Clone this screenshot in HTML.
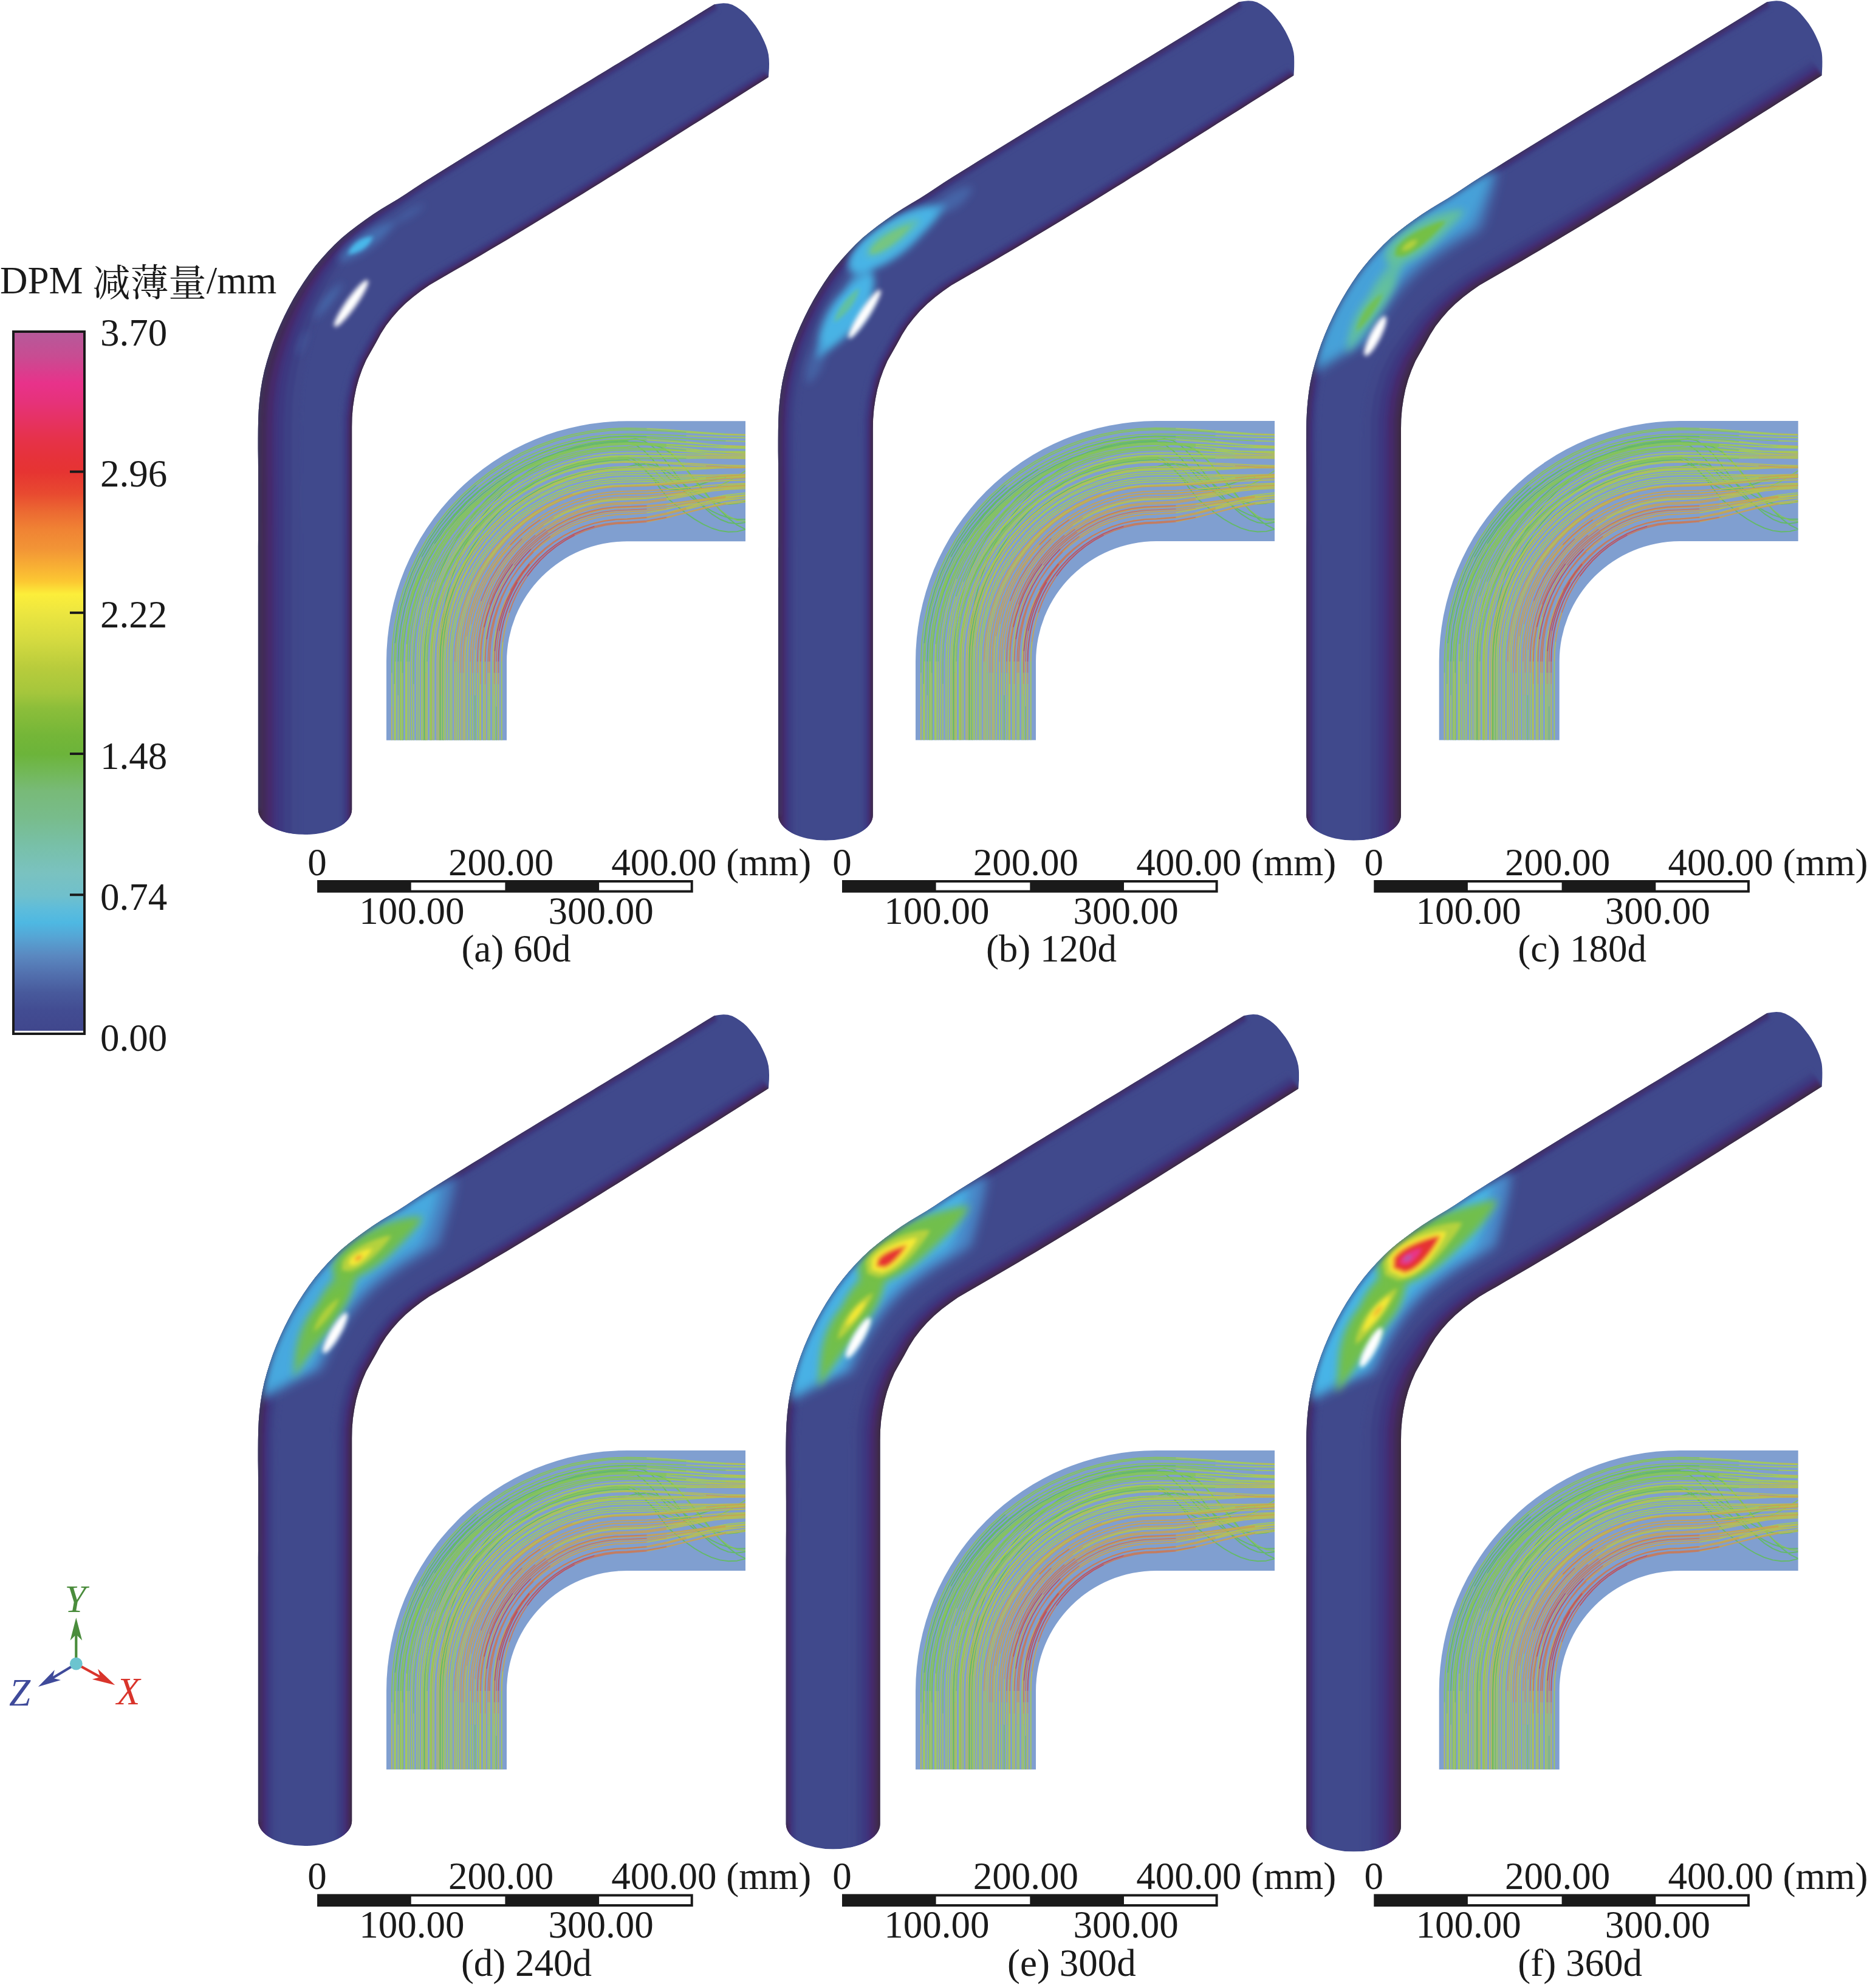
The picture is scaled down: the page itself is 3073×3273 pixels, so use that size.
<!DOCTYPE html>
<html lang="zh"><head><meta charset="utf-8"><title>DPM</title>
<style>html,body{margin:0;padding:0;background:#fff;overflow:hidden}svg{display:block}text{font-family:'Liberation Serif','Noto Serif CJK SC',serif;font-size:63px;fill:#1a1a1a}</style></head><body>
<svg width="3073" height="3273" viewBox="0 0 3073 3273">
<defs>
<filter id="b4" x="-50%" y="-50%" width="200%" height="200%"><feGaussianBlur stdDeviation="3.8"/></filter>
<filter id="b7" x="-30%" y="-30%" width="160%" height="160%"><feGaussianBlur stdDeviation="6.5"/></filter>
<filter id="b10" x="-30%" y="-30%" width="160%" height="160%"><feGaussianBlur stdDeviation="9"/></filter>
<filter id="b3" x="-30%" y="-30%" width="160%" height="160%"><feGaussianBlur stdDeviation="3"/></filter>
<filter id="b25" x="-5%" y="-5%" width="110%" height="110%"><feGaussianBlur stdDeviation="2.5"/></filter>
<clipPath id="pc"><path d="M424.9 1333 L424.9 900 L425 883.9 L425 867.8 L425.1 851.7 L425.1 835.6 L425.1 819.6 L425.1 803.5 L425 787.4 L425 771.3 L424.9 755.2 L424.7 739.1 L424.7 723 L424.8 706.9 L425.1 690.8 L425.8 674.8 L427.1 658.7 L429 642.7 L431.6 626.9 L435 611.1 L439.2 595.6 L443.9 580.2 L449.1 565 L454.9 550 L461.2 535.2 L468 520.6 L475.2 506.2 L482.9 492.1 L491.1 478.2 L499.8 464.7 L508.9 451.4 L518.6 438.6 L528.9 426.2 L539.7 414.3 L550.9 402.8 L562.6 391.7 L575 381.5 L587.8 371.7 L600.8 362.2 L614 353 L627.5 344.3 L641.3 335.9 L655.1 327.7 L668.7 319.1 L682.1 310.1 L695.5 301.3 L709.1 292.7 L722.7 284.2 L736.4 275.7 L750.1 267.2 L763.8 258.8 L777.5 250.3 L791.2 241.9 L804.9 233.4 L818.6 225 L832.3 216.6 L846 208.2 L859.8 199.8 L873.5 191.5 L887.3 183.1 L901 174.8 L914.8 166.5 L928.6 158.2 L942.3 149.8 L956.1 141.5 L969.9 133.2 L983.6 124.8 L997.4 116.5 L1011.1 108.1 L1024.9 99.8 L1038.6 91.4 L1052.3 83 L1066 74.6 L1079.8 66.2 L1093.5 57.8 L1107.2 49.4 L1120.9 40.9 L1134.6 32.5 L1148.3 24.1 L1162 15.6 L1175.7 7.2 L1175.7 7.2 L1183.4 5.9 L1190.9 5.2 L1198.2 5.7 L1205.2 7.8 L1211.8 11.3 L1218.2 15.4 L1224.2 19.9 L1229.5 25 L1234.4 30.7 L1239 36.5 L1243.6 42.5 L1247.7 48.7 L1251.4 55.1 L1254.8 61.8 L1258 68.5 L1260.9 75.4 L1263.2 82.5 L1264.9 89.8 L1265.7 97.2 L1266 104.7 L1265.9 112.1 L1265.4 119.6 L1264.9 127 L1264.9 127 L1251.1 135.7 L1237.2 144.5 L1223.4 153.2 L1209.6 162 L1195.7 170.7 L1181.9 179.4 L1168 188.2 L1154.2 196.9 L1140.3 205.6 L1126.5 214.3 L1112.6 223 L1098.8 231.8 L1084.9 240.5 L1071.1 249.2 L1057.2 257.9 L1043.3 266.5 L1029.5 275.2 L1015.6 283.9 L1001.7 292.5 L987.8 301.2 L973.9 309.8 L960 318.4 L946 327 L932.1 335.6 L918.1 344.1 L904.2 352.6 L890.2 361.1 L876.2 369.6 L862.2 378.1 L848.1 386.5 L834.1 394.9 L820 403.3 L805.9 411.6 L791.8 419.9 L777.7 428.2 L763.6 436.4 L749.4 444.6 L735.2 452.8 L721 460.9 L706.9 469.2 L693.5 478.6 L680.5 488.5 L668 499.1 L656.3 510.5 L645.5 522.8 L635.5 535.8 L626.7 549.6 L618.9 564 L610.8 578.2 L602.8 592.5 L596.3 607.5 L590.8 622.9 L586.4 638.7 L583.2 654.7 L580.8 671 L579.5 687.3 L579.2 703.6 L579.2 720 L579.2 736.4 L579.2 752.7 L579.2 769.1 L579.2 785.4 L579.2 801.8 L579.2 818.2 L579.2 834.5 L579.2 850.9 L579.2 867.3 L579.2 883.6 L579.2 900 L579.2 1333 A77.15 41 0 0 1 424.9 1333Z"/></clipPath>
<linearGradient id="cb" x1="0" y1="0" x2="0" y2="1"><stop offset="0%" stop-color="#b55a9a"/><stop offset="3.5%" stop-color="#c84c92"/><stop offset="7.4%" stop-color="#e8328a"/><stop offset="10%" stop-color="#e6327a"/><stop offset="12.7%" stop-color="#e63262"/><stop offset="15.3%" stop-color="#e6324a"/><stop offset="17.9%" stop-color="#e6323a"/><stop offset="20%" stop-color="#e63432"/><stop offset="23.1%" stop-color="#e84a30"/><stop offset="25.7%" stop-color="#ec6a32"/><stop offset="28.3%" stop-color="#f08434"/><stop offset="30.9%" stop-color="#f29436"/><stop offset="33.5%" stop-color="#f8b034"/><stop offset="35.6%" stop-color="#fcc832"/><stop offset="37.4%" stop-color="#fcee3a"/><stop offset="40%" stop-color="#ece640"/><stop offset="44%" stop-color="#d4da40"/><stop offset="47.9%" stop-color="#b8cc3c"/><stop offset="51.5%" stop-color="#a4c63c"/><stop offset="53.6%" stop-color="#8cbe3a"/><stop offset="57.6%" stop-color="#74b638"/><stop offset="60.2%" stop-color="#6cb43a"/><stop offset="62.8%" stop-color="#72b858"/><stop offset="65.4%" stop-color="#78ba78"/><stop offset="69.3%" stop-color="#78bc8c"/><stop offset="73.2%" stop-color="#78c0a8"/><stop offset="77.1%" stop-color="#7ac2c0"/><stop offset="80.3%" stop-color="#70c0cc"/><stop offset="82.4%" stop-color="#5cbcdc"/><stop offset="84.2%" stop-color="#4eb8e2"/><stop offset="86.3%" stop-color="#56a4d4"/><stop offset="88.9%" stop-color="#5a88c0"/><stop offset="91.5%" stop-color="#5270ae"/><stop offset="94.1%" stop-color="#485a9c"/><stop offset="96.7%" stop-color="#424c92"/><stop offset="100%" stop-color="#40468c"/></linearGradient>
<g id="o1"><polygon points="418.9,1385 418.9,1350.6 418.9,1316.1 418.9,1281.7 418.9,1247.3 418.9,1212.8 418.9,1178.4 418.9,1144 418.9,1109.5 418.9,1075.1 418.9,1040.7 418.9,1006.2 418.9,971.8 418.9,937.4 418.9,902.9 419,868.5 419.1,834.1 419.1,799.7 418.9,765.2 418.7,730.8 419,696.2 420.8,661.4 425.5,626.7 433.8,592.8 444.8,559.6 458.2,527.5 473.8,496.3 491.6,466.3 511.7,437.8 534.4,411.2 559.4,386.6 586.8,365 615.2,345 644.7,326.9 673.7,308.5 702.6,289.7 731.9,271.5 761.2,253.4 790.4,235.2 819.8,217.2 849.2,199.3 878.6,181.4 908.1,163.5 937.6,145.7 967,127.9 996.4,110 1025.8,92.1 1055.2,74.2 1084.6,56.2 1113.9,38.2 1143.2,20.1 1172.6,2.1 1183,19.1 1153.7,37.2 1124.4,55.2 1095,73.2 1065.7,91.2 1036.3,109.2 1006.8,127.1 977.4,145 947.9,162.8 918.4,180.6 889,198.5 859.6,216.3 830.2,234.3 800.9,252.3 771.7,270.4 742.4,288.5 713.3,306.6 684.6,325.4 656.1,345.2 628.7,365.4 603.8,387.8 581.4,411.7 563,437.9 547.4,465.5 534.7,494.3 524,523.7 515.1,553.5 507.8,583.2 502.1,612.3 498,640.4 495.9,668.4 495,698.5 494.7,730.9 494.9,764.8 495.1,799.5 495.1,834.1 495,868.7 494.9,903.1 494.9,937.4 494.9,971.8 494.9,1006.2 494.9,1040.7 494.9,1075.1 494.9,1109.5 494.9,1144 494.9,1178.4 494.9,1212.8 494.9,1247.3 494.9,1281.7 494.9,1316.1 494.9,1350.6 494.9,1385" fill="#3f478a"/><polygon points="418.9,1385 418.9,1350.6 418.9,1316.1 418.9,1281.7 418.9,1247.3 418.9,1212.8 418.9,1178.4 418.9,1144 418.9,1109.5 418.9,1075.1 418.9,1040.7 418.9,1006.2 418.9,971.8 418.9,937.4 418.9,902.9 419,868.5 419.1,834.1 419.1,799.7 418.9,765.2 418.7,730.8 419,696.2 420.8,661.4 425.5,626.7 433.8,592.8 444.8,559.6 458.2,527.5 473.8,496.3 491.6,466.3 511.7,437.8 534.4,411.2 559.4,386.6 586.8,365 615.2,345 644.7,326.9 673.7,308.5 702.6,289.7 731.9,271.5 761.2,253.4 790.4,235.2 819.8,217.2 849.2,199.3 878.6,181.4 908.1,163.5 937.6,145.7 967,127.9 996.4,110 1025.8,92.1 1055.2,74.2 1084.6,56.2 1113.9,38.2 1143.2,20.1 1172.6,2.1 1181.5,16.6 1152.1,34.6 1122.8,52.7 1093.5,70.7 1064.1,88.7 1034.7,106.6 1005.3,124.6 975.8,142.4 946.4,160.3 916.9,178.1 887.4,195.9 858,213.8 828.7,231.7 799.4,249.7 770.1,267.8 740.8,285.9 711.7,304.1 682.9,322.9 654.3,342.4 626.5,362.1 600.9,384 577.6,407.3 557.8,433 540.8,460.3 526.5,489 514.3,518.5 504.1,548.5 495.5,578.6 488.7,608.5 483.8,637.7 481.1,667.1 480,698 479.7,730.8 479.9,764.9 480.1,799.5 480.1,834.1 480,868.7 479.9,903 479.9,937.4 479.9,971.8 479.9,1006.2 479.9,1040.7 479.9,1075.1 479.9,1109.5 479.9,1144 479.9,1178.4 479.9,1212.8 479.9,1247.3 479.9,1281.7 479.9,1316.1 479.9,1350.6 479.9,1385" fill="#3e4085"/><polygon points="418.9,1385 418.9,1350.6 418.9,1316.1 418.9,1281.7 418.9,1247.3 418.9,1212.8 418.9,1178.4 418.9,1144 418.9,1109.5 418.9,1075.1 418.9,1040.7 418.9,1006.2 418.9,971.8 418.9,937.4 418.9,902.9 419,868.5 419.1,834.1 419.1,799.7 418.9,765.2 418.7,730.8 419,696.2 420.8,661.4 425.5,626.7 433.8,592.8 444.8,559.6 458.2,527.5 473.8,496.3 491.6,466.3 511.7,437.8 534.4,411.2 559.4,386.6 586.8,365 615.2,345 644.7,326.9 673.7,308.5 702.6,289.7 731.9,271.5 761.2,253.4 790.4,235.2 819.8,217.2 849.2,199.3 878.6,181.4 908.1,163.5 937.6,145.7 967,127.9 996.4,110 1025.8,92.1 1055.2,74.2 1084.6,56.2 1113.9,38.2 1143.2,20.1 1172.6,2.1 1180.1,14.4 1150.8,32.4 1121.4,50.4 1092.1,68.5 1062.7,86.5 1033.3,104.4 1003.9,122.3 974.5,140.2 945,158 915.5,175.9 886.1,193.7 856.7,211.6 827.3,229.5 798,247.5 768.7,265.6 739.4,283.7 710.3,301.9 681.5,320.7 652.8,339.9 624.6,359.3 598.4,380.6 574.2,403.5 553.3,428.8 535,455.9 519.4,484.4 506,513.9 494.5,544.1 484.8,574.6 477.1,605.2 471.4,635.4 468.3,665.9 467,697.6 466.7,730.8 466.9,765 467.1,799.5 467.1,834.1 467,868.6 466.9,903 466.9,937.4 466.9,971.8 466.9,1006.2 466.9,1040.7 466.9,1075.1 466.9,1109.5 466.9,1144 466.9,1178.4 466.9,1212.8 466.9,1247.3 466.9,1281.7 466.9,1316.1 466.9,1350.6 466.9,1385" fill="#3d3880"/><polygon points="418.9,1385 418.9,1350.6 418.9,1316.1 418.9,1281.7 418.9,1247.3 418.9,1212.8 418.9,1178.4 418.9,1144 418.9,1109.5 418.9,1075.1 418.9,1040.7 418.9,1006.2 418.9,971.8 418.9,937.4 418.9,902.9 419,868.5 419.1,834.1 419.1,799.7 418.9,765.2 418.7,730.8 419,696.2 420.8,661.4 425.5,626.7 433.8,592.8 444.8,559.6 458.2,527.5 473.8,496.3 491.6,466.3 511.7,437.8 534.4,411.2 559.4,386.6 586.8,365 615.2,345 644.7,326.9 673.7,308.5 702.6,289.7 731.9,271.5 761.2,253.4 790.4,235.2 819.8,217.2 849.2,199.3 878.6,181.4 908.1,163.5 937.6,145.7 967,127.9 996.4,110 1025.8,92.1 1055.2,74.2 1084.6,56.2 1113.9,38.2 1143.2,20.1 1172.6,2.1 1179.1,12.7 1149.7,30.7 1120.4,48.7 1091.1,66.8 1061.7,84.8 1032.3,102.7 1002.9,120.6 973.4,138.5 944,156.3 914.5,174.1 885.1,192 855.6,209.8 826.3,227.8 797,245.8 767.7,263.9 738.4,282 709.2,300.2 680.4,319 651.6,338 623.2,357.1 596.5,378.1 571.6,400.5 549.9,425.6 530.6,452.4 514,480.9 499.6,510.4 487.2,540.7 476.6,571.5 468.1,602.6 461.9,633.6 458.4,664.9 457,697.3 456.7,730.8 456.9,765 457.1,799.6 457.1,834.1 457,868.6 456.9,903 456.9,937.4 456.9,971.8 456.9,1006.2 456.9,1040.7 456.9,1075.1 456.9,1109.5 456.9,1144 456.9,1178.4 456.9,1212.8 456.9,1247.3 456.9,1281.7 456.9,1316.1 456.9,1350.6 456.9,1385" fill="#41307a"/><polygon points="418.9,1385 418.9,1350.6 418.9,1316.1 418.9,1281.7 418.9,1247.3 418.9,1212.8 418.9,1178.4 418.9,1144 418.9,1109.5 418.9,1075.1 418.9,1040.7 418.9,1006.2 418.9,971.8 418.9,937.4 418.9,902.9 419,868.5 419.1,834.1 419.1,799.7 418.9,765.2 418.7,730.8 419,696.2 420.8,661.4 425.5,626.7 433.8,592.8 444.8,559.6 458.2,527.5 473.8,496.3 491.6,466.3 511.7,437.8 534.4,411.2 559.4,386.6 586.8,365 615.2,345 644.7,326.9 673.7,308.5 702.6,289.7 731.9,271.5 761.2,253.4 790.4,235.2 819.8,217.2 849.2,199.3 878.6,181.4 908.1,163.5 937.6,145.7 967,127.9 996.4,110 1025.8,92.1 1055.2,74.2 1084.6,56.2 1113.9,38.2 1143.2,20.1 1172.6,2.1 1178.2,11.3 1148.9,29.3 1119.6,47.4 1090.2,65.4 1060.9,83.4 1031.5,101.4 1002.1,119.3 972.6,137.1 943.1,155 913.7,172.8 884.2,190.6 854.8,208.5 825.4,226.4 796.1,244.4 766.8,262.6 737.5,280.7 708.4,298.8 679.6,317.6 650.7,336.5 622,355.3 595,376 569.5,398.2 547.1,423 527.1,449.7 509.7,478 494.4,507.6 481.3,538 470.1,569.1 461,600.6 454.3,632.2 450.5,664.2 449,697.1 448.7,730.8 448.9,765.1 449.1,799.6 449.1,834.1 449,868.6 448.9,903 448.9,937.4 448.9,971.8 448.9,1006.2 448.9,1040.7 448.9,1075.1 448.9,1109.5 448.9,1144 448.9,1178.4 448.9,1212.8 448.9,1247.3 448.9,1281.7 448.9,1316.1 448.9,1350.6 448.9,1385" fill="#442c6c"/><polygon points="418.9,1385 418.9,1350.6 418.9,1316.1 418.9,1281.7 418.9,1247.3 418.9,1212.8 418.9,1178.4 418.9,1144 418.9,1109.5 418.9,1075.1 418.9,1040.7 418.9,1006.2 418.9,971.8 418.9,937.4 418.9,902.9 419,868.5 419.1,834.1 419.1,799.7 418.9,765.2 418.7,730.8 419,696.2 420.8,661.4 425.5,626.7 433.8,592.8 444.8,559.6 458.2,527.5 473.8,496.3 491.6,466.3 511.7,437.8 534.4,411.2 559.4,386.6 586.8,365 615.2,345 644.7,326.9 673.7,308.5 702.6,289.7 731.9,271.5 761.2,253.4 790.4,235.2 819.8,217.2 849.2,199.3 878.6,181.4 908.1,163.5 937.6,145.7 967,127.9 996.4,110 1025.8,92.1 1055.2,74.2 1084.6,56.2 1113.9,38.2 1143.2,20.1 1172.6,2.1 1177.2,9.6 1147.8,27.6 1118.5,45.7 1089.2,63.7 1059.8,81.7 1030.4,99.6 1001,117.6 971.6,135.4 942.1,153.2 912.6,171.1 883.2,188.9 853.8,206.8 824.4,224.7 795.1,242.7 765.8,260.8 736.5,279 707.3,297.1 678.5,315.9 649.5,334.6 620.6,353.1 593.1,373.4 567,395.3 543.6,419.8 522.6,446.3 504.2,474.5 488,504.1 473.9,534.7 461.9,566 452,598 444.8,630.4 440.6,663.3 439,696.8 438.7,730.8 438.9,765.1 439.1,799.6 439.1,834.1 439,868.5 438.9,903 438.9,937.4 438.9,971.8 438.9,1006.2 438.9,1040.7 438.9,1075.1 438.9,1109.5 438.9,1144 438.9,1178.4 438.9,1212.8 438.9,1247.3 438.9,1281.7 438.9,1316.1 438.9,1350.6 438.9,1385" fill="#432c58"/><polygon points="418.9,1385 418.9,1350.6 418.9,1316.1 418.9,1281.7 418.9,1247.3 418.9,1212.8 418.9,1178.4 418.9,1144 418.9,1109.5 418.9,1075.1 418.9,1040.7 418.9,1006.2 418.9,971.8 418.9,937.4 418.9,902.9 419,868.5 419.1,834.1 419.1,799.7 418.9,765.2 418.7,730.8 419,696.2 420.8,661.4 425.5,626.7 433.8,592.8 444.8,559.6 458.2,527.5 473.8,496.3 491.6,466.3 511.7,437.8 534.4,411.2 559.4,386.6 586.8,365 615.2,345 644.7,326.9 673.7,308.5 702.6,289.7 731.9,271.5 761.2,253.4 790.4,235.2 819.8,217.2 849.2,199.3 878.6,181.4 908.1,163.5 937.6,145.7 967,127.9 996.4,110 1025.8,92.1 1055.2,74.2 1084.6,56.2 1113.9,38.2 1143.2,20.1 1172.6,2.1 1176.3,8.2 1147,26.3 1117.7,44.3 1088.3,62.3 1059,80.3 1029.6,98.3 1000.2,116.2 970.7,134 941.3,151.9 911.8,169.7 882.4,187.5 852.9,205.4 823.6,223.3 794.2,241.4 764.9,259.5 735.7,277.6 706.4,295.8 677.6,314.6 648.6,333.1 619.4,351.4 591.5,371.4 564.9,392.9 540.9,417.2 519.1,443.5 499.9,471.7 482.9,501.3 468,532 455.3,563.6 444.9,595.9 437.1,628.9 432.7,662.5 431,696.5 430.7,730.8 430.9,765.2 431.1,799.6 431.1,834.1 431,868.5 430.9,902.9 430.9,937.4 430.9,971.8 430.9,1006.2 430.9,1040.7 430.9,1075.1 430.9,1109.5 430.9,1144 430.9,1178.4 430.9,1212.8 430.9,1247.3 430.9,1281.7 430.9,1316.1 430.9,1350.6 430.9,1385" fill="#402e48"/><polygon points="418.9,1385 418.9,1350.6 418.9,1316.1 418.9,1281.7 418.9,1247.3 418.9,1212.8 418.9,1178.4 418.9,1144 418.9,1109.5 418.9,1075.1 418.9,1040.7 418.9,1006.2 418.9,971.8 418.9,937.4 418.9,902.9 419,868.5 419.1,834.1 419.1,799.7 418.9,765.2 418.7,730.8 419,696.2 420.8,661.4 425.5,626.7 433.8,592.8 444.8,559.6 458.2,527.5 473.8,496.3 491.6,466.3 511.7,437.8 534.4,411.2 559.4,386.6 586.8,365 615.2,345 644.7,326.9 673.7,308.5 702.6,289.7 731.9,271.5 761.2,253.4 790.4,235.2 819.8,217.2 849.2,199.3 878.6,181.4 908.1,163.5 937.6,145.7 967,127.9 996.4,110 1025.8,92.1 1055.2,74.2 1084.6,56.2 1113.9,38.2 1143.2,20.1 1172.6,2.1 1176,7.6 1146.6,25.7 1117.3,43.7 1088,61.7 1058.6,79.7 1029.2,97.7 999.8,115.6 970.4,133.5 940.9,151.3 911.5,169.1 882,186.9 852.6,204.8 823.2,222.7 793.9,240.8 764.6,258.9 735.3,277 706.1,295.2 677.2,314 648.2,332.5 618.9,350.6 590.9,370.5 564,391.9 539.7,416.1 517.5,442.3 498,470.5 480.6,500 465.5,530.8 452.4,562.5 441.8,595.1 433.8,628.3 429.3,662.2 427.5,696.4 427.2,730.8 427.4,765.2 427.6,799.6 427.6,834.1 427.5,868.5 427.4,902.9 427.4,937.4 427.4,971.8 427.4,1006.2 427.4,1040.7 427.4,1075.1 427.4,1109.5 427.4,1144 427.4,1178.4 427.4,1212.8 427.4,1247.3 427.4,1281.7 427.4,1316.1 427.4,1350.6 427.4,1385" fill="#3a2a3c"/></g>
<g id="o2"><polygon points="418.9,1385 418.9,1350.6 418.9,1316.1 418.9,1281.7 418.9,1247.3 418.9,1212.8 418.9,1178.4 418.9,1144 418.9,1109.5 418.9,1075.1 418.9,1040.7 418.9,1006.2 418.9,971.8 418.9,937.4 418.9,902.9 419,868.5 419.1,834.1 419.1,799.7 418.9,765.2 418.7,730.8 419,696.2 420.8,661.4 425.5,626.7 433.8,592.8 444.8,559.6 458.2,527.5 473.8,496.3 491.6,466.3 511.7,437.8 534.4,411.2 559.4,386.6 586.8,365 615.2,345 644.7,326.9 673.7,308.5 702.6,289.7 731.9,271.5 761.2,253.4 790.4,235.2 819.8,217.2 849.2,199.3 878.6,181.4 908.1,163.5 937.6,145.7 967,127.9 996.4,110 1025.8,92.1 1055.2,74.2 1084.6,56.2 1113.9,38.2 1143.2,20.1 1172.6,2.1 1183,19.1 1153.7,37.2 1124.4,55.2 1095,73.2 1065.7,91.2 1036.3,109.2 1006.8,127.1 977.4,145 947.9,162.8 918.4,180.6 889,198.5 859.6,216.3 830.2,234.3 800.9,252.3 771.7,270.4 742.4,288.5 713.3,306.6 684.5,325.4 655.5,344.3 627,362.9 600.3,383.2 575.4,404.8 553.4,428.9 533.7,454.9 516.6,482.5 501.5,511.5 488.5,541.3 477.4,571.8 468.3,602.7 461.7,633.6 458,664.9 456.5,697.3 456.2,730.8 456.4,765 456.6,799.6 456.6,834.1 456.5,868.6 456.4,903 456.4,937.4 456.4,971.8 456.4,1006.2 456.4,1040.7 456.4,1075.1 456.4,1109.5 456.4,1144 456.4,1178.4 456.4,1212.8 456.4,1247.3 456.4,1281.7 456.4,1316.1 456.4,1350.6 456.4,1385" fill="#3f478a"/><polygon points="418.9,1385 418.9,1350.6 418.9,1316.1 418.9,1281.7 418.9,1247.3 418.9,1212.8 418.9,1178.4 418.9,1144 418.9,1109.5 418.9,1075.1 418.9,1040.7 418.9,1006.2 418.9,971.8 418.9,937.4 418.9,902.9 419,868.5 419.1,834.1 419.1,799.7 418.9,765.2 418.7,730.8 419,696.2 420.8,661.4 425.5,626.7 433.8,592.8 444.8,559.6 458.2,527.5 473.8,496.3 491.6,466.3 511.7,437.8 534.4,411.2 559.4,386.6 586.8,365 615.2,345 644.7,326.9 673.7,308.5 702.6,289.7 731.9,271.5 761.2,253.4 790.4,235.2 819.8,217.2 849.2,199.3 878.6,181.4 908.1,163.5 937.6,145.7 967,127.9 996.4,110 1025.8,92.1 1055.2,74.2 1084.6,56.2 1113.9,38.2 1143.2,20.1 1172.6,2.1 1181.5,16.6 1152.1,34.6 1122.8,52.7 1093.5,70.7 1064.1,88.7 1034.7,106.6 1005.3,124.6 975.8,142.4 946.4,160.3 916.9,178.1 887.4,195.9 858,213.8 828.7,231.7 799.4,249.7 770.1,267.8 740.8,285.9 711.7,304.1 682.9,322.8 653.9,341.7 625.2,360.1 598.2,380.3 572.8,401.9 550.3,426 530,452 512.3,479.8 496.7,508.8 483.1,538.9 471.6,569.7 462.2,600.9 455.2,632.3 451.3,664.3 449.8,697.1 449.5,730.8 449.7,765.1 449.8,799.6 449.8,834.1 449.8,868.6 449.6,903 449.6,937.4 449.6,971.8 449.6,1006.2 449.6,1040.7 449.6,1075.1 449.6,1109.5 449.6,1144 449.6,1178.4 449.6,1212.8 449.6,1247.3 449.6,1281.7 449.6,1316.1 449.6,1350.6 449.6,1385" fill="#3e4085"/><polygon points="418.9,1385 418.9,1350.6 418.9,1316.1 418.9,1281.7 418.9,1247.3 418.9,1212.8 418.9,1178.4 418.9,1144 418.9,1109.5 418.9,1075.1 418.9,1040.7 418.9,1006.2 418.9,971.8 418.9,937.4 418.9,902.9 419,868.5 419.1,834.1 419.1,799.7 418.9,765.2 418.7,730.8 419,696.2 420.8,661.4 425.5,626.7 433.8,592.8 444.8,559.6 458.2,527.5 473.8,496.3 491.6,466.3 511.7,437.8 534.4,411.2 559.4,386.6 586.8,365 615.2,345 644.7,326.9 673.7,308.5 702.6,289.7 731.9,271.5 761.2,253.4 790.4,235.2 819.8,217.2 849.2,199.3 878.6,181.4 908.1,163.5 937.6,145.7 967,127.9 996.4,110 1025.8,92.1 1055.2,74.2 1084.6,56.2 1113.9,38.2 1143.2,20.1 1172.6,2.1 1180.1,14.4 1150.8,32.4 1121.4,50.4 1092.1,68.5 1062.7,86.5 1033.3,104.4 1003.9,122.3 974.5,140.2 945,158 915.5,175.9 886.1,193.7 856.7,211.6 827.3,229.5 798,247.5 768.7,265.6 739.4,283.7 710.3,301.9 681.5,320.7 652.5,339.4 623.6,357.8 596.3,377.9 570.5,399.3 547.6,423.4 526.8,449.5 508.6,477.4 492.5,506.5 478.5,536.8 466.6,567.8 456.8,599.4 449.6,631.3 445.5,663.7 443.9,696.9 443.6,730.8 443.8,765.1 444,799.6 444,834.1 443.9,868.6 443.8,903 443.8,937.4 443.8,971.8 443.8,1006.2 443.8,1040.7 443.8,1075.1 443.8,1109.5 443.8,1144 443.8,1178.4 443.8,1212.8 443.8,1247.3 443.8,1281.7 443.8,1316.1 443.8,1350.6 443.8,1385" fill="#3d3880"/><polygon points="418.9,1385 418.9,1350.6 418.9,1316.1 418.9,1281.7 418.9,1247.3 418.9,1212.8 418.9,1178.4 418.9,1144 418.9,1109.5 418.9,1075.1 418.9,1040.7 418.9,1006.2 418.9,971.8 418.9,937.4 418.9,902.9 419,868.5 419.1,834.1 419.1,799.7 418.9,765.2 418.7,730.8 419,696.2 420.8,661.4 425.5,626.7 433.8,592.8 444.8,559.6 458.2,527.5 473.8,496.3 491.6,466.3 511.7,437.8 534.4,411.2 559.4,386.6 586.8,365 615.2,345 644.7,326.9 673.7,308.5 702.6,289.7 731.9,271.5 761.2,253.4 790.4,235.2 819.8,217.2 849.2,199.3 878.6,181.4 908.1,163.5 937.6,145.7 967,127.9 996.4,110 1025.8,92.1 1055.2,74.2 1084.6,56.2 1113.9,38.2 1143.2,20.1 1172.6,2.1 1179.1,12.7 1149.7,30.7 1120.4,48.7 1091.1,66.8 1061.7,84.8 1032.3,102.7 1002.9,120.6 973.4,138.5 944,156.3 914.5,174.1 885.1,192 855.6,209.8 826.3,227.8 797,245.8 767.7,263.9 738.4,282 709.2,300.2 680.4,319 651.4,337.6 622.4,355.9 594.9,375.9 568.8,397.4 545.5,421.5 524.3,447.6 505.8,475.5 489.3,504.8 475,535.2 462.7,566.3 452.7,598.2 445.3,630.5 441.1,663.3 439.4,696.8 439.1,730.8 439.3,765.1 439.5,799.6 439.5,834.1 439.4,868.5 439.3,903 439.3,937.4 439.3,971.8 439.3,1006.2 439.3,1040.7 439.3,1075.1 439.3,1109.5 439.3,1144 439.3,1178.4 439.3,1212.8 439.3,1247.3 439.3,1281.7 439.3,1316.1 439.3,1350.6 439.3,1385" fill="#41307a"/><polygon points="418.9,1385 418.9,1350.6 418.9,1316.1 418.9,1281.7 418.9,1247.3 418.9,1212.8 418.9,1178.4 418.9,1144 418.9,1109.5 418.9,1075.1 418.9,1040.7 418.9,1006.2 418.9,971.8 418.9,937.4 418.9,902.9 419,868.5 419.1,834.1 419.1,799.7 418.9,765.2 418.7,730.8 419,696.2 420.8,661.4 425.5,626.7 433.8,592.8 444.8,559.6 458.2,527.5 473.8,496.3 491.6,466.3 511.7,437.8 534.4,411.2 559.4,386.6 586.8,365 615.2,345 644.7,326.9 673.7,308.5 702.6,289.7 731.9,271.5 761.2,253.4 790.4,235.2 819.8,217.2 849.2,199.3 878.6,181.4 908.1,163.5 937.6,145.7 967,127.9 996.4,110 1025.8,92.1 1055.2,74.2 1084.6,56.2 1113.9,38.2 1143.2,20.1 1172.6,2.1 1178.2,11.3 1148.9,29.3 1119.6,47.4 1090.2,65.4 1060.9,83.4 1031.5,101.4 1002.1,119.3 972.6,137.1 943.1,155 913.7,172.8 884.2,190.6 854.8,208.5 825.4,226.4 796.1,244.4 766.8,262.6 737.5,280.7 708.4,298.8 679.5,317.6 650.5,336.2 621.4,354.5 593.8,374.4 567.5,395.8 543.8,419.9 522.4,446 503.5,474 486.7,503.4 472.1,533.9 459.6,565.2 449.4,597.2 441.8,629.8 437.5,663 435.8,696.7 435.5,730.8 435.7,765.2 435.9,799.6 435.9,834.1 435.8,868.5 435.7,903 435.7,937.4 435.7,971.8 435.7,1006.2 435.7,1040.7 435.7,1075.1 435.7,1109.5 435.7,1144 435.7,1178.4 435.7,1212.8 435.7,1247.3 435.7,1281.7 435.7,1316.1 435.7,1350.6 435.7,1385" fill="#442c6c"/><polygon points="418.9,1385 418.9,1350.6 418.9,1316.1 418.9,1281.7 418.9,1247.3 418.9,1212.8 418.9,1178.4 418.9,1144 418.9,1109.5 418.9,1075.1 418.9,1040.7 418.9,1006.2 418.9,971.8 418.9,937.4 418.9,902.9 419,868.5 419.1,834.1 419.1,799.7 418.9,765.2 418.7,730.8 419,696.2 420.8,661.4 425.5,626.7 433.8,592.8 444.8,559.6 458.2,527.5 473.8,496.3 491.6,466.3 511.7,437.8 534.4,411.2 559.4,386.6 586.8,365 615.2,345 644.7,326.9 673.7,308.5 702.6,289.7 731.9,271.5 761.2,253.4 790.4,235.2 819.8,217.2 849.2,199.3 878.6,181.4 908.1,163.5 937.6,145.7 967,127.9 996.4,110 1025.8,92.1 1055.2,74.2 1084.6,56.2 1113.9,38.2 1143.2,20.1 1172.6,2.1 1177.2,9.6 1147.8,27.6 1118.5,45.7 1089.2,63.7 1059.8,81.7 1030.4,99.6 1001,117.6 971.6,135.4 942.1,153.2 912.6,171.1 883.2,188.9 853.8,206.8 824.4,224.7 795.1,242.7 765.8,260.8 736.5,279 707.3,297.1 678.5,315.9 649.4,334.5 620.2,352.6 592.4,372.5 565.7,393.9 541.7,418 519.9,444.1 500.6,472.2 483.5,501.6 468.6,532.2 455.8,563.8 445.3,596.1 437.5,629 433.1,662.6 431.3,696.5 431,730.8 431.2,765.2 431.4,799.6 431.4,834.1 431.3,868.5 431.2,902.9 431.2,937.4 431.2,971.8 431.2,1006.2 431.2,1040.7 431.2,1075.1 431.2,1109.5 431.2,1144 431.2,1178.4 431.2,1212.8 431.2,1247.3 431.2,1281.7 431.2,1316.1 431.2,1350.6 431.2,1385" fill="#432c58"/><polygon points="418.9,1385 418.9,1350.6 418.9,1316.1 418.9,1281.7 418.9,1247.3 418.9,1212.8 418.9,1178.4 418.9,1144 418.9,1109.5 418.9,1075.1 418.9,1040.7 418.9,1006.2 418.9,971.8 418.9,937.4 418.9,902.9 419,868.5 419.1,834.1 419.1,799.7 418.9,765.2 418.7,730.8 419,696.2 420.8,661.4 425.5,626.7 433.8,592.8 444.8,559.6 458.2,527.5 473.8,496.3 491.6,466.3 511.7,437.8 534.4,411.2 559.4,386.6 586.8,365 615.2,345 644.7,326.9 673.7,308.5 702.6,289.7 731.9,271.5 761.2,253.4 790.4,235.2 819.8,217.2 849.2,199.3 878.6,181.4 908.1,163.5 937.6,145.7 967,127.9 996.4,110 1025.8,92.1 1055.2,74.2 1084.6,56.2 1113.9,38.2 1143.2,20.1 1172.6,2.1 1176.3,8.2 1147,26.3 1117.7,44.3 1088.3,62.3 1059,80.3 1029.6,98.3 1000.2,116.2 970.7,134 941.3,151.9 911.8,169.7 882.4,187.5 852.9,205.4 823.6,223.3 794.2,241.4 764.9,259.5 735.7,277.6 706.4,295.8 677.6,314.6 648.5,333.1 619.3,351.2 591.2,371 564.4,392.3 540,416.4 517.9,442.6 498.3,470.7 480.9,500.2 465.8,530.9 452.7,562.6 442,595.1 434,628.3 429.5,662.2 427.7,696.4 427.4,730.8 427.6,765.2 427.8,799.6 427.8,834.1 427.7,868.5 427.6,902.9 427.6,937.4 427.6,971.8 427.6,1006.2 427.6,1040.7 427.6,1075.1 427.6,1109.5 427.6,1144 427.6,1178.4 427.6,1212.8 427.6,1247.3 427.6,1281.7 427.6,1316.1 427.6,1350.6 427.6,1385" fill="#402e48"/><polygon points="418.9,1385 418.9,1350.6 418.9,1316.1 418.9,1281.7 418.9,1247.3 418.9,1212.8 418.9,1178.4 418.9,1144 418.9,1109.5 418.9,1075.1 418.9,1040.7 418.9,1006.2 418.9,971.8 418.9,937.4 418.9,902.9 419,868.5 419.1,834.1 419.1,799.7 418.9,765.2 418.7,730.8 419,696.2 420.8,661.4 425.5,626.7 433.8,592.8 444.8,559.6 458.2,527.5 473.8,496.3 491.6,466.3 511.7,437.8 534.4,411.2 559.4,386.6 586.8,365 615.2,345 644.7,326.9 673.7,308.5 702.6,289.7 731.9,271.5 761.2,253.4 790.4,235.2 819.8,217.2 849.2,199.3 878.6,181.4 908.1,163.5 937.6,145.7 967,127.9 996.4,110 1025.8,92.1 1055.2,74.2 1084.6,56.2 1113.9,38.2 1143.2,20.1 1172.6,2.1 1176,7.6 1146.6,25.7 1117.3,43.7 1088,61.7 1058.6,79.7 1029.2,97.7 999.8,115.6 970.4,133.5 940.9,151.3 911.5,169.1 882,186.9 852.6,204.8 823.2,222.7 793.9,240.8 764.6,258.9 735.3,277 706.1,295.2 677.2,314 648.1,332.4 618.8,350.5 590.7,370.3 563.8,391.6 539.3,415.8 517.1,441.9 497.3,470.1 479.8,499.6 464.5,530.4 451.4,562.1 440.6,594.7 432.5,628.1 427.9,662.1 426.1,696.4 425.8,730.8 426.1,765.2 426.2,799.6 426.2,834.1 426.1,868.5 426,902.9 426,937.4 426,971.8 426,1006.2 426,1040.7 426,1075.1 426,1109.5 426,1144 426,1178.4 426,1212.8 426,1247.3 426,1281.7 426,1316.1 426,1350.6 426,1385" fill="#3a2a3c"/></g>
<g id="o3"><polygon points="418.9,1385 418.9,1350.6 418.9,1316.1 418.9,1281.7 418.9,1247.3 418.9,1212.8 418.9,1178.4 418.9,1144 418.9,1109.5 418.9,1075.1 418.9,1040.7 418.9,1006.2 418.9,971.8 418.9,937.4 418.9,902.9 419,868.5 419.1,834.1 419.1,799.7 418.9,765.2 418.7,730.8 419,696.2 420.8,661.4 425.5,626.7 433.8,592.8 444.8,559.6 458.2,527.5 473.8,496.3 491.6,466.3 511.7,437.8 534.4,411.2 559.4,386.6 586.8,365 615.2,345 644.7,326.9 673.7,308.5 702.6,289.7 731.9,271.5 761.2,253.4 790.4,235.2 819.8,217.2 849.2,199.3 878.6,181.4 908.1,163.5 937.6,145.7 967,127.9 996.4,110 1025.8,92.1 1055.2,74.2 1084.6,56.2 1113.9,38.2 1143.2,20.1 1172.6,2.1 1183,19.1 1153.7,37.2 1124.4,55.2 1095,73.2 1065.7,91.2 1036.3,109.2 1006.8,127.1 977.4,145 947.9,162.8 918.4,180.6 889,198.5 859.6,216.3 830.2,234.3 800.9,252.3 771.7,270.4 742.4,288.5 713.3,306.6 684.5,325.4 655.4,344 626.5,362.1 599.2,381.8 573.5,402.7 550.4,426.1 529.5,451.6 511,478.9 494.6,507.7 480.2,537.6 467.9,568.3 457.9,599.7 450.5,631.4 446.3,663.8 444.6,696.9 444.3,730.8 444.5,765.1 444.7,799.6 444.7,834.1 444.6,868.6 444.5,903 444.5,937.4 444.5,971.8 444.5,1006.2 444.5,1040.7 444.5,1075.1 444.5,1109.5 444.5,1144 444.5,1178.4 444.5,1212.8 444.5,1247.3 444.5,1281.7 444.5,1316.1 444.5,1350.6 444.5,1385" fill="#3f478a"/><polygon points="418.9,1385 418.9,1350.6 418.9,1316.1 418.9,1281.7 418.9,1247.3 418.9,1212.8 418.9,1178.4 418.9,1144 418.9,1109.5 418.9,1075.1 418.9,1040.7 418.9,1006.2 418.9,971.8 418.9,937.4 418.9,902.9 419,868.5 419.1,834.1 419.1,799.7 418.9,765.2 418.7,730.8 419,696.2 420.8,661.4 425.5,626.7 433.8,592.8 444.8,559.6 458.2,527.5 473.8,496.3 491.6,466.3 511.7,437.8 534.4,411.2 559.4,386.6 586.8,365 615.2,345 644.7,326.9 673.7,308.5 702.6,289.7 731.9,271.5 761.2,253.4 790.4,235.2 819.8,217.2 849.2,199.3 878.6,181.4 908.1,163.5 937.6,145.7 967,127.9 996.4,110 1025.8,92.1 1055.2,74.2 1084.6,56.2 1113.9,38.2 1143.2,20.1 1172.6,2.1 1181.5,16.6 1152.1,34.6 1122.8,52.7 1093.5,70.7 1064.1,88.7 1034.7,106.6 1005.3,124.6 975.8,142.4 946.4,160.3 916.9,178.1 887.4,195.9 858,213.8 828.7,231.7 799.4,249.7 770.1,267.8 740.8,285.9 711.7,304.1 682.9,322.8 653.8,341.4 624.8,359.5 597.3,379.2 571.3,400.2 547.9,423.8 526.7,449.4 507.9,476.9 491.2,505.9 476.7,535.9 464.2,566.9 454,598.5 446.4,630.7 442.1,663.4 440.4,696.8 440.1,730.8 440.3,765.1 440.5,799.6 440.5,834.1 440.4,868.5 440.3,903 440.3,937.4 440.3,971.8 440.3,1006.2 440.3,1040.7 440.3,1075.1 440.3,1109.5 440.3,1144 440.3,1178.4 440.3,1212.8 440.3,1247.3 440.3,1281.7 440.3,1316.1 440.3,1350.6 440.3,1385" fill="#3e4085"/><polygon points="418.9,1385 418.9,1350.6 418.9,1316.1 418.9,1281.7 418.9,1247.3 418.9,1212.8 418.9,1178.4 418.9,1144 418.9,1109.5 418.9,1075.1 418.9,1040.7 418.9,1006.2 418.9,971.8 418.9,937.4 418.9,902.9 419,868.5 419.1,834.1 419.1,799.7 418.9,765.2 418.7,730.8 419,696.2 420.8,661.4 425.5,626.7 433.8,592.8 444.8,559.6 458.2,527.5 473.8,496.3 491.6,466.3 511.7,437.8 534.4,411.2 559.4,386.6 586.8,365 615.2,345 644.7,326.9 673.7,308.5 702.6,289.7 731.9,271.5 761.2,253.4 790.4,235.2 819.8,217.2 849.2,199.3 878.6,181.4 908.1,163.5 937.6,145.7 967,127.9 996.4,110 1025.8,92.1 1055.2,74.2 1084.6,56.2 1113.9,38.2 1143.2,20.1 1172.6,2.1 1180.1,14.4 1150.8,32.4 1121.4,50.4 1092.1,68.5 1062.7,86.5 1033.3,104.4 1003.9,122.3 974.5,140.2 945,158 915.5,175.9 886.1,193.7 856.7,211.6 827.3,229.5 798,247.5 768.7,265.6 739.4,283.7 710.3,301.9 681.5,320.6 652.4,339.2 623.3,357.3 595.7,377 569.4,398.1 545.8,421.8 524.3,447.5 505.3,475.2 488.3,504.3 473.6,534.5 460.9,565.7 450.6,597.6 442.9,630 438.5,663.1 436.8,696.7 436.5,730.8 436.7,765.1 436.8,799.6 436.9,834.1 436.8,868.5 436.7,903 436.7,937.4 436.7,971.8 436.7,1006.2 436.7,1040.7 436.7,1075.1 436.7,1109.5 436.7,1144 436.7,1178.4 436.7,1212.8 436.7,1247.3 436.7,1281.7 436.7,1316.1 436.7,1350.6 436.7,1385" fill="#3d3880"/><polygon points="418.9,1385 418.9,1350.6 418.9,1316.1 418.9,1281.7 418.9,1247.3 418.9,1212.8 418.9,1178.4 418.9,1144 418.9,1109.5 418.9,1075.1 418.9,1040.7 418.9,1006.2 418.9,971.8 418.9,937.4 418.9,902.9 419,868.5 419.1,834.1 419.1,799.7 418.9,765.2 418.7,730.8 419,696.2 420.8,661.4 425.5,626.7 433.8,592.8 444.8,559.6 458.2,527.5 473.8,496.3 491.6,466.3 511.7,437.8 534.4,411.2 559.4,386.6 586.8,365 615.2,345 644.7,326.9 673.7,308.5 702.6,289.7 731.9,271.5 761.2,253.4 790.4,235.2 819.8,217.2 849.2,199.3 878.6,181.4 908.1,163.5 937.6,145.7 967,127.9 996.4,110 1025.8,92.1 1055.2,74.2 1084.6,56.2 1113.9,38.2 1143.2,20.1 1172.6,2.1 1179.1,12.7 1149.7,30.7 1120.4,48.7 1091.1,66.8 1061.7,84.8 1032.3,102.7 1002.9,120.6 973.4,138.5 944,156.3 914.5,174.1 885.1,192 855.6,209.8 826.3,227.8 797,245.8 767.7,263.9 738.4,282 709.2,300.2 680.4,319 651.3,337.5 622.2,355.6 594.4,375.3 568,396.4 544.1,420.2 522.4,446.1 503.2,473.9 486.1,503.1 471.2,533.4 458.4,564.7 447.9,596.8 440.1,629.5 435.7,662.8 434,696.6 433.7,730.8 433.9,765.2 434,799.6 434.1,834.1 434,868.5 433.9,903 433.9,937.4 433.9,971.8 433.9,1006.2 433.9,1040.7 433.9,1075.1 433.9,1109.5 433.9,1144 433.9,1178.4 433.9,1212.8 433.9,1247.3 433.9,1281.7 433.9,1316.1 433.9,1350.6 433.9,1385" fill="#41307a"/><polygon points="418.9,1385 418.9,1350.6 418.9,1316.1 418.9,1281.7 418.9,1247.3 418.9,1212.8 418.9,1178.4 418.9,1144 418.9,1109.5 418.9,1075.1 418.9,1040.7 418.9,1006.2 418.9,971.8 418.9,937.4 418.9,902.9 419,868.5 419.1,834.1 419.1,799.7 418.9,765.2 418.7,730.8 419,696.2 420.8,661.4 425.5,626.7 433.8,592.8 444.8,559.6 458.2,527.5 473.8,496.3 491.6,466.3 511.7,437.8 534.4,411.2 559.4,386.6 586.8,365 615.2,345 644.7,326.9 673.7,308.5 702.6,289.7 731.9,271.5 761.2,253.4 790.4,235.2 819.8,217.2 849.2,199.3 878.6,181.4 908.1,163.5 937.6,145.7 967,127.9 996.4,110 1025.8,92.1 1055.2,74.2 1084.6,56.2 1113.9,38.2 1143.2,20.1 1172.6,2.1 1178.2,11.3 1148.9,29.3 1119.6,47.4 1090.2,65.4 1060.9,83.4 1031.5,101.4 1002.1,119.3 972.6,137.1 943.1,155 913.7,172.8 884.2,190.6 854.8,208.5 825.4,226.4 796.1,244.4 766.8,262.6 737.5,280.7 708.4,298.8 679.5,317.6 650.4,336.1 621.3,354.2 593.4,373.9 566.8,395.1 542.8,419 520.9,444.9 501.6,472.8 484.3,502.1 469.3,532.6 456.4,564 445.8,596.2 438,629.1 433.5,662.6 431.7,696.6 431.4,730.8 431.7,765.2 431.8,799.6 431.8,834.1 431.7,868.5 431.6,903 431.6,937.4 431.6,971.8 431.6,1006.2 431.6,1040.7 431.6,1075.1 431.6,1109.5 431.6,1144 431.6,1178.4 431.6,1212.8 431.6,1247.3 431.6,1281.7 431.6,1316.1 431.6,1350.6 431.6,1385" fill="#442c6c"/><polygon points="418.9,1385 418.9,1350.6 418.9,1316.1 418.9,1281.7 418.9,1247.3 418.9,1212.8 418.9,1178.4 418.9,1144 418.9,1109.5 418.9,1075.1 418.9,1040.7 418.9,1006.2 418.9,971.8 418.9,937.4 418.9,902.9 419,868.5 419.1,834.1 419.1,799.7 418.9,765.2 418.7,730.8 419,696.2 420.8,661.4 425.5,626.7 433.8,592.8 444.8,559.6 458.2,527.5 473.8,496.3 491.6,466.3 511.7,437.8 534.4,411.2 559.4,386.6 586.8,365 615.2,345 644.7,326.9 673.7,308.5 702.6,289.7 731.9,271.5 761.2,253.4 790.4,235.2 819.8,217.2 849.2,199.3 878.6,181.4 908.1,163.5 937.6,145.7 967,127.9 996.4,110 1025.8,92.1 1055.2,74.2 1084.6,56.2 1113.9,38.2 1143.2,20.1 1172.6,2.1 1177.2,9.6 1147.8,27.6 1118.5,45.7 1089.2,63.7 1059.8,81.7 1030.4,99.6 1001,117.6 971.6,135.4 942.1,153.2 912.6,171.1 883.2,188.9 853.8,206.8 824.4,224.7 795.1,242.7 765.8,260.8 736.5,279 707.3,297.1 678.5,315.9 649.4,334.4 620.1,352.5 592.2,372.2 565.4,393.4 541.1,417.4 519.1,443.5 499.5,471.5 482.1,500.9 466.9,531.5 453.9,563.1 443.2,595.5 435.2,628.6 430.7,662.3 428.9,696.5 428.6,730.8 428.9,765.2 429,799.6 429,834.1 428.9,868.5 428.8,902.9 428.8,937.4 428.8,971.8 428.8,1006.2 428.8,1040.7 428.8,1075.1 428.8,1109.5 428.8,1144 428.8,1178.4 428.8,1212.8 428.8,1247.3 428.8,1281.7 428.8,1316.1 428.8,1350.6 428.8,1385" fill="#432c58"/><polygon points="418.9,1385 418.9,1350.6 418.9,1316.1 418.9,1281.7 418.9,1247.3 418.9,1212.8 418.9,1178.4 418.9,1144 418.9,1109.5 418.9,1075.1 418.9,1040.7 418.9,1006.2 418.9,971.8 418.9,937.4 418.9,902.9 419,868.5 419.1,834.1 419.1,799.7 418.9,765.2 418.7,730.8 419,696.2 420.8,661.4 425.5,626.7 433.8,592.8 444.8,559.6 458.2,527.5 473.8,496.3 491.6,466.3 511.7,437.8 534.4,411.2 559.4,386.6 586.8,365 615.2,345 644.7,326.9 673.7,308.5 702.6,289.7 731.9,271.5 761.2,253.4 790.4,235.2 819.8,217.2 849.2,199.3 878.6,181.4 908.1,163.5 937.6,145.7 967,127.9 996.4,110 1025.8,92.1 1055.2,74.2 1084.6,56.2 1113.9,38.2 1143.2,20.1 1172.6,2.1 1176.3,8.2 1147,26.3 1117.7,44.3 1088.3,62.3 1059,80.3 1029.6,98.3 1000.2,116.2 970.7,134 941.3,151.9 911.8,169.7 882.4,187.5 852.9,205.4 823.6,223.3 794.2,241.4 764.9,259.5 735.7,277.6 706.4,295.8 677.6,314.6 648.5,333 619.2,351.1 591.1,370.9 564.2,392.1 539.8,416.2 517.6,442.3 497.9,470.4 480.3,499.9 465,530.6 451.9,562.3 441.1,594.9 433.1,628.2 428.5,662.1 426.7,696.4 426.4,730.8 426.6,765.2 426.8,799.6 426.8,834.1 426.7,868.5 426.6,902.9 426.6,937.4 426.6,971.8 426.6,1006.2 426.6,1040.7 426.6,1075.1 426.6,1109.5 426.6,1144 426.6,1178.4 426.6,1212.8 426.6,1247.3 426.6,1281.7 426.6,1316.1 426.6,1350.6 426.6,1385" fill="#402e48"/><polygon points="418.9,1385 418.9,1350.6 418.9,1316.1 418.9,1281.7 418.9,1247.3 418.9,1212.8 418.9,1178.4 418.9,1144 418.9,1109.5 418.9,1075.1 418.9,1040.7 418.9,1006.2 418.9,971.8 418.9,937.4 418.9,902.9 419,868.5 419.1,834.1 419.1,799.7 418.9,765.2 418.7,730.8 419,696.2 420.8,661.4 425.5,626.7 433.8,592.8 444.8,559.6 458.2,527.5 473.8,496.3 491.6,466.3 511.7,437.8 534.4,411.2 559.4,386.6 586.8,365 615.2,345 644.7,326.9 673.7,308.5 702.6,289.7 731.9,271.5 761.2,253.4 790.4,235.2 819.8,217.2 849.2,199.3 878.6,181.4 908.1,163.5 937.6,145.7 967,127.9 996.4,110 1025.8,92.1 1055.2,74.2 1084.6,56.2 1113.9,38.2 1143.2,20.1 1172.6,2.1 1176,7.6 1146.6,25.7 1117.3,43.7 1088,61.7 1058.6,79.7 1029.2,97.7 999.8,115.6 970.4,133.5 940.9,151.3 911.5,169.1 882,186.9 852.6,204.8 823.2,222.7 793.9,240.8 764.6,258.9 735.3,277 706.1,295.2 677.2,314 648.1,332.4 618.8,350.5 590.7,370.3 563.7,391.6 539.2,415.7 516.9,441.8 497.1,469.9 479.6,499.5 464.2,530.2 451,562 440.2,594.6 432.1,628 427.5,662 425.7,696.4 425.4,730.8 425.6,765.2 425.8,799.6 425.8,834.1 425.7,868.5 425.6,902.9 425.6,937.4 425.6,971.8 425.6,1006.2 425.6,1040.7 425.6,1075.1 425.6,1109.5 425.6,1144 425.6,1178.4 425.6,1212.8 425.6,1247.3 425.6,1281.7 425.6,1316.1 425.6,1350.6 425.6,1385" fill="#3a2a3c"/></g>
<g id="i1"><polygon points="1268.1,132.1 1241.3,149 1214.6,165.9 1187.8,182.8 1161,199.7 1134.3,216.5 1107.5,233.4 1080.7,250.2 1053.8,267.1 1027,283.8 1000.1,300.6 973.2,317.3 946.3,333.9 919.3,350.4 892.2,366.9 865.1,383.3 837.9,399.6 810.7,415.8 783.4,431.8 756,447.8 728.6,463.5 702.1,479.9 677.5,498.8 655.6,520.4 636.8,544.9 621.3,571.9 606.4,599.3 595.6,628.1 588.8,658.2 585.5,689 585.2,720.3 585.2,752 585.2,783.6 585.2,815.3 585.2,846.9 585.2,878.6 585.2,910.2 585.2,941.9 585.2,973.5 585.2,1005.2 585.2,1036.8 585.2,1068.5 585.2,1100.1 585.2,1131.8 585.2,1163.4 585.2,1195.1 585.2,1226.7 585.2,1258.4 585.2,1290 585.2,1321.7 585.2,1353.3 585.2,1385 559.6,1385 559.6,1353.3 559.6,1321.7 559.6,1290 559.6,1258.4 559.6,1226.7 559.6,1195.1 559.6,1163.4 559.6,1131.8 559.6,1100.1 559.6,1068.5 559.6,1036.8 559.6,1005.2 559.6,973.5 559.6,941.9 559.6,910.2 559.6,878.6 559.6,846.9 559.6,815.3 559.6,783.6 559.6,752 559.6,720.2 559.9,687.5 563.6,654 571.2,620.8 583.5,588.8 599.6,559.8 616.3,531.2 637.3,504.3 661.6,480.5 688.3,460 716.2,442.7 743.9,426.8 771.2,410.9 798.4,394.9 825.5,378.8 852.6,362.6 879.6,346.2 906.6,329.8 933.6,313.3 960.5,296.7 987.3,280 1014.2,263.3 1041,246.5 1067.8,229.7 1094.6,212.9 1121.4,196.1 1148.1,179.2 1174.9,162.3 1201.7,145.4 1228.4,128.5 1255.2,111.6" fill="#3f478a"/><polygon points="1268.1,132.1 1241.3,149 1214.6,165.9 1187.8,182.8 1161,199.7 1134.3,216.5 1107.5,233.4 1080.7,250.2 1053.8,267.1 1027,283.8 1000.1,300.6 973.2,317.3 946.3,333.9 919.3,350.4 892.2,366.9 865.1,383.3 837.9,399.6 810.7,415.8 783.4,431.8 756,447.8 728.6,463.5 702.1,479.9 677.5,498.8 655.6,520.4 636.8,544.9 621.3,571.9 606.4,599.3 595.6,628.1 588.8,658.2 585.5,689 585.2,720.3 585.2,752 585.2,783.6 585.2,815.3 585.2,846.9 585.2,878.6 585.2,910.2 585.2,941.9 585.2,973.5 585.2,1005.2 585.2,1036.8 585.2,1068.5 585.2,1100.1 585.2,1131.8 585.2,1163.4 585.2,1195.1 585.2,1226.7 585.2,1258.4 585.2,1290 585.2,1321.7 585.2,1353.3 585.2,1385 563.8,1385 563.8,1353.3 563.8,1321.7 563.8,1290 563.8,1258.4 563.8,1226.7 563.8,1195.1 563.8,1163.4 563.8,1131.8 563.8,1100.1 563.8,1068.5 563.8,1036.8 563.8,1005.2 563.8,973.5 563.8,941.9 563.8,910.2 563.8,878.6 563.8,846.9 563.8,815.3 563.8,783.6 563.8,752 563.8,720.2 564.1,687.8 567.7,654.7 575.2,622 587.3,590.5 603.1,561.7 619.7,533.4 640.2,506.9 664.2,483.5 690.5,463.2 718.2,446.1 745.8,430.2 773.1,414.3 800.4,398.3 827.5,382.2 854.6,365.9 881.7,349.6 908.7,333.1 935.6,316.6 962.5,300 989.4,283.3 1016.2,266.6 1043.1,249.8 1069.9,233 1096.7,216.2 1123.4,199.4 1150.2,182.5 1177,165.6 1203.7,148.7 1230.5,131.8 1257.3,114.9" fill="#3e4085"/><polygon points="1268.1,132.1 1241.3,149 1214.6,165.9 1187.8,182.8 1161,199.7 1134.3,216.5 1107.5,233.4 1080.7,250.2 1053.8,267.1 1027,283.8 1000.1,300.6 973.2,317.3 946.3,333.9 919.3,350.4 892.2,366.9 865.1,383.3 837.9,399.6 810.7,415.8 783.4,431.8 756,447.8 728.6,463.5 702.1,479.9 677.5,498.8 655.6,520.4 636.8,544.9 621.3,571.9 606.4,599.3 595.6,628.1 588.8,658.2 585.5,689 585.2,720.3 585.2,752 585.2,783.6 585.2,815.3 585.2,846.9 585.2,878.6 585.2,910.2 585.2,941.9 585.2,973.5 585.2,1005.2 585.2,1036.8 585.2,1068.5 585.2,1100.1 585.2,1131.8 585.2,1163.4 585.2,1195.1 585.2,1226.7 585.2,1258.4 585.2,1290 585.2,1321.7 585.2,1353.3 585.2,1385 567.4,1385 567.4,1353.3 567.4,1321.7 567.4,1290 567.4,1258.4 567.4,1226.7 567.4,1195.1 567.4,1163.4 567.4,1131.8 567.4,1100.1 567.4,1068.5 567.4,1036.8 567.4,1005.2 567.4,973.5 567.4,941.9 567.4,910.2 567.5,878.6 567.5,846.9 567.5,815.3 567.5,783.6 567.4,752 567.4,720.3 567.7,688 571.3,655.3 578.7,623 590.5,592 606.2,563.4 622.5,535.4 642.8,509.1 666.4,486 692.4,466 720,449 747.5,433.1 774.8,417.2 802.1,401.2 829.3,385.1 856.4,368.8 883.4,352.5 910.4,336 937.4,319.5 964.3,302.9 991.2,286.2 1018,269.5 1044.9,252.7 1071.7,235.9 1098.5,219.1 1125.2,202.2 1152,185.3 1178.8,168.5 1205.5,151.6 1232.3,134.7 1259.1,117.8" fill="#3d3880"/><polygon points="1268.1,132.1 1241.3,149 1214.6,165.9 1187.8,182.8 1161,199.7 1134.3,216.5 1107.5,233.4 1080.7,250.2 1053.8,267.1 1027,283.8 1000.1,300.6 973.2,317.3 946.3,333.9 919.3,350.4 892.2,366.9 865.1,383.3 837.9,399.6 810.7,415.8 783.4,431.8 756,447.8 728.6,463.5 702.1,479.9 677.5,498.8 655.6,520.4 636.8,544.9 621.3,571.9 606.4,599.3 595.6,628.1 588.8,658.2 585.5,689 585.2,720.3 585.2,752 585.2,783.6 585.2,815.3 585.2,846.9 585.2,878.6 585.2,910.2 585.2,941.9 585.2,973.5 585.2,1005.2 585.2,1036.8 585.2,1068.5 585.2,1100.1 585.2,1131.8 585.2,1163.4 585.2,1195.1 585.2,1226.7 585.2,1258.4 585.2,1290 585.2,1321.7 585.2,1353.3 585.2,1385 570.2,1385 570.2,1353.3 570.2,1321.7 570.2,1290 570.2,1258.4 570.2,1226.7 570.2,1195.1 570.2,1163.4 570.2,1131.8 570.2,1100.1 570.2,1068.5 570.2,1036.8 570.2,1005.2 570.2,973.5 570.2,941.9 570.2,910.2 570.3,878.6 570.3,846.9 570.3,815.3 570.3,783.6 570.2,752 570.2,720.3 570.5,688.1 574,655.7 581.3,623.8 593,593.1 608.5,564.8 624.8,536.8 644.8,510.9 668.1,488 693.9,468.1 721.3,451.2 748.8,435.4 776.1,419.5 803.4,403.4 830.6,387.3 857.7,371 884.8,354.7 911.8,338.2 938.7,321.7 965.7,305.1 992.6,288.4 1019.4,271.7 1046.2,254.9 1073,238.1 1099.8,221.3 1126.6,204.4 1153.4,187.5 1180.2,170.7 1206.9,153.8 1233.7,136.9 1260.5,120" fill="#41307a"/><polygon points="1268.1,132.1 1241.3,149 1214.6,165.9 1187.8,182.8 1161,199.7 1134.3,216.5 1107.5,233.4 1080.7,250.2 1053.8,267.1 1027,283.8 1000.1,300.6 973.2,317.3 946.3,333.9 919.3,350.4 892.2,366.9 865.1,383.3 837.9,399.6 810.7,415.8 783.4,431.8 756,447.8 728.6,463.5 702.1,479.9 677.5,498.8 655.6,520.4 636.8,544.9 621.3,571.9 606.4,599.3 595.6,628.1 588.8,658.2 585.5,689 585.2,720.3 585.2,752 585.2,783.6 585.2,815.3 585.2,846.9 585.2,878.6 585.2,910.2 585.2,941.9 585.2,973.5 585.2,1005.2 585.2,1036.8 585.2,1068.5 585.2,1100.1 585.2,1131.8 585.2,1163.4 585.2,1195.1 585.2,1226.7 585.2,1258.4 585.2,1290 585.2,1321.7 585.2,1353.3 585.2,1385 572.5,1385 572.5,1353.3 572.5,1321.7 572.5,1290 572.5,1258.4 572.5,1226.7 572.5,1195.1 572.5,1163.4 572.5,1131.8 572.5,1100.1 572.5,1068.5 572.5,1036.8 572.5,1005.2 572.5,973.5 572.5,941.9 572.5,910.2 572.5,878.6 572.5,846.9 572.5,815.3 572.5,783.6 572.5,752 572.4,720.3 572.8,688.3 576.2,656.1 583.4,624.4 595,594 610.4,565.8 626.5,538 646.3,512.3 669.5,489.6 695.1,469.9 722.4,453 749.9,437.2 777.2,421.2 804.5,405.2 831.7,389.1 858.8,372.8 885.9,356.5 912.9,340 939.8,323.5 966.8,306.9 993.7,290.2 1020.5,273.5 1047.3,256.7 1074.2,239.9 1100.9,223 1127.7,206.2 1154.5,189.3 1181.3,172.4 1208,155.5 1234.8,138.6 1261.6,121.7" fill="#442c6c"/><polygon points="1268.1,132.1 1241.3,149 1214.6,165.9 1187.8,182.8 1161,199.7 1134.3,216.5 1107.5,233.4 1080.7,250.2 1053.8,267.1 1027,283.8 1000.1,300.6 973.2,317.3 946.3,333.9 919.3,350.4 892.2,366.9 865.1,383.3 837.9,399.6 810.7,415.8 783.4,431.8 756,447.8 728.6,463.5 702.1,479.9 677.5,498.8 655.6,520.4 636.8,544.9 621.3,571.9 606.4,599.3 595.6,628.1 588.8,658.2 585.5,689 585.2,720.3 585.2,752 585.2,783.6 585.2,815.3 585.2,846.9 585.2,878.6 585.2,910.2 585.2,941.9 585.2,973.5 585.2,1005.2 585.2,1036.8 585.2,1068.5 585.2,1100.1 585.2,1131.8 585.2,1163.4 585.2,1195.1 585.2,1226.7 585.2,1258.4 585.2,1290 585.2,1321.7 585.2,1353.3 585.2,1385 575.3,1385 575.3,1353.3 575.3,1321.7 575.3,1290 575.3,1258.4 575.3,1226.7 575.3,1195.1 575.3,1163.4 575.3,1131.8 575.3,1100.1 575.3,1068.5 575.3,1036.8 575.3,1005.2 575.3,973.5 575.3,941.9 575.3,910.2 575.3,878.6 575.3,846.9 575.3,815.3 575.3,783.6 575.3,752 575.2,720.3 575.6,688.4 579,656.6 586.1,625.2 597.5,595.2 612.8,567.1 628.7,539.5 648.3,514 671.2,491.5 696.6,472 723.7,455.2 751.2,439.4 778.5,423.5 805.8,407.5 833,391.3 860.1,375 887.2,358.7 914.2,342.2 941.2,325.7 968.1,309.1 995,292.4 1021.9,275.7 1048.7,258.9 1075.5,242.1 1102.3,225.2 1129.1,208.4 1155.9,191.5 1182.7,174.6 1209.4,157.7 1236.2,140.8 1263,123.9" fill="#432c58"/><polygon points="1268.1,132.1 1241.3,149 1214.6,165.9 1187.8,182.8 1161,199.7 1134.3,216.5 1107.5,233.4 1080.7,250.2 1053.8,267.1 1027,283.8 1000.1,300.6 973.2,317.3 946.3,333.9 919.3,350.4 892.2,366.9 865.1,383.3 837.9,399.6 810.7,415.8 783.4,431.8 756,447.8 728.6,463.5 702.1,479.9 677.5,498.8 655.6,520.4 636.8,544.9 621.3,571.9 606.4,599.3 595.6,628.1 588.8,658.2 585.5,689 585.2,720.3 585.2,752 585.2,783.6 585.2,815.3 585.2,846.9 585.2,878.6 585.2,910.2 585.2,941.9 585.2,973.5 585.2,1005.2 585.2,1036.8 585.2,1068.5 585.2,1100.1 585.2,1131.8 585.2,1163.4 585.2,1195.1 585.2,1226.7 585.2,1258.4 585.2,1290 585.2,1321.7 585.2,1353.3 585.2,1385 577.5,1385 577.5,1353.3 577.5,1321.7 577.5,1290 577.5,1258.4 577.5,1226.7 577.5,1195.1 577.5,1163.4 577.5,1131.8 577.5,1100.1 577.5,1068.5 577.5,1036.8 577.5,1005.2 577.5,973.5 577.5,941.9 577.5,910.2 577.5,878.6 577.5,846.9 577.6,815.3 577.5,783.6 577.5,752 577.5,720.3 577.8,688.6 581.2,656.9 588.2,625.9 599.5,596.1 614.7,568.2 630.5,540.7 649.9,515.4 672.6,493.1 697.8,473.7 724.8,457 752.2,441.2 779.6,425.3 806.8,409.2 834.1,393.1 861.2,376.8 888.3,360.5 915.3,344 942.3,327.5 969.2,310.8 996.1,294.2 1023,277.4 1049.8,260.6 1076.6,243.8 1103.4,227 1130.2,210.1 1157,193.3 1183.8,176.4 1210.5,159.5 1237.3,142.6 1264.1,125.7" fill="#402e48"/><polygon points="1268.1,132.1 1241.3,149 1214.6,165.9 1187.8,182.8 1161,199.7 1134.3,216.5 1107.5,233.4 1080.7,250.2 1053.8,267.1 1027,283.8 1000.1,300.6 973.2,317.3 946.3,333.9 919.3,350.4 892.2,366.9 865.1,383.3 837.9,399.6 810.7,415.8 783.4,431.8 756,447.8 728.6,463.5 702.1,479.9 677.5,498.8 655.6,520.4 636.8,544.9 621.3,571.9 606.4,599.3 595.6,628.1 588.8,658.2 585.5,689 585.2,720.3 585.2,752 585.2,783.6 585.2,815.3 585.2,846.9 585.2,878.6 585.2,910.2 585.2,941.9 585.2,973.5 585.2,1005.2 585.2,1036.8 585.2,1068.5 585.2,1100.1 585.2,1131.8 585.2,1163.4 585.2,1195.1 585.2,1226.7 585.2,1258.4 585.2,1290 585.2,1321.7 585.2,1353.3 585.2,1385 578.5,1385 578.5,1353.3 578.5,1321.7 578.5,1290 578.5,1258.4 578.5,1226.7 578.5,1195.1 578.5,1163.4 578.5,1131.8 578.5,1100.1 578.5,1068.5 578.5,1036.8 578.5,1005.2 578.5,973.5 578.5,941.9 578.5,910.2 578.5,878.6 578.5,846.9 578.5,815.3 578.5,783.6 578.5,752 578.5,720.3 578.8,688.6 582.1,657.1 589.1,626.2 600.3,596.5 615.5,568.7 631.3,541.2 650.6,516 673.2,493.8 698.3,474.5 725.2,457.8 752.7,442 780,426.1 807.3,410 834.5,393.9 861.7,377.6 888.8,361.2 915.8,344.8 942.8,328.2 969.7,311.6 996.6,294.9 1023.5,278.2 1050.3,261.4 1077.1,244.6 1103.9,227.8 1130.7,210.9 1157.5,194 1184.3,177.1 1211,160.3 1237.8,143.4 1264.6,126.5" fill="#3a2a3c"/></g>
<g id="i2"><polygon points="1268.1,132.1 1241.3,149 1214.6,165.9 1187.8,182.8 1161,199.7 1134.3,216.5 1107.5,233.4 1080.7,250.2 1053.8,267.1 1027,283.8 1000.1,300.6 973.2,317.3 946.3,333.9 919.3,350.4 892.2,366.9 865.1,383.3 837.9,399.6 810.7,415.8 783.4,431.8 756,447.8 728.6,463.5 702.1,479.9 677.5,498.8 655.6,520.4 636.8,544.9 621.3,571.9 606.4,599.3 595.6,628.1 588.8,658.2 585.5,689 585.2,720.3 585.2,752 585.2,783.6 585.2,815.3 585.2,846.9 585.2,878.6 585.2,910.2 585.2,941.9 585.2,973.5 585.2,1005.2 585.2,1036.8 585.2,1068.5 585.2,1100.1 585.2,1131.8 585.2,1163.4 585.2,1195.1 585.2,1226.7 585.2,1258.4 585.2,1290 585.2,1321.7 585.2,1353.3 585.2,1385 516.2,1385 516.2,1353.3 516.2,1321.7 516.2,1290 516.2,1258.4 516.2,1226.7 516.2,1195.1 516.2,1163.4 516.2,1131.8 516.2,1100.1 516.2,1068.5 516.2,1036.8 516.2,1005.2 516.2,973.5 516.2,941.9 516.2,910.2 516.2,878.5 516.2,846.9 516.2,815.3 516.2,783.7 516.2,752 516.2,720 516.7,685 522.1,647.1 533.6,609.5 551.5,574.1 573.1,544.9 595.2,517.1 621.6,490.4 649.9,467.1 678.7,446.2 707.6,428.3 735.5,412.3 762.7,396.4 789.8,380.5 816.9,364.4 844,348.2 870.9,331.9 897.9,315.5 924.8,299 951.6,282.4 978.5,265.8 1005.3,249.1 1032.1,232.3 1058.9,215.5 1085.6,198.7 1112.4,181.8 1139.2,165 1165.9,148.1 1192.7,131.2 1219.4,114.3 1246.2,97.4" fill="#3f478a"/><polygon points="1268.1,132.1 1241.3,149 1214.6,165.9 1187.8,182.8 1161,199.7 1134.3,216.5 1107.5,233.4 1080.7,250.2 1053.8,267.1 1027,283.8 1000.1,300.6 973.2,317.3 946.3,333.9 919.3,350.4 892.2,366.9 865.1,383.3 837.9,399.6 810.7,415.8 783.4,431.8 756,447.8 728.6,463.5 702.1,479.9 677.5,498.8 655.6,520.4 636.8,544.9 621.3,571.9 606.4,599.3 595.6,628.1 588.8,658.2 585.5,689 585.2,720.3 585.2,752 585.2,783.6 585.2,815.3 585.2,846.9 585.2,878.6 585.2,910.2 585.2,941.9 585.2,973.5 585.2,1005.2 585.2,1036.8 585.2,1068.5 585.2,1100.1 585.2,1131.8 585.2,1163.4 585.2,1195.1 585.2,1226.7 585.2,1258.4 585.2,1290 585.2,1321.7 585.2,1353.3 585.2,1385 529.7,1385 529.7,1353.3 529.7,1321.7 529.7,1290 529.7,1258.4 529.7,1226.7 529.7,1195.1 529.7,1163.4 529.7,1131.8 529.7,1100.1 529.7,1068.5 529.7,1036.8 529.7,1005.2 529.7,973.5 529.7,941.9 529.7,910.2 529.7,878.5 529.7,846.9 529.7,815.3 529.7,783.6 529.7,752 529.7,720.1 530.1,685.8 535.1,649.3 545.6,613.1 562.1,578.9 582.3,550.1 603,522.4 627.9,496 655,472.9 683,452.4 711.5,434.7 739.2,418.8 766.5,402.9 793.6,386.9 820.8,370.8 847.8,354.6 874.8,338.3 901.8,321.9 928.7,305.4 955.6,288.8 982.4,272.1 1009.3,255.4 1036.1,238.7 1062.8,221.9 1089.6,205 1116.4,188.2 1143.2,171.3 1169.9,154.4 1196.7,137.5 1223.5,120.7 1250.2,103.7" fill="#3e4085"/><polygon points="1268.1,132.1 1241.3,149 1214.6,165.9 1187.8,182.8 1161,199.7 1134.3,216.5 1107.5,233.4 1080.7,250.2 1053.8,267.1 1027,283.8 1000.1,300.6 973.2,317.3 946.3,333.9 919.3,350.4 892.2,366.9 865.1,383.3 837.9,399.6 810.7,415.8 783.4,431.8 756,447.8 728.6,463.5 702.1,479.9 677.5,498.8 655.6,520.4 636.8,544.9 621.3,571.9 606.4,599.3 595.6,628.1 588.8,658.2 585.5,689 585.2,720.3 585.2,752 585.2,783.6 585.2,815.3 585.2,846.9 585.2,878.6 585.2,910.2 585.2,941.9 585.2,973.5 585.2,1005.2 585.2,1036.8 585.2,1068.5 585.2,1100.1 585.2,1131.8 585.2,1163.4 585.2,1195.1 585.2,1226.7 585.2,1258.4 585.2,1290 585.2,1321.7 585.2,1353.3 585.2,1385 541.4,1385 541.4,1353.3 541.4,1321.7 541.4,1290 541.4,1258.4 541.4,1226.7 541.4,1195.1 541.4,1163.4 541.4,1131.8 541.4,1100.1 541.4,1068.5 541.4,1036.8 541.4,1005.2 541.4,973.5 541.4,941.9 541.4,910.2 541.4,878.5 541.4,846.9 541.4,815.3 541.4,783.6 541.4,752 541.4,720.1 541.8,686.5 546.4,651.2 556.1,616.2 571.3,583.2 590.3,554.5 609.8,526.9 633.4,500.8 659.4,478 686.7,457.7 714.8,440.3 742.5,424.4 769.7,408.5 797,392.5 824.1,376.4 851.2,360.2 878.2,343.8 905.2,327.4 932.1,310.9 959,294.3 985.9,277.6 1012.7,260.9 1039.5,244.2 1066.3,227.4 1093.1,210.5 1119.9,193.7 1146.6,176.8 1173.4,159.9 1200.2,143 1226.9,126.1 1253.7,109.2" fill="#3d3880"/><polygon points="1268.1,132.1 1241.3,149 1214.6,165.9 1187.8,182.8 1161,199.7 1134.3,216.5 1107.5,233.4 1080.7,250.2 1053.8,267.1 1027,283.8 1000.1,300.6 973.2,317.3 946.3,333.9 919.3,350.4 892.2,366.9 865.1,383.3 837.9,399.6 810.7,415.8 783.4,431.8 756,447.8 728.6,463.5 702.1,479.9 677.5,498.8 655.6,520.4 636.8,544.9 621.3,571.9 606.4,599.3 595.6,628.1 588.8,658.2 585.5,689 585.2,720.3 585.2,752 585.2,783.6 585.2,815.3 585.2,846.9 585.2,878.6 585.2,910.2 585.2,941.9 585.2,973.5 585.2,1005.2 585.2,1036.8 585.2,1068.5 585.2,1100.1 585.2,1131.8 585.2,1163.4 585.2,1195.1 585.2,1226.7 585.2,1258.4 585.2,1290 585.2,1321.7 585.2,1353.3 585.2,1385 550.4,1385 550.4,1353.3 550.4,1321.7 550.4,1290 550.4,1258.4 550.4,1226.7 550.4,1195.1 550.4,1163.4 550.4,1131.8 550.4,1100.1 550.4,1068.5 550.4,1036.8 550.4,1005.2 550.4,973.5 550.4,941.9 550.4,910.2 550.4,878.6 550.4,846.9 550.4,815.3 550.4,783.6 550.4,752 550.4,720.2 550.8,687 555.1,652.6 564.1,618.6 578.3,586.4 596.4,558 615.1,530.4 637.6,504.5 662.8,481.9 689.6,461.8 717.4,444.6 745,428.7 772.3,412.8 799.5,396.8 826.7,380.7 853.8,364.5 880.8,348.1 907.8,331.7 934.7,315.2 961.6,298.6 988.5,281.9 1015.3,265.2 1042.2,248.4 1069,231.6 1095.8,214.8 1122.5,197.9 1149.3,181 1176.1,164.2 1202.8,147.3 1229.6,130.4 1256.4,113.5" fill="#41307a"/><polygon points="1268.1,132.1 1241.3,149 1214.6,165.9 1187.8,182.8 1161,199.7 1134.3,216.5 1107.5,233.4 1080.7,250.2 1053.8,267.1 1027,283.8 1000.1,300.6 973.2,317.3 946.3,333.9 919.3,350.4 892.2,366.9 865.1,383.3 837.9,399.6 810.7,415.8 783.4,431.8 756,447.8 728.6,463.5 702.1,479.9 677.5,498.8 655.6,520.4 636.8,544.9 621.3,571.9 606.4,599.3 595.6,628.1 588.8,658.2 585.5,689 585.2,720.3 585.2,752 585.2,783.6 585.2,815.3 585.2,846.9 585.2,878.6 585.2,910.2 585.2,941.9 585.2,973.5 585.2,1005.2 585.2,1036.8 585.2,1068.5 585.2,1100.1 585.2,1131.8 585.2,1163.4 585.2,1195.1 585.2,1226.7 585.2,1258.4 585.2,1290 585.2,1321.7 585.2,1353.3 585.2,1385 557.6,1385 557.6,1353.3 557.6,1321.7 557.6,1290 557.6,1258.4 557.6,1226.7 557.6,1195.1 557.6,1163.4 557.6,1131.8 557.6,1100.1 557.6,1068.5 557.6,1036.8 557.6,1005.2 557.6,973.5 557.6,941.9 557.6,910.2 557.6,878.6 557.6,846.9 557.6,815.3 557.6,783.6 557.6,752 557.6,720.2 557.9,687.4 562,653.7 570.5,620.6 584,589 601.3,560.7 619.3,533.2 640.9,507.5 665.5,485 691.8,465.1 719.4,448 747,432.2 774.3,416.3 801.5,400.3 828.7,384.1 855.8,367.9 882.9,351.5 909.9,335.1 936.8,318.6 963.7,302 990.6,285.3 1017.5,268.6 1044.3,251.8 1071.1,235 1097.9,218.2 1124.7,201.3 1151.4,184.4 1178.2,167.5 1205,150.7 1231.7,133.8 1258.5,116.9" fill="#442c6c"/><polygon points="1268.1,132.1 1241.3,149 1214.6,165.9 1187.8,182.8 1161,199.7 1134.3,216.5 1107.5,233.4 1080.7,250.2 1053.8,267.1 1027,283.8 1000.1,300.6 973.2,317.3 946.3,333.9 919.3,350.4 892.2,366.9 865.1,383.3 837.9,399.6 810.7,415.8 783.4,431.8 756,447.8 728.6,463.5 702.1,479.9 677.5,498.8 655.6,520.4 636.8,544.9 621.3,571.9 606.4,599.3 595.6,628.1 588.8,658.2 585.5,689 585.2,720.3 585.2,752 585.2,783.6 585.2,815.3 585.2,846.9 585.2,878.6 585.2,910.2 585.2,941.9 585.2,973.5 585.2,1005.2 585.2,1036.8 585.2,1068.5 585.2,1100.1 585.2,1131.8 585.2,1163.4 585.2,1195.1 585.2,1226.7 585.2,1258.4 585.2,1290 585.2,1321.7 585.2,1353.3 585.2,1385 566.6,1385 566.6,1353.3 566.6,1321.7 566.6,1290 566.6,1258.4 566.6,1226.7 566.6,1195.1 566.6,1163.4 566.6,1131.8 566.6,1100.1 566.6,1068.5 566.6,1036.8 566.6,1005.2 566.6,973.5 566.6,941.9 566.6,910.2 566.6,878.6 566.6,846.9 566.6,815.3 566.6,783.6 566.6,752 566.6,720.2 566.9,687.9 570.7,655.2 578.6,623 591.1,592.2 607.5,564.2 624.5,536.7 645.2,511.2 668.9,488.9 694.7,469.2 722,452.3 749.5,436.5 776.8,420.6 804.1,404.6 831.3,388.4 858.4,372.2 885.5,355.8 912.5,339.4 939.4,322.8 966.4,306.2 993.3,289.5 1020.1,272.8 1046.9,256 1073.7,239.2 1100.5,222.4 1127.3,205.5 1154.1,188.7 1180.9,171.8 1207.6,154.9 1234.4,138 1261.2,121.1" fill="#432c58"/><polygon points="1268.1,132.1 1241.3,149 1214.6,165.9 1187.8,182.8 1161,199.7 1134.3,216.5 1107.5,233.4 1080.7,250.2 1053.8,267.1 1027,283.8 1000.1,300.6 973.2,317.3 946.3,333.9 919.3,350.4 892.2,366.9 865.1,383.3 837.9,399.6 810.7,415.8 783.4,431.8 756,447.8 728.6,463.5 702.1,479.9 677.5,498.8 655.6,520.4 636.8,544.9 621.3,571.9 606.4,599.3 595.6,628.1 588.8,658.2 585.5,689 585.2,720.3 585.2,752 585.2,783.6 585.2,815.3 585.2,846.9 585.2,878.6 585.2,910.2 585.2,941.9 585.2,973.5 585.2,1005.2 585.2,1036.8 585.2,1068.5 585.2,1100.1 585.2,1131.8 585.2,1163.4 585.2,1195.1 585.2,1226.7 585.2,1258.4 585.2,1290 585.2,1321.7 585.2,1353.3 585.2,1385 573.8,1385 573.8,1353.3 573.8,1321.7 573.8,1290 573.8,1258.4 573.8,1226.7 573.8,1195.1 573.8,1163.4 573.8,1131.8 573.8,1100.1 573.8,1068.5 573.8,1036.8 573.8,1005.2 573.8,973.5 573.8,941.9 573.8,910.2 573.8,878.6 573.8,846.9 573.8,815.3 573.8,783.6 573.8,752 573.8,720.3 574.1,688.3 577.6,656.3 585,624.9 596.7,594.8 612.4,566.9 628.7,539.5 648.5,514.2 671.6,492 697,472.5 724,455.8 751.5,440 778.8,424 806.1,408 833.3,391.9 860.5,375.6 887.5,359.2 914.6,342.8 941.5,326.2 968.5,309.6 995.4,292.9 1022.2,276.2 1049.1,259.4 1075.9,242.6 1102.7,225.8 1129.5,208.9 1156.2,192 1183,175.2 1209.8,158.3 1236.5,141.4 1263.3,124.5" fill="#402e48"/><polygon points="1268.1,132.1 1241.3,149 1214.6,165.9 1187.8,182.8 1161,199.7 1134.3,216.5 1107.5,233.4 1080.7,250.2 1053.8,267.1 1027,283.8 1000.1,300.6 973.2,317.3 946.3,333.9 919.3,350.4 892.2,366.9 865.1,383.3 837.9,399.6 810.7,415.8 783.4,431.8 756,447.8 728.6,463.5 702.1,479.9 677.5,498.8 655.6,520.4 636.8,544.9 621.3,571.9 606.4,599.3 595.6,628.1 588.8,658.2 585.5,689 585.2,720.3 585.2,752 585.2,783.6 585.2,815.3 585.2,846.9 585.2,878.6 585.2,910.2 585.2,941.9 585.2,973.5 585.2,1005.2 585.2,1036.8 585.2,1068.5 585.2,1100.1 585.2,1131.8 585.2,1163.4 585.2,1195.1 585.2,1226.7 585.2,1258.4 585.2,1290 585.2,1321.7 585.2,1353.3 585.2,1385 577,1385 577,1353.3 577,1321.7 577,1290 577,1258.4 577,1226.7 577,1195.1 577,1163.4 577,1131.8 577,1100.1 577,1068.5 577,1036.8 577,1005.2 577,973.5 577,941.9 577,910.2 577,878.6 577,846.9 577,815.3 577,783.6 576.9,752 576.9,720.3 577.2,688.5 580.7,656.8 587.8,625.8 599.2,596 614.6,568.1 630.5,540.7 650,515.5 672.8,493.3 698,474 724.9,457.3 752.4,441.5 779.7,425.6 807,409.5 834.2,393.4 861.4,377.1 888.4,360.7 915.5,344.3 942.5,327.7 969.4,311.1 996.3,294.4 1023.2,277.7 1050,260.9 1076.8,244.1 1103.6,227.3 1130.4,210.4 1157.2,193.5 1183.9,176.6 1210.7,159.7 1237.5,142.8 1264.2,125.9" fill="#3a2a3c"/></g>
<g id="i3"><polygon points="1268.1,132.1 1241.3,149 1214.6,165.9 1187.8,182.8 1161,199.7 1134.3,216.5 1107.5,233.4 1080.7,250.2 1053.8,267.1 1027,283.8 1000.1,300.6 973.2,317.3 946.3,333.9 919.3,350.4 892.2,366.9 865.1,383.3 837.9,399.6 810.7,415.8 783.4,431.8 756,447.8 728.6,463.5 702.1,479.9 677.5,498.8 655.6,520.4 636.8,544.9 621.3,571.9 606.4,599.3 595.6,628.1 588.8,658.2 585.5,689 585.2,720.3 585.2,752 585.2,783.6 585.2,815.3 585.2,846.9 585.2,878.6 585.2,910.2 585.2,941.9 585.2,973.5 585.2,1005.2 585.2,1036.8 585.2,1068.5 585.2,1100.1 585.2,1131.8 585.2,1163.4 585.2,1195.1 585.2,1226.7 585.2,1258.4 585.2,1290 585.2,1321.7 585.2,1353.3 585.2,1385 547.7,1385 547.7,1353.3 547.7,1321.7 547.7,1290 547.7,1258.4 547.7,1226.7 547.7,1195.1 547.7,1163.4 547.7,1131.8 547.7,1100.1 547.7,1068.5 547.7,1036.8 547.7,1005.2 547.7,973.5 547.7,941.9 547.7,910.2 547.7,878.6 547.7,846.9 547.7,815.3 547.7,783.6 547.7,752 547.7,720.2 548.1,686.8 552.1,652.1 560.7,617.6 574.3,584.5 591.6,555.3 609.6,526.7 631.9,499.5 657.3,475.6 684.7,454.8 713,437.3 740.7,421.4 768,405.5 795.2,389.5 822.3,373.4 849.4,357.2 876.4,340.8 903.3,324.4 930.3,307.9 957.2,291.3 984,274.7 1010.8,258 1037.7,241.2 1064.4,224.4 1091.2,207.6 1118,190.7 1144.8,173.9 1171.5,157 1198.3,140.1 1225.1,123.2 1251.8,106.3" fill="#3f478a"/><polygon points="1268.1,132.1 1241.3,149 1214.6,165.9 1187.8,182.8 1161,199.7 1134.3,216.5 1107.5,233.4 1080.7,250.2 1053.8,267.1 1027,283.8 1000.1,300.6 973.2,317.3 946.3,333.9 919.3,350.4 892.2,366.9 865.1,383.3 837.9,399.6 810.7,415.8 783.4,431.8 756,447.8 728.6,463.5 702.1,479.9 677.5,498.8 655.6,520.4 636.8,544.9 621.3,571.9 606.4,599.3 595.6,628.1 588.8,658.2 585.5,689 585.2,720.3 585.2,752 585.2,783.6 585.2,815.3 585.2,846.9 585.2,878.6 585.2,910.2 585.2,941.9 585.2,973.5 585.2,1005.2 585.2,1036.8 585.2,1068.5 585.2,1100.1 585.2,1131.8 585.2,1163.4 585.2,1195.1 585.2,1226.7 585.2,1258.4 585.2,1290 585.2,1321.7 585.2,1353.3 585.2,1385 554.5,1385 554.5,1353.3 554.5,1321.7 554.5,1290 554.5,1258.4 554.5,1226.7 554.5,1195.1 554.5,1163.4 554.5,1131.8 554.5,1100.1 554.5,1068.5 554.5,1036.8 554.5,1005.2 554.5,973.5 554.5,941.9 554.5,910.2 554.5,878.6 554.5,846.9 554.5,815.3 554.5,783.6 554.4,752 554.4,720.2 554.8,687.2 558.7,653.2 566.9,619.5 580,587.2 596.8,558.2 614.3,529.9 636,503.1 660.8,479.6 687.7,459.2 715.7,441.8 743.4,425.9 770.6,410 797.8,394 825,377.9 852.1,361.7 879.1,345.3 906.1,328.9 933,312.4 959.9,295.8 986.8,279.1 1013.6,262.4 1040.4,245.7 1067.2,228.9 1094,212 1120.8,195.2 1147.6,178.3 1174.3,161.4 1201.1,144.5 1227.9,127.6 1254.6,110.7" fill="#3e4085"/><polygon points="1268.1,132.1 1241.3,149 1214.6,165.9 1187.8,182.8 1161,199.7 1134.3,216.5 1107.5,233.4 1080.7,250.2 1053.8,267.1 1027,283.8 1000.1,300.6 973.2,317.3 946.3,333.9 919.3,350.4 892.2,366.9 865.1,383.3 837.9,399.6 810.7,415.8 783.4,431.8 756,447.8 728.6,463.5 702.1,479.9 677.5,498.8 655.6,520.4 636.8,544.9 621.3,571.9 606.4,599.3 595.6,628.1 588.8,658.2 585.5,689 585.2,720.3 585.2,752 585.2,783.6 585.2,815.3 585.2,846.9 585.2,878.6 585.2,910.2 585.2,941.9 585.2,973.5 585.2,1005.2 585.2,1036.8 585.2,1068.5 585.2,1100.1 585.2,1131.8 585.2,1163.4 585.2,1195.1 585.2,1226.7 585.2,1258.4 585.2,1290 585.2,1321.7 585.2,1353.3 585.2,1385 560.3,1385 560.3,1353.3 560.3,1321.7 560.3,1290 560.3,1258.4 560.3,1226.7 560.3,1195.1 560.3,1163.4 560.3,1131.8 560.3,1100.1 560.3,1068.5 560.3,1036.8 560.3,1005.2 560.3,973.5 560.3,941.9 560.3,910.2 560.3,878.6 560.3,846.9 560.3,815.3 560.3,783.6 560.3,752 560.3,720.2 560.6,687.6 564.4,654.1 572.3,621.1 584.9,589.4 601.4,560.8 618.5,532.7 639.6,506.3 663.8,483.1 690.3,462.9 718,445.7 745.6,429.8 772.9,413.9 800.2,397.9 827.3,381.8 854.4,365.6 881.5,349.2 908.5,332.8 935.4,316.3 962.3,299.7 989.2,283 1016,266.3 1042.9,249.5 1069.7,232.7 1096.4,215.9 1123.2,199 1150,182.1 1176.8,165.3 1203.5,148.4 1230.3,131.5 1257,114.6" fill="#3d3880"/><polygon points="1268.1,132.1 1241.3,149 1214.6,165.9 1187.8,182.8 1161,199.7 1134.3,216.5 1107.5,233.4 1080.7,250.2 1053.8,267.1 1027,283.8 1000.1,300.6 973.2,317.3 946.3,333.9 919.3,350.4 892.2,366.9 865.1,383.3 837.9,399.6 810.7,415.8 783.4,431.8 756,447.8 728.6,463.5 702.1,479.9 677.5,498.8 655.6,520.4 636.8,544.9 621.3,571.9 606.4,599.3 595.6,628.1 588.8,658.2 585.5,689 585.2,720.3 585.2,752 585.2,783.6 585.2,815.3 585.2,846.9 585.2,878.6 585.2,910.2 585.2,941.9 585.2,973.5 585.2,1005.2 585.2,1036.8 585.2,1068.5 585.2,1100.1 585.2,1131.8 585.2,1163.4 585.2,1195.1 585.2,1226.7 585.2,1258.4 585.2,1290 585.2,1321.7 585.2,1353.3 585.2,1385 564.8,1385 564.8,1353.3 564.8,1321.7 564.8,1290 564.8,1258.4 564.8,1226.7 564.8,1195.1 564.8,1163.4 564.8,1131.8 564.8,1100.1 564.8,1068.5 564.8,1036.8 564.8,1005.2 564.8,973.5 564.8,941.9 564.8,910.2 564.8,878.6 564.8,846.9 564.8,815.3 564.8,783.6 564.8,752 564.8,720.2 565.1,687.8 568.8,654.9 576.5,622.4 588.8,591.2 604.9,562.7 621.7,534.8 642.3,508.7 666.2,485.8 692.3,465.8 719.8,448.7 747.4,432.9 774.7,417 801.9,400.9 829.1,384.8 856.2,368.6 883.3,352.2 910.3,335.8 937.2,319.2 964.2,302.6 991,286 1017.9,269.2 1044.7,252.5 1071.5,235.7 1098.3,218.8 1125.1,202 1151.9,185.1 1178.6,168.2 1205.4,151.3 1232.2,134.4 1258.9,117.5" fill="#41307a"/><polygon points="1268.1,132.1 1241.3,149 1214.6,165.9 1187.8,182.8 1161,199.7 1134.3,216.5 1107.5,233.4 1080.7,250.2 1053.8,267.1 1027,283.8 1000.1,300.6 973.2,317.3 946.3,333.9 919.3,350.4 892.2,366.9 865.1,383.3 837.9,399.6 810.7,415.8 783.4,431.8 756,447.8 728.6,463.5 702.1,479.9 677.5,498.8 655.6,520.4 636.8,544.9 621.3,571.9 606.4,599.3 595.6,628.1 588.8,658.2 585.5,689 585.2,720.3 585.2,752 585.2,783.6 585.2,815.3 585.2,846.9 585.2,878.6 585.2,910.2 585.2,941.9 585.2,973.5 585.2,1005.2 585.2,1036.8 585.2,1068.5 585.2,1100.1 585.2,1131.8 585.2,1163.4 585.2,1195.1 585.2,1226.7 585.2,1258.4 585.2,1290 585.2,1321.7 585.2,1353.3 585.2,1385 568.4,1385 568.4,1353.3 568.4,1321.7 568.4,1290 568.4,1258.4 568.4,1226.7 568.4,1195.1 568.4,1163.4 568.4,1131.8 568.4,1100.1 568.4,1068.5 568.4,1036.8 568.4,1005.2 568.4,973.5 568.4,941.9 568.4,910.2 568.4,878.6 568.4,846.9 568.4,815.3 568.4,783.6 568.4,752 568.4,720.3 568.7,688 572.3,655.5 579.8,623.4 591.8,592.6 607.7,564.3 624.2,536.5 644.5,510.7 668,487.9 693.9,468.1 721.2,451.1 748.8,435.3 776.1,419.4 803.4,403.4 830.5,387.2 857.7,371 884.7,354.6 911.7,338.2 938.7,321.6 965.6,305 992.5,288.3 1019.4,271.6 1046.2,254.8 1073,238 1099.8,221.2 1126.6,204.3 1153.4,187.5 1180.1,170.6 1206.9,153.7 1233.7,136.8 1260.4,119.9" fill="#442c6c"/><polygon points="1268.1,132.1 1241.3,149 1214.6,165.9 1187.8,182.8 1161,199.7 1134.3,216.5 1107.5,233.4 1080.7,250.2 1053.8,267.1 1027,283.8 1000.1,300.6 973.2,317.3 946.3,333.9 919.3,350.4 892.2,366.9 865.1,383.3 837.9,399.6 810.7,415.8 783.4,431.8 756,447.8 728.6,463.5 702.1,479.9 677.5,498.8 655.6,520.4 636.8,544.9 621.3,571.9 606.4,599.3 595.6,628.1 588.8,658.2 585.5,689 585.2,720.3 585.2,752 585.2,783.6 585.2,815.3 585.2,846.9 585.2,878.6 585.2,910.2 585.2,941.9 585.2,973.5 585.2,1005.2 585.2,1036.8 585.2,1068.5 585.2,1100.1 585.2,1131.8 585.2,1163.4 585.2,1195.1 585.2,1226.7 585.2,1258.4 585.2,1290 585.2,1321.7 585.2,1353.3 585.2,1385 572.9,1385 572.9,1353.3 572.9,1321.7 572.9,1290 572.9,1258.4 572.9,1226.7 572.9,1195.1 572.9,1163.4 572.9,1131.8 572.9,1100.1 572.9,1068.5 572.9,1036.8 572.9,1005.2 572.9,973.5 572.9,941.9 572.9,910.2 572.9,878.6 572.9,846.9 572.9,815.3 572.9,783.6 572.9,752 572.9,720.3 573.2,688.3 576.7,656.2 584,624.6 595.6,594.3 611.2,566.2 627.4,538.6 647.2,513.1 670.4,490.6 695.9,471 723,454.1 750.5,438.3 777.9,422.4 805.1,406.4 832.3,390.2 859.5,374 886.5,357.6 913.6,341.1 940.5,324.6 967.5,308 994.4,291.3 1021.2,274.6 1048.1,257.8 1074.9,241 1101.7,224.2 1128.4,207.3 1155.2,190.4 1182,173.6 1208.8,156.7 1235.5,139.8 1262.3,122.9" fill="#432c58"/><polygon points="1268.1,132.1 1241.3,149 1214.6,165.9 1187.8,182.8 1161,199.7 1134.3,216.5 1107.5,233.4 1080.7,250.2 1053.8,267.1 1027,283.8 1000.1,300.6 973.2,317.3 946.3,333.9 919.3,350.4 892.2,366.9 865.1,383.3 837.9,399.6 810.7,415.8 783.4,431.8 756,447.8 728.6,463.5 702.1,479.9 677.5,498.8 655.6,520.4 636.8,544.9 621.3,571.9 606.4,599.3 595.6,628.1 588.8,658.2 585.5,689 585.2,720.3 585.2,752 585.2,783.6 585.2,815.3 585.2,846.9 585.2,878.6 585.2,910.2 585.2,941.9 585.2,973.5 585.2,1005.2 585.2,1036.8 585.2,1068.5 585.2,1100.1 585.2,1131.8 585.2,1163.4 585.2,1195.1 585.2,1226.7 585.2,1258.4 585.2,1290 585.2,1321.7 585.2,1353.3 585.2,1385 576.5,1385 576.5,1353.3 576.5,1321.7 576.5,1290 576.5,1258.4 576.5,1226.7 576.5,1195.1 576.5,1163.4 576.5,1131.8 576.5,1100.1 576.5,1068.5 576.5,1036.8 576.5,1005.2 576.5,973.5 576.5,941.9 576.5,910.2 576.5,878.6 576.5,846.9 576.5,815.3 576.5,783.6 576.5,752 576.5,720.3 576.8,688.5 580.2,656.8 587.3,625.6 598.7,595.7 614,567.8 629.9,540.3 649.4,515 672.2,492.7 697.5,473.3 724.5,456.5 751.9,440.7 779.3,424.8 806.6,408.8 833.8,392.6 860.9,376.4 888,360 915,343.5 942,327 968.9,310.4 995.8,293.7 1022.7,277 1049.5,260.2 1076.4,243.4 1103.2,226.5 1129.9,209.7 1156.7,192.8 1183.5,175.9 1210.3,159 1237,142.1 1263.8,125.2" fill="#402e48"/><polygon points="1268.1,132.1 1241.3,149 1214.6,165.9 1187.8,182.8 1161,199.7 1134.3,216.5 1107.5,233.4 1080.7,250.2 1053.8,267.1 1027,283.8 1000.1,300.6 973.2,317.3 946.3,333.9 919.3,350.4 892.2,366.9 865.1,383.3 837.9,399.6 810.7,415.8 783.4,431.8 756,447.8 728.6,463.5 702.1,479.9 677.5,498.8 655.6,520.4 636.8,544.9 621.3,571.9 606.4,599.3 595.6,628.1 588.8,658.2 585.5,689 585.2,720.3 585.2,752 585.2,783.6 585.2,815.3 585.2,846.9 585.2,878.6 585.2,910.2 585.2,941.9 585.2,973.5 585.2,1005.2 585.2,1036.8 585.2,1068.5 585.2,1100.1 585.2,1131.8 585.2,1163.4 585.2,1195.1 585.2,1226.7 585.2,1258.4 585.2,1290 585.2,1321.7 585.2,1353.3 585.2,1385 578.1,1385 578.1,1353.3 578.1,1321.7 578.1,1290 578.1,1258.4 578.1,1226.7 578.1,1195.1 578.1,1163.4 578.1,1131.8 578.1,1100.1 578.1,1068.5 578.1,1036.8 578.1,1005.2 578.1,973.5 578.1,941.9 578.1,910.2 578.1,878.6 578.1,846.9 578.1,815.3 578.1,783.6 578.1,752 578,720.3 578.4,688.6 581.7,657 588.8,626 600,596.3 615.2,568.5 631.1,541 650.4,515.9 673,493.6 698.2,474.3 725.1,457.6 752.6,441.8 779.9,425.9 807.2,409.8 834.4,393.7 861.6,377.4 888.6,361 915.7,344.6 942.6,328 969.6,311.4 996.5,294.7 1023.3,278 1050.2,261.2 1077,244.4 1103.8,227.6 1130.6,210.7 1157.4,193.8 1184.1,177 1210.9,160.1 1237.7,143.2 1264.4,126.3" fill="#3a2a3c"/></g>
<g id="i4"><polygon points="1268.1,132.1 1241.3,149 1214.6,165.9 1187.8,182.8 1161,199.7 1134.3,216.5 1107.5,233.4 1080.7,250.2 1053.8,267.1 1027,283.8 1000.1,300.6 973.2,317.3 946.3,333.9 919.3,350.4 892.2,366.9 865.1,383.3 837.9,399.6 810.7,415.8 783.4,431.8 756,447.8 728.6,463.5 702.1,479.9 677.5,498.8 655.6,520.4 636.8,544.9 621.3,571.9 606.4,599.3 595.6,628.1 588.8,658.2 585.5,689 585.2,720.3 585.2,752 585.2,783.6 585.2,815.3 585.2,846.9 585.2,878.6 585.2,910.2 585.2,941.9 585.2,973.5 585.2,1005.2 585.2,1036.8 585.2,1068.5 585.2,1100.1 585.2,1131.8 585.2,1163.4 585.2,1195.1 585.2,1226.7 585.2,1258.4 585.2,1290 585.2,1321.7 585.2,1353.3 585.2,1385 530.2,1385 530.2,1353.3 530.2,1321.7 530.2,1290 530.2,1258.4 530.2,1226.7 530.2,1195.1 530.2,1163.4 530.2,1131.8 530.2,1100.1 530.2,1068.5 530.2,1036.8 530.2,1005.2 530.2,973.5 530.2,941.9 530.2,910.2 530.2,878.5 530.2,846.9 530.2,815.3 530.2,783.6 530.2,752 530.2,720.1 530.6,685.8 535.4,649.3 545.5,613.1 561.3,578.6 580.8,549.2 600.9,521 625.4,493.8 652.5,470 680.7,449.1 709.4,431.3 737.2,415.3 764.4,399.4 791.6,383.5 818.7,367.4 845.8,351.2 872.8,334.9 899.7,318.4 926.6,301.9 953.5,285.4 980.3,268.7 1007.1,252 1033.9,235.3 1060.7,218.5 1087.5,201.6 1114.3,184.8 1141,167.9 1167.8,151.1 1194.6,134.2 1221.3,117.3 1248.1,100.4" fill="#3f478a"/><polygon points="1268.1,132.1 1241.3,149 1214.6,165.9 1187.8,182.8 1161,199.7 1134.3,216.5 1107.5,233.4 1080.7,250.2 1053.8,267.1 1027,283.8 1000.1,300.6 973.2,317.3 946.3,333.9 919.3,350.4 892.2,366.9 865.1,383.3 837.9,399.6 810.7,415.8 783.4,431.8 756,447.8 728.6,463.5 702.1,479.9 677.5,498.8 655.6,520.4 636.8,544.9 621.3,571.9 606.4,599.3 595.6,628.1 588.8,658.2 585.5,689 585.2,720.3 585.2,752 585.2,783.6 585.2,815.3 585.2,846.9 585.2,878.6 585.2,910.2 585.2,941.9 585.2,973.5 585.2,1005.2 585.2,1036.8 585.2,1068.5 585.2,1100.1 585.2,1131.8 585.2,1163.4 585.2,1195.1 585.2,1226.7 585.2,1258.4 585.2,1290 585.2,1321.7 585.2,1353.3 585.2,1385 540.7,1385 540.7,1353.3 540.7,1321.7 540.7,1290 540.7,1258.4 540.7,1226.7 540.7,1195.1 540.7,1163.4 540.7,1131.8 540.7,1100.1 540.7,1068.5 540.7,1036.8 540.7,1005.2 540.7,973.5 540.7,941.9 540.7,910.2 540.7,878.5 540.7,846.9 540.7,815.3 540.7,783.6 540.7,752 540.7,720.1 541.1,686.4 545.5,651 555,615.9 569.8,582.5 588.4,553.5 607.5,525.4 630.9,498.7 657,475.2 684.6,454.6 712.9,437.1 740.6,421.1 767.9,405.3 795,389.3 822.2,373.2 849.2,357 876.3,340.6 903.2,324.2 930.1,307.7 957,291.1 983.9,274.5 1010.7,257.7 1037.5,241 1064.3,224.2 1091.1,207.4 1117.9,190.5 1144.6,173.6 1171.4,156.8 1198.2,139.9 1224.9,123 1251.7,106.1" fill="#3e4085"/><polygon points="1268.1,132.1 1241.3,149 1214.6,165.9 1187.8,182.8 1161,199.7 1134.3,216.5 1107.5,233.4 1080.7,250.2 1053.8,267.1 1027,283.8 1000.1,300.6 973.2,317.3 946.3,333.9 919.3,350.4 892.2,366.9 865.1,383.3 837.9,399.6 810.7,415.8 783.4,431.8 756,447.8 728.6,463.5 702.1,479.9 677.5,498.8 655.6,520.4 636.8,544.9 621.3,571.9 606.4,599.3 595.6,628.1 588.8,658.2 585.5,689 585.2,720.3 585.2,752 585.2,783.6 585.2,815.3 585.2,846.9 585.2,878.6 585.2,910.2 585.2,941.9 585.2,973.5 585.2,1005.2 585.2,1036.8 585.2,1068.5 585.2,1100.1 585.2,1131.8 585.2,1163.4 585.2,1195.1 585.2,1226.7 585.2,1258.4 585.2,1290 585.2,1321.7 585.2,1353.3 585.2,1385 549.8,1385 549.8,1353.3 549.8,1321.7 549.8,1290 549.8,1258.4 549.8,1226.7 549.8,1195.1 549.8,1163.4 549.8,1131.8 549.8,1100.1 549.8,1068.5 549.8,1036.8 549.8,1005.2 549.8,973.5 549.8,941.9 549.8,910.2 549.8,878.6 549.8,846.9 549.8,815.3 549.8,783.6 549.8,752 549.8,720.2 550.2,687 554.4,652.5 563.2,618.4 577.1,585.9 594.9,557.1 613.3,529.2 635.7,502.9 660.9,479.7 687.9,459.4 715.9,442.1 743.5,426.2 770.8,410.3 798,394.3 825.2,378.2 852.3,362 879.3,345.6 906.3,329.2 933.2,312.7 960.1,296.1 987,279.4 1013.8,262.7 1040.6,245.9 1067.4,229.1 1094.2,212.3 1121,195.5 1147.8,178.6 1174.5,161.7 1201.3,144.8 1228,127.9 1254.8,111" fill="#3d3880"/><polygon points="1268.1,132.1 1241.3,149 1214.6,165.9 1187.8,182.8 1161,199.7 1134.3,216.5 1107.5,233.4 1080.7,250.2 1053.8,267.1 1027,283.8 1000.1,300.6 973.2,317.3 946.3,333.9 919.3,350.4 892.2,366.9 865.1,383.3 837.9,399.6 810.7,415.8 783.4,431.8 756,447.8 728.6,463.5 702.1,479.9 677.5,498.8 655.6,520.4 636.8,544.9 621.3,571.9 606.4,599.3 595.6,628.1 588.8,658.2 585.5,689 585.2,720.3 585.2,752 585.2,783.6 585.2,815.3 585.2,846.9 585.2,878.6 585.2,910.2 585.2,941.9 585.2,973.5 585.2,1005.2 585.2,1036.8 585.2,1068.5 585.2,1100.1 585.2,1131.8 585.2,1163.4 585.2,1195.1 585.2,1226.7 585.2,1258.4 585.2,1290 585.2,1321.7 585.2,1353.3 585.2,1385 556.8,1385 556.8,1353.3 556.8,1321.7 556.8,1290 556.8,1258.4 556.8,1226.7 556.8,1195.1 556.8,1163.4 556.8,1131.8 556.8,1100.1 556.8,1068.5 556.8,1036.8 556.8,1005.2 556.8,973.5 556.8,941.9 556.8,910.2 556.8,878.6 556.8,846.9 556.8,815.3 556.8,783.6 556.8,752 556.8,720.2 557.1,687.4 561.1,653.6 569.5,620.3 582.8,588.5 600,560 617.7,532.1 639.3,506.1 663.9,483.2 690.5,463.1 718.2,446 745.8,430.1 773.1,414.2 800.3,398.2 827.5,382.1 854.6,365.8 881.6,349.5 908.6,333 935.6,316.5 962.5,299.9 989.3,283.3 1016.2,266.5 1043,249.8 1069.8,233 1096.6,216.1 1123.4,199.3 1150.2,182.4 1176.9,165.5 1203.7,148.6 1230.4,131.7 1257.2,114.8" fill="#41307a"/><polygon points="1268.1,132.1 1241.3,149 1214.6,165.9 1187.8,182.8 1161,199.7 1134.3,216.5 1107.5,233.4 1080.7,250.2 1053.8,267.1 1027,283.8 1000.1,300.6 973.2,317.3 946.3,333.9 919.3,350.4 892.2,366.9 865.1,383.3 837.9,399.6 810.7,415.8 783.4,431.8 756,447.8 728.6,463.5 702.1,479.9 677.5,498.8 655.6,520.4 636.8,544.9 621.3,571.9 606.4,599.3 595.6,628.1 588.8,658.2 585.5,689 585.2,720.3 585.2,752 585.2,783.6 585.2,815.3 585.2,846.9 585.2,878.6 585.2,910.2 585.2,941.9 585.2,973.5 585.2,1005.2 585.2,1036.8 585.2,1068.5 585.2,1100.1 585.2,1131.8 585.2,1163.4 585.2,1195.1 585.2,1226.7 585.2,1258.4 585.2,1290 585.2,1321.7 585.2,1353.3 585.2,1385 562.4,1385 562.4,1353.3 562.4,1321.7 562.4,1290 562.4,1258.4 562.4,1226.7 562.4,1195.1 562.4,1163.4 562.4,1131.8 562.4,1100.1 562.4,1068.5 562.4,1036.8 562.4,1005.2 562.4,973.5 562.4,941.9 562.4,910.2 562.4,878.6 562.4,846.9 562.4,815.3 562.4,783.6 562.4,752 562.4,720.2 562.7,687.7 566.6,654.5 574.6,621.8 587.4,590.5 604,562.2 621.2,534.5 642.3,508.7 666.4,486 692.5,466.1 720,449.1 747.6,433.2 774.9,417.3 802.1,401.3 829.3,385.2 856.4,368.9 883.5,352.6 910.5,336.1 937.4,319.6 964.4,303 991.2,286.3 1018.1,269.6 1044.9,252.8 1071.7,236 1098.5,219.2 1125.3,202.3 1152.1,185.4 1178.8,168.6 1205.6,151.7 1232.4,134.8 1259.1,117.9" fill="#442c6c"/><polygon points="1268.1,132.1 1241.3,149 1214.6,165.9 1187.8,182.8 1161,199.7 1134.3,216.5 1107.5,233.4 1080.7,250.2 1053.8,267.1 1027,283.8 1000.1,300.6 973.2,317.3 946.3,333.9 919.3,350.4 892.2,366.9 865.1,383.3 837.9,399.6 810.7,415.8 783.4,431.8 756,447.8 728.6,463.5 702.1,479.9 677.5,498.8 655.6,520.4 636.8,544.9 621.3,571.9 606.4,599.3 595.6,628.1 588.8,658.2 585.5,689 585.2,720.3 585.2,752 585.2,783.6 585.2,815.3 585.2,846.9 585.2,878.6 585.2,910.2 585.2,941.9 585.2,973.5 585.2,1005.2 585.2,1036.8 585.2,1068.5 585.2,1100.1 585.2,1131.8 585.2,1163.4 585.2,1195.1 585.2,1226.7 585.2,1258.4 585.2,1290 585.2,1321.7 585.2,1353.3 585.2,1385 569.4,1385 569.4,1353.3 569.4,1321.7 569.4,1290 569.4,1258.4 569.4,1226.7 569.4,1195.1 569.4,1163.4 569.4,1131.8 569.4,1100.1 569.4,1068.5 569.4,1036.8 569.4,1005.2 569.4,973.5 569.4,941.9 569.4,910.2 569.4,878.6 569.4,846.9 569.4,815.3 569.4,783.6 569.4,752 569.4,720.3 569.7,688.1 573.3,655.6 580.9,623.7 593,593.1 609,565 625.7,537.4 645.9,511.9 669.4,489.4 695.1,469.8 722.3,452.9 749.8,437.1 777.2,421.2 804.4,405.2 831.6,389 858.8,372.8 885.8,356.4 912.8,339.9 939.8,323.4 966.7,306.8 993.6,290.1 1020.5,273.4 1047.3,256.6 1074.1,239.8 1100.9,223 1127.7,206.1 1154.5,189.3 1181.2,172.4 1208,155.5 1234.8,138.6 1261.5,121.7" fill="#432c58"/><polygon points="1268.1,132.1 1241.3,149 1214.6,165.9 1187.8,182.8 1161,199.7 1134.3,216.5 1107.5,233.4 1080.7,250.2 1053.8,267.1 1027,283.8 1000.1,300.6 973.2,317.3 946.3,333.9 919.3,350.4 892.2,366.9 865.1,383.3 837.9,399.6 810.7,415.8 783.4,431.8 756,447.8 728.6,463.5 702.1,479.9 677.5,498.8 655.6,520.4 636.8,544.9 621.3,571.9 606.4,599.3 595.6,628.1 588.8,658.2 585.5,689 585.2,720.3 585.2,752 585.2,783.6 585.2,815.3 585.2,846.9 585.2,878.6 585.2,910.2 585.2,941.9 585.2,973.5 585.2,1005.2 585.2,1036.8 585.2,1068.5 585.2,1100.1 585.2,1131.8 585.2,1163.4 585.2,1195.1 585.2,1226.7 585.2,1258.4 585.2,1290 585.2,1321.7 585.2,1353.3 585.2,1385 575,1385 575,1353.3 575,1321.7 575,1290 575,1258.4 575,1226.7 575,1195.1 575,1163.4 575,1131.8 575,1100.1 575,1068.5 575,1036.8 575,1005.2 575,973.5 575,941.9 575,910.2 575,878.6 575,846.9 575,815.3 575,783.6 575,752 575,720.3 575.3,688.4 578.8,656.5 586,625.2 597.6,595.2 613.1,567.3 629.2,539.8 648.9,514.5 671.8,492.2 697.1,472.8 724.2,456 751.6,440.2 779,424.3 806.3,408.3 833.5,392.1 860.6,375.8 887.7,359.5 914.7,343 941.7,326.5 968.6,309.9 995.5,293.2 1022.4,276.5 1049.2,259.7 1076,242.9 1102.8,226 1129.6,209.2 1156.4,192.3 1183.2,175.4 1209.9,158.5 1236.7,141.6 1263.5,124.7" fill="#402e48"/><polygon points="1268.1,132.1 1241.3,149 1214.6,165.9 1187.8,182.8 1161,199.7 1134.3,216.5 1107.5,233.4 1080.7,250.2 1053.8,267.1 1027,283.8 1000.1,300.6 973.2,317.3 946.3,333.9 919.3,350.4 892.2,366.9 865.1,383.3 837.9,399.6 810.7,415.8 783.4,431.8 756,447.8 728.6,463.5 702.1,479.9 677.5,498.8 655.6,520.4 636.8,544.9 621.3,571.9 606.4,599.3 595.6,628.1 588.8,658.2 585.5,689 585.2,720.3 585.2,752 585.2,783.6 585.2,815.3 585.2,846.9 585.2,878.6 585.2,910.2 585.2,941.9 585.2,973.5 585.2,1005.2 585.2,1036.8 585.2,1068.5 585.2,1100.1 585.2,1131.8 585.2,1163.4 585.2,1195.1 585.2,1226.7 585.2,1258.4 585.2,1290 585.2,1321.7 585.2,1353.3 585.2,1385 577.5,1385 577.5,1353.3 577.5,1321.7 577.5,1290 577.5,1258.4 577.5,1226.7 577.5,1195.1 577.5,1163.4 577.5,1131.8 577.5,1100.1 577.5,1068.5 577.5,1036.8 577.5,1005.2 577.5,973.5 577.5,941.9 577.5,910.2 577.5,878.6 577.5,846.9 577.5,815.3 577.5,783.6 577.4,752 577.4,720.3 577.7,688.6 581.1,656.9 588.2,625.9 599.5,596.1 614.8,568.3 630.7,540.8 650.2,515.7 672.9,493.4 698,474.1 725,457.4 752.4,441.6 779.8,425.7 807.1,409.6 834.3,393.5 861.4,377.2 888.5,360.8 915.5,344.4 942.5,327.8 969.5,311.2 996.4,294.5 1023.2,277.8 1050.1,261 1076.9,244.2 1103.7,227.4 1130.5,210.5 1157.2,193.6 1184,176.7 1210.8,159.9 1237.5,143 1264.3,126" fill="#3a2a3c"/></g>
<polyline id="edgeN" points="424.9,1333 424.9,900 425,883.9 425,867.8 425.1,851.7 425.1,835.6 425.1,819.6 425.1,803.5 425,787.4 425,771.3 424.9,755.2 424.7,739.1 424.7,723 424.8,706.9 425.1,690.8 425.8,674.8 427.1,658.7 429,642.7 431.6,626.9 435,611.1 439.2,595.6 443.9,580.2 449.1,565 454.9,550 461.2,535.2 468,520.6 475.2,506.2 482.9,492.1 491.1,478.2 499.8,464.7 508.9,451.4 518.6,438.6 528.9,426.2 539.7,414.3 550.9,402.8 562.6,391.7 575,381.5 587.8,371.7 600.8,362.2 614,353 627.5,344.3 641.3,335.9 655.1,327.7 668.7,319.1 682.1,310.1 695.5,301.3 709.1,292.7 722.7,284.2 736.4,275.7 750.1,267.2 763.8,258.8 777.5,250.3 791.2,241.9 804.9,233.4 818.6,225 832.3,216.6 846,208.2 859.8,199.8 873.5,191.5 887.3,183.1 901,174.8 914.8,166.5 928.6,158.2 942.3,149.8 956.1,141.5 969.9,133.2 983.6,124.8 997.4,116.5 1011.1,108.1 1024.9,99.8 1038.6,91.4 1052.3,83 1066,74.6 1079.8,66.2 1093.5,57.8 1107.2,49.4 1120.9,40.9 1134.6,32.5 1148.3,24.1 1162,15.6 1175.7,7.2" fill="none" stroke="#3c3f86" stroke-width="7" stroke-opacity=".5" filter="url(#b3)"/>
<g id="inset"><clipPath id="ic"><path d="M0 525.4 V396 A396 396 0 0 1 396 0 H591 V198 H396 A198 198 0 0 0 198 396 V525.4 Z"/></clipPath>
<path d="M0 525.4 V396 A396 396 0 0 1 396 0 H591 V198 H396 A198 198 0 0 0 198 396 V525.4 Z" fill="#809fd0"/>
<g clip-path="url(#ic)" fill="none" stroke-width="1.9" stroke-opacity=".92" stroke-linejoin="round">
<path stroke="#62bc5e" d="M79.1 201.8L95.4 177.6L113.5 154.7L133.3 133.3L154.8 113.6L177.8 95.6L202 79.5L227.5 65.3L254 53.2L281.3 43.1L309.4 35.2L338 29.6L366.9 26.2L396 25L428.5 25.6M19.3 396L20.5 366.4L24.1 337.1L30.1 308.2L38.5 279.8L49.1 252.3L61.8 225.7L76.6 200.3L93.4 176.2L112 153.5L132.3 132.3L154.2 112.9L177.5 95.2L202 79.4M14.2 365.9L17.7 336.1L23.6 306.6L31.9 277.7L42.3 249.5L55 222.2L69.8 196.1L86.5 171.1L105.2 147.6L125.6 125.6L147.8 105.3M58 223.8L72.9 198L89.8 173.5L108.6 150.5L129.1 129.1L151.1 109.3M88.8 525.4L88.8 506.9L88.8 488.4L88.8 469.9L88.8 451.5L88.8 433L88.8 414.5L88.8 396L89.6 371.9L92.2 347.9L96.4 324.1L102.4 300.6L110.1 277.6L119.5 255.1L130.6 233.3L143.3 212.4L157.7 192.5L173.7 173.7L191.1 156.1L210 140L230.2 125.4L251.5 112.4L273.9 101.3L297.2 92L321.3 84.7L345.9 79.5L370.8 76.4L396 75.4L409.9 72L423.9 70.6L437.8 71.9L451.7 76.8L465.6 85.5L479.6 96.2L493.5 106.9L507.4 116.7L521.4 125.1L535.3 131.4L549.2 135.4L563.1 136.8L577.1 135.6L591 132.1M88.2 525.4L88.2 506.9L88.2 488.4L88.2 469.9L88.2 451.5L88.2 433L88.2 414.5L88.2 396L88.7 371.8L90.3 347.6L93.1 323.3L97.3 299L103 274.6L110.3 250.4L119.3 226.4L130.1 202.8L142.8 179.8L157.5 157.5L174.2 136.3L192.9 116.4L213.4 98L235.7 81.4L259.7 66.9L285.1 54.8L311.8 45.2L339.4 38.4L367.6 34.6L396 33.4L409.9 38.7L423.9 48.9L437.8 62.8L451.7 79L465.6 94.5L479.6 106.9L493.5 118.7L507.4 129.8L521.4 139.6L535.3 148L549.2 154.6L563.1 159.2L577.1 161.7L591 161.6M64.4 525.4L64.4 506.9L64.4 488.4L64.4 469.9L64.4 451.5L64.4 433L64.4 414.5L64.4 396L65.4 370L68.4 344.1L73.5 318.6L80.5 293.5L89.5 269L100.4 245.4L113 222.6L127.5 200.9L143.6 180.4L161.2 161.2L180.3 143.5L200.8 127.3L222.4 112.7L245.2 99.9L268.8 89L293.3 79.9L318.4 72.8L344 67.7L369.9 64.6L396 63.6L409.9 69.3L423.9 79.5L437.8 92.2L451.7 104.7L465.6 112.5L479.6 112.8L493.5 110.8L507.4 107.2L521.4 102.7L535.3 98.1L549.2 94.2L563.1 91.7L577.1 91L591 92.2M27 525.4L27 506.9L27 488.4L27 469.9L27 451.5L27 433L27 414.5L27 396L28.2 367.1L31.8 338.3L37.7 310L45.9 282.2L56.3 255.3L68.8 229.3L83.3 204.4L99.8 180.8L118 158.6L137.9 137.9L159.3 118.9L182.1 101.6L206.2 86.2L231.3 72.7L257.3 61.2L284.1 51.6L311.5 44.2L339.4 38.8L367.6 35.5L396 34.4L409.9 34.7L423.9 36L437.8 38.7L451.7 43.1L465.6 51.1L479.6 64.2L493.5 79.4L507.4 96.1L521.4 113.5L535.3 130.6L549.2 146.5L563.1 160.3L577.1 171.1L591 178M93.1 525.4L93.1 506.9L93.1 488.4L93.1 469.9L93.1 451.5L93.1 433L93.1 414.5L93.1 396L93.7 372.2L95.7 348.4L99.2 324.7L104.1 301.2L110.6 277.8L118.8 254.8L128.6 232.2L140.2 210.1L153.5 188.9L168.6 168.6L185.4 149.4L203.8 131.5L223.9 115.1L245.4 100.5L268.3 87.7L292.4 77.1L317.4 68.7L343.2 62.7L369.5 59.3L396 58.3L409.9 65.4L423.9 77.6L437.8 93.6L451.7 112.3L465.6 129.4L479.6 141L493.5 151.9L507.4 161.6L521.4 169.8L535.3 176.2L549.2 180.5L563.1 182.4L577.1 181.8L591 178.4M62 525.4L62 506.9L62 488.4L62 469.9L62 451.5L62 433L62 414.5L62 396L62.8 369.8L65.2 343.6L69.3 317.6L75.1 291.7L82.6 266.2L92 241.1L103.3 216.6L116.4 192.8L131.4 170L148.2 148.2L166.9 127.7L187.3 108.7L209.3 91.4L232.9 75.9L257.8 62.5L284 51.3L311.1 42.4L339 36.2L367.4 32.5L396 31.4L409.9 29.2L423.9 32.5L437.8 41.4L451.7 55.5L465.6 73.5L479.6 91.8L493.5 109.6L507.4 126.2L521.4 140.8L535.3 152.8L549.2 161.7L563.1 167.2L577.1 168.9L591 166.8"/>
<path stroke="#86c458" d="M24 396L25.2 366.8L28.6 337.8L34.3 309.2L42.3 281.1L52.5 253.7L64.8 227.2L79.1 201.8M428.5 25.6L461 27.1L493.5 29L526 31L558.5 32.6M181 525.4L181 506.9L181 488.4L181 469.9M44.8 433L44.8 414.5L44.8 396L45.9 368.4L49.1 341.1L54.5 314L62 287.5L71.5 261.6L83 236.5L96.4 212.4L111.7 189.4L128.7 167.7L147.4 147.4L167.7 128.7L189.3 111.5L212.3 96.2L236.3 82.6L261.4 71L287.3 61.4L313.9 53.9L341 48.5L368.4 45.3L396 44.2L428.5 44.7L461 46.1L493.5 47.9M37.4 396L38.5 367.9L41.8 339.9L47.3 312.3L55 285.2L64.9 258.8L76.7 233.3L90.5 208.8L106.2 185.5L123.7 163.5L142.9 142.9L163.6 123.9L185.7 106.6L209.1 91L233.7 77.4L259.2 65.7L285.5 56L312.6 48.5L340.1 43L368 39.7L396 38.6L428.5 38.9L461 39.7L493.5 40.8L526 41.9M19.3 451.5L19.3 433L19.3 414.5L19.3 396M202 79.4L227.6 65.6L254.2 53.8L281.6 44L309.7 36.4L338.2 30.9L367 27.5L396 26.4L428.5 27.5L461 30.3L493.5 33.9M33.8 396L35 367.6L38.4 339.4L44.1 311.5L52 284.2L62.1 257.7L74.2 232L88.3 207.5L104.3 184.1L122.1 162.1L141.5 141.5L162.5 122.6L184.9 105.4L208.5 90L233.2 76.5L258.9 64.9L285.3 55.4L312.4 47.9L340 42.5L367.9 39.2L396 38.1L428.5 39.2L461 41.8M13 433L13 414.5L13 396L14.2 365.9M147.8 105.3L171.4 86.8L196.4 70.2L222.6 55.7L249.9 43.2L278 32.8L306.9 24.8L336.3 18.9L366 15.4L396 14.2L428.5 14.9L461 16.4L493.5 18.5M67.1 396L68.1 370.2L71 344.5L75.9 319.2L82.7 294.2L91.4 269.8L102 246.2L114.3 223.4L128.4 201.6L144.2 181L161.6 161.6L180.4 143.6L200.7 127.2L222.2 112.4L244.8 99.3L268.5 88.1L293 78.9L318.1 71.6L343.8 66.4L369.8 63.2L396 62.2L428.5 62L461 61.7L493.5 61.2M8.9 414.5L8.9 396L10.2 365.6L13.8 335.5L19.8 305.7L28.2 276.5L38.8 248.1L51.7 220.6L66.7 194.2L83.7 169.1L102.6 145.4L123.3 123.3L145.7 102.9L169.6 84.3L194.8 67.7L221.3 53.1L248.8 40.6L277.2 30.2L306.2 22.1L335.9 16.3L365.8 12.8L396 11.6L428.5 12.3M15.1 396L16.4 366.1L20 336.5L26.1 307.2L34.5 278.5L45.1 250.7L58 223.8M151.1 109.3L174.7 91.4L199.5 75.3L225.4 61.2L252.4 49.2L280.1 39.3L308.5 31.5L337.4 25.9L366.6 22.5L396 21.4L428.5 21.8L461 22.8L493.5 24.2M26.5 414.5L26.5 396L27.7 367L31.2 338.2L37 309.8L45 282L55.2 254.8L67.6 228.7L81.9 203.5L98.2 179.6L116.3 157.1L136.1 136.1L157.5 116.7L180.3 99.1L204.4 83.3L229.6 69.5L255.8 57.6L282.9 47.8L310.6 40.1L338.8 34.6L367.3 31.3L396 30.1L428.5 30.9M67.6 260L79.1 234.5L92.4 210L107.7 186.5L124.8 164.3L143.5 143.5L163.9 124.2L185.7 106.6L208.9 90.7L233.3 76.7L258.8 64.7L285.1 54.8L312.2 47L339.8 41.4L367.8 38L396 36.9L428.5 37.4L461 38.7M33 367.4L36.5 339.1L42.2 311.1L50.1 283.6L60.2 256.9L72.4 231.1L86.6 206.4L102.7 182.9L120.5 160.7L140.1 140.1L161.1 121L183.6 103.7L207.4 88.2L232.2 74.5L258 62.9L284.6 53.3L311.9 45.8L339.7 40.3L367.7 37L396 35.9L428.5 36.5L461 38.1L493.5 40.1M66.5 288.9L75.6 263.3L86.7 238.4L99.7 214.4L114.5 191.5L131.1 169.7L149.3 149.3L169.2 130.4L190.5 113.1L213.1 97.5L236.9 83.7L261.8 71.9L287.5 62.1L314 54.5L341 48.9L368.4 45.7L396 44.6L428.5 45.3L461 47.3M78.7 264.6L89.6 239.9L102.5 216.1L117.1 193.4L133.5 171.8L151.5 151.5L171.1 132.7L192.2 115.5L214.6 100L238.2 86.3L262.9 74.6L288.4 64.8L314.7 57.2L341.5 51.7L368.6 48.4L396 47.3L428.5 47.5L461 48L493.5 48.7M145.8 525.4L145.8 506.9L145.8 488.4L145.8 469.9L145.8 451.5M22.8 525.4L22.8 506.9L22.8 488.4L22.8 469.9L22.8 451.5L22.8 433L22.8 414.5L22.8 396L24.1 366.7L28 337.7L34.3 309.2L43.2 281.4L54.3 254.5L67.6 228.7L82.9 204.1L100.1 181L119 159.5L139.5 139.5L161.5 121.4L184.6 105L208.8 90.5L233.9 77.9L259.8 67.2L286.3 58.4L313.3 51.6L340.7 46.6L368.3 43.5L396 42.4L409.9 40.3L423.9 38.5L437.8 38.3L451.7 40.9L465.6 49L479.6 63.5L493.5 80.2L507.4 98.1L521.4 115.8L535.3 132.3L549.2 146.3L563.1 156.9L577.1 163.3L591 165M73.4 525.4L73.4 506.9L73.4 488.4L73.4 469.9L73.4 451.5L73.4 433L73.4 414.5L73.4 396L74.3 370.7L77 345.5L81.5 320.5L87.8 295.9L95.9 271.7L105.8 248.1L117.5 225.3L131 203.4L146.1 182.6L162.9 162.9L181.2 144.5L201 127.6L222.2 112.4L244.6 98.8L268.1 87.2L292.5 77.5L317.7 69.9L343.5 64.4L369.7 61.2L396 60.2L409.9 61.6L423.9 68L437.8 78.7L451.7 92.4L465.6 105L479.6 111.2L493.5 115.1L507.4 116.4L521.4 115.2L535.3 111.7L549.2 106.1L563.1 99L577.1 90.7L591 81.9"/>
<path stroke="#a4ca56" d="M134 205.6L149.3 185.3L166.2 166.2L184.5 148.4L204.3 132.1L225.3 117.5L247.5 104.5L270.6 93.4L294.7 84.1L319.4 76.9L344.6 71.7L370.2 68.6M24 525.4L24 506.9L24 488.4L24 469.9L24 451.5L24 433L24 414.5L24 396M558.5 32.6L591 33.5M72 525.4L72 506.9L72 488.4L72 469.9L72 451.5L72 433L72 414.5L72 396L73 370.6L75.8 345.3L80.6 320.3L87.2 295.7L95.7 271.6L106.1 248.3L118.2 225.8L132 204.2L147.5 183.8L164.6 164.6L183.2 146.8L203.1 130.5L224.3 115.9L246.7 102.9L270 91.8L294.2 82.5L319 75.3L344.4 70.1L370.1 67L396 66L428.5 66.5L461 67.8L493.5 69.5M64.8 414.5L64.8 396L65.8 370L68.7 344.2L73.5 318.6L80.2 293.4L88.8 268.7L99.2 244.8L111.5 221.7L125.6 199.5L141.3 178.5L158.7 158.7L177.7 140.4L198 123.5L219.7 108.4L242.6 94.9L266.5 83.4L291.3 73.8L316.9 66.3L342.9 60.9L369.4 57.7L396 56.7L428.5 56.8L461 57L493.5 57.4M149.9 525.4L149.9 506.9L149.9 488.4L149.9 469.9L149.9 451.5M181 469.9L181 451.5L181 433M526 133.1L558.5 125.4L591 121.3M44.8 525.4L44.8 506.9L44.8 488.4L44.8 469.9L44.8 451.5L44.8 433M493.5 47.9L526 49.8L558.5 51.3L591 52.1M37.4 525.4L37.4 506.9L37.4 488.4L37.4 469.9L37.4 451.5L37.4 433L37.4 414.5L37.4 396M526 41.9L558.5 42.8L591 43.2M19.3 525.4L19.3 506.9L19.3 488.4L19.3 469.9L19.3 451.5M493.5 33.9L526 37.7L558.5 40.9L591 42.6M133.3 525.4L133.3 506.9L133.3 488.4L133.3 469.9L133.3 451.5L133.3 433L133.3 414.5M57.8 525.4L57.8 506.9L57.8 488.4L57.8 469.9L57.8 451.5L57.8 433L57.8 414.5L57.8 396L58.8 369.5L61.8 343.1L66.8 317L73.8 291.3L82.7 266.2L93.5 241.9L106.2 218.4L120.7 196L137 174.8L154.8 154.8L174.2 136.3L195 119.4L217.1 104.1L240.4 90.7L264.7 79.1L289.9 69.6L315.8 62.1L342.3 56.7L369 53.5L396 52.4L428.5 52.6L461 53.2L493.5 53.9L526 54.7M96.7 525.4L96.7 506.9L96.7 488.4L96.7 469.9L96.7 451.5L96.7 433L96.7 414.5L96.7 396L97.5 372.5M196.8 162.8L215.2 147.2L234.9 133L255.6 120.5L277.4 109.7L300.1 100.8L323.4 93.7L347.3 88.7L371.6 85.7L396 84.8L428.5 84.1L461 82.6L493.5 80.5L526 78.4M167.3 525.4L167.3 506.9L167.3 488.4L167.3 469.9L167.3 451.5M526 128.8L558.5 122L591 118.3M90.5 525.4L90.5 506.9L90.5 488.4L90.5 469.9L90.5 451.5M193.7 159.2L212.5 143.4L232.5 129.2L253.7 116.7L275.8 105.9L298.8 96.9L322.5 89.8L346.7 84.8L371.3 81.8L396 80.8L428.5 80.4M33.8 525.4L33.8 506.9L33.8 488.4L33.8 469.9L33.8 451.5L33.8 433L33.8 414.5L33.8 396M461 41.8L493.5 45.2L526 48.8L558.5 51.8M169.9 525.4L169.9 506.9L169.9 488.4L169.9 469.9L169.9 451.5L169.9 433M107.6 525.4L107.6 506.9L107.6 488.4L107.6 469.9L107.6 451.5L107.6 433L107.6 414.5L107.6 396L108.5 373.4L111 350.9L115.1 328.6L120.9 306.6M327 108.7L349.7 104L372.8 101.2L396 100.3L428.5 99.7L461 98.4L493.5 96.7L526 94.8L558.5 93.3M13 525.4L13 506.9L13 488.4L13 469.9L13 451.5L13 433M493.5 18.5L526 20.6L558.5 22.4L591 23.3M160 525.4L160 506.9L160 488.4L160 469.9L160 451.5L160 433L160 414.5L160 396M67.1 525.4L67.1 506.9L67.1 488.4L67.1 469.9L67.1 451.5L67.1 433L67.1 414.5L67.1 396M493.5 61.2L526 60.7L558.5 60.2L591 60M8.9 469.9L8.9 451.5L8.9 433L8.9 414.5M428.5 12.3L461 14.2L493.5 16.6L526 19.2L558.5 21.3M104.9 525.4L104.9 506.9L104.9 488.4L104.9 469.9L104.9 451.5L104.9 433L104.9 414.5L104.9 396L105.7 373.2L108.2 350.4L112.4 327.9L118.3 305.8L125.8 284.1L134.9 263L145.7 242.6L158 223.1L171.8 204.5L187.1 187.1L203.7 170.9L221.6 156L240.7 142.6L260.8 130.7L281.9 120.5L303.7 112L326.2 105.3L349.2 100.6L372.5 97.7L396 96.8L428.5 96.4L461 95.2L493.5 93.7L526 92.2L558.5 90.9L591 90.2M141.7 525.4L141.7 506.9L141.7 488.4L141.7 469.9L141.7 451.5M94 525.4L94 506.9L94 488.4L94 469.9L94 451.5L94 433L94 414.5L94 396L94.8 372.3L97.5 348.7L101.9 325.4L108.1 302.5L116 280L125.7 258.3L136.9 237.2L149.8 217.2L164.3 198.1L180.2 180.2L197.5 163.6L216.1 148.4L235.8 134.7L256.7 122.6L278.4 112.2L301 103.5L324.2 96.8L347.8 91.9L371.8 89L396 88.1L428.5 88.2L461 88.3L493.5 88.6M106.6 276.1L116.6 253.7L128.4 232L141.9 211.4L156.9 191.8L173.5 173.5L191.4 156.5L210.7 140.9L231.1 126.9L252.6 114.6L275.1 104L298.3 95.3L322.2 88.4L346.5 83.5L371.2 80.5L396 79.5L428.5 79.3M60.5 525.4L60.5 506.9L60.5 488.4L60.5 469.9L60.5 451.5L60.5 433L60.5 414.5L60.5 396L61.5 369.7L64.6 343.5L69.6 317.6L76.6 292.2L85.6 267.4L96.5 243.4L109.3 220.3L123.8 198.2L140 177.4L157.8 157.8L177.1 139.7L197.8 123.1L219.7 108.3L242.7 95.2L266.7 84L291.6 74.7L317.1 67.4L343.1 62.1L369.5 59L396 57.9L428.5 58.2L461 58.8L493.5 59.6L526 60.4M100.6 525.4L100.6 506.9L100.6 488.4L100.6 469.9L100.6 451.5L100.6 433L100.6 414.5M219.4 153L238.8 139.4L259.2 127.5L280.5 117.2L302.6 108.7L325.4 102L348.7 97.2L372.3 94.3L396 93.4L428.5 93L461 92.1M15.1 525.4L15.1 506.9L15.1 488.4L15.1 469.9L15.1 451.5L15.1 433L15.1 414.5L15.1 396M493.5 24.2L526 25.6L558.5 26.8L591 27.4M26.5 525.4L26.5 506.9L26.5 488.4L26.5 469.9L26.5 451.5L26.5 433L26.5 414.5M428.5 30.9L461 32.9L493.5 35.5L526 38.1L558.5 40.4M41.3 525.4L41.3 506.9L41.3 488.4L41.3 469.9L41.3 451.5L41.3 433L41.3 414.5L41.3 396L42.4 368.2L45.6 340.5L50.8 313.1L58.2 286.2L67.6 260M461 38.7L493.5 40.4L526 42.2L558.5 43.6L591 44.4M78 525.4L78 506.9L78 488.4L78 469.9L78 451.5L78 433L78 414.5L78 396L78.9 371L81.8 346.2L86.6 321.7L93.2 297.6L101.7 274.1L112 251.3L124.1 229.4L137.8 208.4L153.2 188.6L170 170L188.3 152.8L207.9 137.1L228.7 123L250.5 110.5L273.3 99.9L296.9 91L321.1 84.1L345.8 79.1L370.8 76.1L396 75.1L428.5 75.3L461 75.6L493.5 76.1M177.8 525.4L177.8 506.9L177.8 488.4L177.8 469.9L177.8 451.5M31.9 525.4L31.9 506.9L31.9 488.4L31.9 469.9L31.9 451.5L31.9 433L31.9 414.5L31.9 396L33 367.4M493.5 40.1L526 42.1L558.5 43.9L591 44.8M153.5 525.4L153.5 506.9L153.5 488.4L153.5 469.9L153.5 451.5L153.5 433L153.5 414.5M118.6 525.4L118.6 506.9L118.6 488.4L118.6 469.9L118.6 451.5L118.6 433L118.6 414.5M175.3 525.4L175.3 506.9L175.3 488.4L175.3 469.9L175.3 451.5L175.3 433L175.3 414.5L175.3 396M50.2 525.4L50.2 506.9L50.2 488.4L50.2 469.9L50.2 451.5L50.2 433L50.2 414.5L50.2 396L51.2 368.9L54.3 341.9L59.4 315.2L66.5 288.9M461 47.3L493.5 49.9L526 52.6L558.5 54.8M53.7 525.4L53.7 506.9L53.7 488.4L53.7 469.9L53.7 451.5L53.7 433L53.7 414.5L53.7 396L54.7 369.1L57.7 342.4L62.7 316L69.7 290L78.7 264.6M493.5 48.7L526 49.4L558.5 49.9L591 50.2M145.8 451.5L145.8 433L145.8 414.5M493.5 117.5L526 111.5L558.5 106.5L591 103.8M189.7 525.4L189.7 506.9L189.7 488.4L189.7 469.9L189.7 451.5L189.7 433L189.7 414.5L189.7 396M115.5 525.4L115.5 506.9L115.5 488.4L115.5 469.9L115.5 451.5L115.5 433L115.5 414.5L115.5 396M461 102.5L493.5 99L526 95.3L558.5 92.2M138.1 525.4L138.1 506.9L138.1 488.4L138.1 469.9L138.1 451.5"/>
<path stroke="#b8be50" d="M75 525.4L75 506.9L75 488.4L75 469.9L75 451.5L75 433L75 414.5L75 396L75.9 370.8L78.7 345.7L83.4 320.9L89.9 296.5L98.2 272.7L108.4 249.5L120.3 227.1L134 205.6M370.2 68.6L396 67.6L428.5 68.2L461 69.7L493.5 71.8L526 73.9M493.5 69.5L526 71.2L558.5 72.7L591 73.5M64.8 525.4L64.8 506.9L64.8 488.4L64.8 469.9L64.8 451.5L64.8 433L64.8 414.5M493.5 57.4L526 57.7L558.5 58L591 58.1M149.9 451.5L149.9 433L149.9 414.5M461 127.4L493.5 120.9L526 114.3L558.5 108.8L591 105.7M122.4 525.4L122.4 506.9L122.4 488.4L122.4 469.9L122.4 451.5L122.4 433L122.4 414.5M181 433L181 414.5M461 151.4L493.5 142.4L526 133.1M133.3 414.5L133.3 396L134 375.4L136.1 354.8L139.7 334.5M428.5 118.7L461 116.7L493.5 114L526 111.3L558.5 109L591 107.8M526 54.7L558.5 55.3L591 55.7M97.5 372.5L100 349.1L104.2 325.9L110 303.1L117.6 280.7L126.8 258.8L137.7 237.7L150.2 217.4L164.2 198.1L179.8 179.8L196.8 162.8M526 78.4L558.5 76.6L591 75.7M86.4 525.4L86.4 506.9L86.4 488.4L86.4 469.9L86.4 451.5L86.4 433L86.4 414.5L86.4 396L87.2 371.7L89.9 347.5L94.4 323.6L100.6 300L108.6 277L118.4 254.5L129.8 232.9L143 212.2L157.7 192.5L173.9 173.9L191.6 156.7L210.7 140.9L230.9 126.7L252.3 114.1L274.7 103.2L298 94.2L321.9 87.2L346.3 82.1L371.1 79.1L396 78.1L428.5 78L461 77.7L493.5 77.3L526 76.9L558.5 76.5M167.3 451.5L167.3 433L167.3 414.5M428.5 151.1L461 145.1L493.5 137.1L526 128.8M90.5 451.5L90.5 433L90.5 414.5L90.5 396L91.4 372L94 348.2L98.4 324.5L104.4 301.3L112.3 278.5L121.8 256.3L133 234.8L145.9 214.3L160.3 194.7L176.3 176.3L193.7 159.2M428.5 80.4L461 79.3L493.5 77.9L526 76.4L558.5 75.1L591 74.4M558.5 51.8L591 53.4M169.9 433L169.9 414.5M461 143.8L493.5 138.7L526 133.4L558.5 129L591 126.6M120.9 306.6L128.4 285.2L137.5 264.3L148.2 244.2L160.4 224.9L174.2 206.5L189.3 189.3L205.8 173.3L223.5 158.6L242.4 145.3L262.3 133.6L283.2 123.6L304.8 115.2L327 108.7M558.5 93.3L591 92.5M160 396L160.6 377.5L162.4 359L165.4 340.6L169.7 322.5M461 137.5L493.5 132.9L526 128.1L558.5 124.2L591 122.1M8.9 525.4L8.9 506.9L8.9 488.4L8.9 469.9M558.5 21.3L591 22.4M129.2 525.4L129.2 506.9L129.2 488.4L129.2 469.9L129.2 451.5L129.2 433L129.2 414.5L129.2 396L129.9 375.1L132.2 354.2M141.7 451.5L141.7 433L141.7 414.5M275.3 159L293.9 149.5L313.4 141.7L333.4 135.5L354 131L374.9 128.4L396 127.6L428.5 126.5L461 123.6L493.5 119.8L526 115.9L558.5 112.7L591 110.9M184.5 525.4L184.5 506.9L184.5 488.4L184.5 469.9L184.5 451.5L184.5 433M558.5 136.6L591 133.1M493.5 88.6L526 88.8L558.5 89.1L591 89.2M83.4 525.4L83.4 506.9L83.4 488.4L83.4 469.9L83.4 451.5L83.4 433L83.4 414.5L83.4 396L84.3 371.5L87.1 347.1L91.8 323L98.3 299.3L106.6 276.1M428.5 79.3L461 78.9L493.5 78.2L526 77.6L558.5 77L591 76.7M526 60.4L558.5 61L591 61.4M155.1 525.4L155.1 506.9L155.1 488.4L155.1 469.9L155.1 451.5L155.1 433M558.5 124.2L591 122.2M100.6 414.5L100.6 396L101.4 372.8L104 349.8L108.3 326.9L114.3 304.5L121.9 282.5L131.3 261.1L142.2 240.5L154.8 220.7L168.9 202L184.4 184.4L201.3 168L219.4 153M461 92.1L493.5 90.9L526 89.6L558.5 88.5L591 88M558.5 40.4L591 41.6M493.5 76.1L526 76.5L558.5 76.9L591 77.1M177.8 451.5L177.8 433M493.5 143.4L526 134.4L558.5 126.9L591 122.9M162.6 525.4L162.6 506.9L162.6 488.4L162.6 469.9L162.6 451.5L162.6 433M558.5 125.7L591 123.2M153.5 414.5L153.5 396L154.1 377M461 129.8L493.5 123.4L526 116.8L558.5 111.3L591 108.4M118.6 414.5L118.6 396L119.3 374.2L121.6 352.5L125.5 331.1L130.9 309.9L137.8 289.1L146.3 268.8L156.3 249.1L167.9 230.3L180.9 212.3L195.3 195.3L211.1 179.5L228.1 164.9L246.3 151.7L265.6 140L285.8 129.9L306.8 121.6L328.5 115L350.7 110.3L373.3 107.5L396 106.6L428.5 106L461 104.3L493.5 102.1L526 99.8L558.5 97.9L591 96.9M175.3 396L175.9 378.7L177.6 361.4L180.5 344.3M493.5 145.2L526 137L558.5 130.2L591 126.5M558.5 54.8L591 56M145.8 414.5L145.8 396L146.5 376.4M258.7 172L276.2 161L294.7 151.4L313.9 143.5L333.9 137.2L354.3 132.8L375.1 130.2L396 129.3L428.5 127.6L461 123.2L493.5 117.5M126.5 525.4L126.5 506.9L126.5 488.4L126.5 469.9L126.5 451.5L126.5 433L126.5 414.5M461 112.3L493.5 109.4L526 106.4L558.5 103.9L591 102.6M189.7 396L190.1 379.8L191.6 363.6M526 141.9L558.5 134.5L591 130.5M115.5 396L116.3 374L118.7 352.1L122.7 330.4L128.2 309L135.4 288.1L144.2 267.7L154.4 248L166.2 229.1L179.5 211.1L194.2 194.2L210.2 178.4L227.4 163.9L245.8 150.9L265.2 139.3L285.5 129.3L306.7 121.1L328.4 114.6L350.7 110L373.3 107.2L396 106.3L428.5 105.2L461 102.5M558.5 92.2L591 90.5M138.1 451.5L138.1 433L138.1 414.5L138.1 396M493.5 116.8L526 112.8L558.5 109.5L591 107.7M112.6 525.4L112.6 506.9L112.6 488.4L112.6 469.9L112.6 451.5L112.6 433L112.6 414.5L112.6 396M306.3 120L328.2 113.5L350.5 108.9L373.2 106.2L396 105.3L428.5 104.1L461 101.3L493.5 97.5L526 93.6"/>
<path stroke="#c8a252" d="M526 73.9L558.5 75.7L591 76.6M149.9 414.5L149.9 396M245 188.1L261.2 176L278.4 165.2L296.5 155.8L315.4 148L335 141.9L355.1 137.6L375.5 135L396 134.2L428.5 132.3L461 127.4M122.4 414.5L122.4 396L123.1 374.5L125.3 353.1L129 331.9L134.2 310.9L140.9 290.3L149.1 270.2L158.8 250.6L170 231.8L182.7 213.8L196.8 196.8L212.3 180.9L229.1 166.3L247.1 153L266.2 141.2L286.2 131L307.1 122.5L328.7 115.8L350.9 111.1L373.4 108.3L396 107.4L428.5 106.4L461 104L493.5 100.8L526 97.5L558.5 94.8L591 93.3M181 414.5L181 396M290.8 189.6L306.9 180.9L323.8 173.7L341.3 168L359.2 163.9L377.5 161.6L396 160.8L428.5 158.2L461 151.4M139.7 334.5L144.7 314.3L151.1 294.6L159 275.3L168.4 256.5L179.2 238.5L191.4 221.3L205 205L219.9 189.8L236 175.7L253.2 163L271.5 151.8L290.8 142L310.8 133.9L331.6 127.5L352.8 123L374.3 120.3L396 119.5L428.5 118.7M558.5 76.5L591 76.3M167.3 414.5L167.3 396M242 215.6L256 203.3L271 192L287 182.1L303.8 173.4L321.4 166.3L339.5 160.6L358.1 156.6L377 154.2L396 153.5L428.5 151.1M169.9 414.5L169.9 396M269.6 189.8L285.6 179.3L302.5 170.2L320.2 162.7L338.6 156.7L357.4 152.5L376.6 150L396 149.2L428.5 147.7L461 143.8M169.7 322.5L175.2 304.5L182.1 287L190.2 269.9L199.7 253.3L210.4 237.5M265.7 183.3L282.2 172.7L299.7 163.6L318 155.9L336.9 149.9L356.3 145.6L376.1 143.1L396 142.4L428.5 141L461 137.5M132.2 354.2L135.9 333.6L141.2 313.2L148 293.3L156.3 273.9L166.1 255.1L177.3 237.1L189.9 219.9L203.8 203.8M252.9 162.5L271.4 151.4L290.8 141.9L310.9 134L331.6 127.8L352.8 123.4L374.3 120.7L396 119.9L428.5 119L461 116.6L493.5 113.4L526 110.1L558.5 107.4L591 105.9M141.7 414.5L141.7 396L142.3 376L144.4 356.1L147.8 336.4L152.6 316.9L158.8 297.8L166.4 279L175.5 260.9L185.9 243.4L197.7 226.6L210.8 210.8L225.2 196L240.8 182.4L257.5 170L275.3 159M184.5 433L184.5 414.5M461 158.5L493.5 150.9L526 143.1L558.5 136.6M155.1 433L155.1 414.5L155.1 396M428.5 139.5L461 136.3L493.5 132.1L526 127.8L558.5 124.2M177.8 433L177.8 414.5M428.5 158.7L461 152.1L493.5 143.4M162.6 433L162.6 414.5L162.6 396M428.5 144.8L461 140.8L493.5 135.6L526 130.2L558.5 125.7M154.1 377L155.9 358L159.1 339.1L163.5 320.5L169.3 302.1M262.5 178.2L279.5 167.4L297.4 158L316.2 150.3L335.5 144.2L355.4 139.8L375.6 137.3L396 136.5L428.5 134.6L461 129.8M180.5 344.3L184.6 327.3L189.9 310.6L196.5 294.3L204.2 278.5M377.6 162.3L396 161.6L428.5 159.2L461 153.2L493.5 145.2M146.5 376.4L148.4 356.8L151.7 337.3L156.3 318.1L162.3 299.2L169.6 280.7L178.4 262.6L188.5 245.3L200 228.6L212.8 212.8L226.9 198.1L242.3 184.4L258.7 172M126.5 414.5L126.5 396L127.2 374.8L129.5 353.8L133.2 332.9L138.5 312.3L145.2 292.1L153.5 272.5L163.3 253.4L174.5 235.1L187.2 217.6L201.2 201.2L216.5 185.8L233.1 171.7L250.7 159L269.5 147.6L289.1 137.9L309.5 129.8L330.6 123.4L352.1 118.9L374 116.2L396 115.3L428.5 114.5L461 112.3M191.6 363.6L194 347.5L197.5 331.5L202 315.6M428.5 165.7L461 159.3L493.5 150.7L526 141.9M138.1 396L138.8 375.8L140.9 355.6L144.4 335.6L149.3 315.8L155.7 296.4M223.2 193.7L239 179.9L255.9 167.5L273.9 156.4L292.8 146.8L312.5 138.9L332.8 132.7L353.6 128.2L374.7 125.6L396 124.8L428.5 123.6L461 120.7L493.5 116.8M112.6 396L113.4 373.8L115.9 351.6L119.9 329.7L125.7 308.2L133 287.1L141.9 266.6L152.4 246.7L164.5 227.8L177.9 209.8L192.8 192.8L209 177.1L226.4 162.6L245 149.6L264.6 138.1L285.1 128.2L306.3 120M526 93.6L558.5 90.4L591 88.6"/>
<path stroke="#c87a58" d="M149.9 396L150.5 376.7L152.4 357.4L155.6 338.3L160.2 319.4L166.1 300.8L173.4 282.6L182 264.9L192 247.8L203.4 231.5L216 216L229.9 201.5L245 188.1M181 396L181.5 379.1L183 362.3L185.6 345.5M215.8 265.1L225.5 250.3L236.3 236.3L248.3 223.1L261.4 210.8L275.6 199.6L290.8 189.6M167.3 396L167.9 378L169.7 360.2L172.7 342.4L177 324.8L182.5 307.6L189.3 290.7L197.4 274.3L206.7 258.5L217.3 243.4L229 229L242 215.6M169.9 396L170.4 378.2L172 360.5L174.8 342.9L178.7 325.4L183.8 308.1L190.2 291.1L197.8 274.6L206.7 258.5L216.9 243L228.3 228.3L240.9 214.4L254.7 201.5L269.6 189.8M210.4 237.5L222.4 222.4L235.7 208.3L250.1 195.2L265.7 183.3M203.8 203.8L219 188.8L235.4 174.9L252.9 162.5M184.5 414.5L184.5 396M342.5 173.3L360.1 169.4L378 167.1L396 166.4L428.5 164.2L461 158.5M155.1 396L155.7 377.1L157.6 358.2L160.8 339.5M207.8 235.3L220.2 220.2L233.8 206.1L248.6 193.1L264.4 181.3L281.3 170.8L299 161.7L317.4 154.2L336.5 148.3L356.1 144L376 141.6L396 140.8L428.5 139.5M177.8 414.5L177.8 396L178.3 378.9M235.4 235.4L247.7 222.3L261 210.2L275.4 199.2L290.7 189.4L306.9 180.9L323.8 173.9L341.3 168.3L359.3 164.3L377.6 162L396 161.3L428.5 158.7M162.6 396L163.2 377.7L165 359.4M237.9 210.9L252.2 198.1L267.6 186.4L283.9 176.1L301.2 167.1L319.2 159.6L337.8 153.8L357 149.6L376.4 147.1L396 146.3L428.5 144.8M169.3 302.1L176.3 284.1L184.8 266.6L194.5 249.6L205.6 233.4L218 218L231.7 203.6L246.5 190.3L262.5 178.2M204.2 278.5L213.2 263.2L223.4 248.6L234.7 234.7L247.2 221.8L260.7 209.8L275.2 198.9L290.7 189.3L306.9 180.9L323.9 174L341.4 168.5L359.3 164.6L377.6 162.3M202 315.6L207.7 300L214.5 284.8L222.5 269.9L231.6 255.6M309.8 187.9L326.1 180.8L343 175.3L360.4 171.3L378.1 169L396 168.3L428.5 165.7M155.7 296.4L163.4 277.5L172.6 259.1L183.3 241.4L195.3 224.5L208.6 208.6L223.2 193.7"/>
<path stroke="#c04e58" d="M185.6 345.5L189.3 328.8L194.2 312.4L200.2 296.2L207.4 280.4L215.8 265.1M184.5 396L185 379.4L186.6 362.8L189.2 346.4L192.9 330L197.8 313.9L203.8 298.1L211 282.6L219.3 267.6L228.9 253.3L239.6 239.6L251.4 226.7L264.4 214.8L278.3 203.9L293.2 194.2L309 185.8L325.4 178.8L342.5 173.3M160.8 339.5L165.3 321.1L171.2 302.9L178.3 285.1L186.9 267.8L196.7 251.2L207.8 235.3M178.3 378.9L180 361.8L182.7 344.8L186.7 328L191.8 311.4L198.1 295.2L205.6 279.3L214.4 264L224.3 249.4L235.4 235.4M165 359.4L168 341.3L172.3 323.3L177.8 305.6L184.6 288.3L192.7 271.4L202.2 255.2L212.8 239.6L224.8 224.8L237.9 210.9M231.6 255.6L242 242L253.5 229.1L266 217.1L279.7 206.2L294.3 196.4L309.8 187.9"/>
</g></g>
<g id="sbar"><rect x="0" y="0" width="618.6" height="20.6" fill="#1a1a1a"/><rect x="154.6" y="4" width="154.7" height="12.6" fill="#fff"/><rect x="464" y="4" width="150.6" height="12.6" fill="#fff"/></g>
</defs>
<rect width="3073" height="3273" fill="#fff"/>
<g transform="translate(0 0) scale(1.0)" clip-path="url(#pc)">
<rect x="400" y="0" width="900" height="1400" fill="#40498c"/>
<g filter="url(#b25)"><use href="#o1"/><use href="#i1"/></g>
<g filter="url(#b7)">
<polygon points="556.6,431.5 568.8,429.6 579,425.6 588.6,421.1 597.9,415.9 606.8,410.2 615.5,403.9 623.8,396.9 631.7,389.4 639.1,381.5 646.4,373.2 653,363.7 653,363.7 641.4,365.5 630.8,369 620.5,373.2 610.7,377.9 601.3,383 592.2,388.7 583.5,395.1 575.2,402.3 567.5,410.5 560.8,419.8 556.6,431.5" fill="#4a86c8" fill-opacity="0.6"/>
<polygon points="644.5,368.9 655.6,366.3 665.8,362.4 675.4,357.5 684.5,351.5 693,344.4 700.3,335.6 700.3,335.6 689.3,338.3 679.1,342.2 669.4,347.1 660.3,353.1 651.9,360.2 644.5,368.9" fill="#4a86c8" fill-opacity="0.35"/>
<polygon points="516.3,527.7 524.2,520.9 531.2,513.7 537.9,506.4 544.1,498.7 550,490.8 555.6,482.5 560.8,473.9 565.2,464.4 565.2,464.4 556.4,470 548.5,476.5 541.3,483.6 534.7,491.3 528.8,499.6 523.7,508.4 519.4,517.7 516.3,527.7" fill="#4a86c8" fill-opacity="0.55"/>
<polygon points="488.8,587.5 495.4,579.3 500.2,570.5 503.9,561.4 506.6,551.9 508.2,541.5 508.2,541.5 500.6,548.9 495,557.6 491.2,567 489,577 488.8,587.5" fill="#4a86c8" fill-opacity="0.3"/>
</g>
<g filter="url(#b3)">
<polygon points="572.1,418.9 583.6,417.1 593.3,413.1 601.9,407.2 609.1,399.4 614.7,389.1 614.7,389.1 603.1,390.6 593.2,394.5 584.6,400.4 577.3,408.4 572.1,418.9" fill="#48b8ea"/>
</g>
<use href="#edgeN"/>
<ellipse cx="578" cy="499.5" rx="47" ry="8.5" transform="rotate(-54.6 578 499.5)" fill="#fff" filter="url(#b4)"/>
</g>
<g transform="translate(851.8 -4.06) scale(1.01)" clip-path="url(#pc)">
<rect x="400" y="0" width="900" height="1400" fill="#40498c"/>
<g filter="url(#b25)"><use href="#o2"/><use href="#i1"/></g>
<g filter="url(#b7)">
<polygon points="540,446 556.2,449.2 567.5,447.1 577.5,444 586.7,440.4 595.4,436.4 603.9,432 612.3,426.9 620.7,421.3 628.9,415.2 636.8,408.6 644.2,401.7 651.2,394.8 658,387.7 664.9,380.5 671.8,373 678.9,365.1 685.8,356.8 692.4,347.9 697.8,337.2 697.8,337.2 685.9,337.1 675.1,338.5 664.6,340.3 654.1,342.5 643.7,345.3 633.3,348.7 623.2,352.6 613.5,357 604.3,361.7 595.5,366.6 587,371.8 578.6,377.5 570.4,384 562.5,391.2 555,399.4 548.4,408.4 542.9,418.3 538.9,429.4 540,446" fill="#48b8ea" fill-opacity="0.95"/>
<polygon points="674.6,351.1 686.7,351.9 697.5,350.1 707.4,346.7 716.3,341.9 724.3,335.8 731.4,328.3 737.5,319.5 742.2,308.3 742.2,308.3 730.6,308.9 720.4,311.5 710.9,315.3 702.2,320.1 694.3,326.1 687,333 680.3,341 674.6,351.1" fill="#4a86c8" fill-opacity="0.45"/>
<polygon points="488.1,589.4 498.3,582.5 507.2,575.3 515.6,568.4 523.6,562.2 531.3,556.1 538.6,550.1 545.5,543.9 552,537.3 557.8,530.3 563.1,522.9 567.8,514.9 571.8,506.2 575.3,496.7 578.1,486.4 580.3,475.3 581.5,463 579.9,448.1 579.9,448.1 569,451.7 559.6,456.8 550.7,462.4 542.3,468.7 534.4,475.4 527.1,482.7 520.2,490.6 514,499 508.4,507.8 503.3,517.1 499,526.8 495.3,536.9 492.3,547.2 490.2,557.8 488.9,568.3 488.1,578.8 488.1,589.4" fill="#48b8ea" fill-opacity="0.95"/>
<polygon points="472.2,631.5 481.1,624.2 487.9,616.2 493.4,607.6 497.7,598.3 500.5,588.5 501.9,578.5 502.2,568.1 500.7,556.8 500.7,556.8 491.4,563.8 484.6,572.1 479.2,580.9 475.2,590 472.4,599.4 470.6,609.4 470.2,620.1 472.2,631.5" fill="#4a86c8" fill-opacity="0.4"/>
<polygon points="523.4,512.5 532.5,506.3 540.2,499.4 547.3,492 553.8,484.1 559.6,475.9 564.7,467.6 569.3,459.1 573.6,450.4 577.8,441.5 581.8,432.2 585.2,421.8 585.2,421.8 574.9,426 566,432 558,438.9 550.8,446.6 544.5,454.9 539.2,463.6 534.7,472.5 530.7,481.8 527.3,491.4 524.5,501.5 523.4,512.5" fill="#48b8ea" fill-opacity="0.6"/>
<polygon points="568.9,421.4 581.8,420.9 592,417 601.5,412.2 610.5,406.5 619.2,400.1 627.5,393.2 635.3,385.8 642.9,378.1 650.3,370.1 657.3,361.1 657.3,361.1 645.6,362.6 634.8,365.8 624.4,369.8 614.4,374.3 605,379.4 596,385 587.3,391.4 579.4,399 572.4,408 568.9,421.4" fill="#64c29a"/>
</g>
<g filter="url(#b3)">
<polygon points="573.7,417.7 584.9,415.9 594.2,411.8 603,406.8 611.3,401 619.2,394.5 626.7,387.5 633.8,380 640.3,371.7 640.3,371.7 630,374.5 620.5,378.5 611.3,383 602.5,388 594,393.6 586.1,400 578.8,407.5 573.7,417.7" fill="#78c67e" fill-opacity="0.85"/>
<polygon points="515.3,529.4 524.7,523.6 532.4,517 539.2,509.8 545.2,502 550.2,493.5 554.4,484.1 557.2,473.4 557.2,473.4 548.7,479.3 541.2,486.2 534.3,493.6 528.2,501.7 522.9,510.3 518.4,519.5 515.3,529.4" fill="#64c29a" fill-opacity="0.9"/>
</g>
<use href="#edgeN"/>
<ellipse cx="565.6" cy="516" rx="47" ry="8" transform="rotate(-57 565.6 516)" fill="#fff" filter="url(#b4)"/>
</g>
<g transform="translate(1721 -4.06) scale(1.01)" clip-path="url(#pc)">
<rect x="400" y="0" width="900" height="1400" fill="#40498c"/>
<g filter="url(#b25)"><use href="#o3"/><use href="#i2"/></g>
<g filter="url(#b10)">
<polygon points="437.7,600.8 452.2,594.6 465.1,588.4 477.7,582.6 489.9,577.1 502,572 513.9,567.2 525.7,562.8 531,555.7 534.8,547.8 538.7,540.1 542.7,532.5 546.9,525.2 551.2,517.9 555.8,510.6 560.5,503.4 565.3,496.4 570.1,489.7 575,483.4 580,477.2 585.3,471 590.9,464.9 596.8,458.8 602.9,452.7 608.5,447.3 613.6,442.9 619.6,438 626.8,432.5 634.2,426.9 641.8,421.4 649,416.3 656,411.5 663.2,406.9 670.8,402.2 678.7,397.4 687.3,392.3 697.3,386.3 707.7,379.7 713.8,369.6 717.4,357.8 721,345.8 724.7,333.5 728.4,320.8 731.8,307.5 734.9,293.3 736.1,275.9 736.1,275.9 726.4,279.6 717,283.7 707.7,287.9 698.5,292.3 689.3,296.8 680.2,301.5 671.1,306.3 662.4,311.3 654.1,316.6 645.6,321.7 636.9,326.9 628.1,332.1 619.4,337.6 610.7,343.2 602.1,349 593.7,355 585.5,361 577.3,367.1 569.1,373.4 561,379.9 553,386.9 545.5,394.1 538.2,401.4 531,408.9 524,416.6 517.2,424.5 510.6,432.5 504.3,440.8 498.2,449.2 492.4,457.8 486.7,466.4 481.2,475.2 475.9,484.1 470.9,493.1 466,502.2 461.3,511.4 456.8,520.7 452.7,530.2 449.8,540.2 447.1,550.2 444.6,560.2 442.4,570.3 440.5,580.5 438.9,590.6 437.7,600.8" fill="#4a96d6" fill-opacity="0.6"/>
<polygon points="434,615.4 445.7,608.1 456.3,600.9 466.6,594.1 476.8,587.5 486.8,581.2 496.8,575.3 506.8,569.7 512.5,562.5 516.1,554.4 519.9,546.4 523.8,538.4 527.9,530.6 532.1,522.9 536.4,515.4 540.9,507.9 545.6,500.5 550.5,493.2 555.5,486.1 560.4,479.3 565.5,472.8 570.9,466.3 576.4,460 582.3,453.7 588.4,447.4 594.6,441.2 600.3,435.8 605.9,431 612.4,425.9 619.8,420.2 627.3,414.6 634.9,409.1 642.2,404 649.4,399.1 656.8,394.4 664.5,389.6 672.6,384.8 681.2,379.7 691,373.8 698,363.3 703.2,352.4 707.6,341.8 712.1,331 716.5,319.9 720.9,308.3 724.9,296 727.5,281.2 727.5,281.2 718,284.8 708.8,288.9 699.6,293.2 690.5,297.6 681.4,302.2 672.4,306.9 663.6,311.5 654.9,316.1 646.6,321.2 638,326.2 629.3,331.4 620.6,336.8 612,342.3 603.5,348 595.2,353.9 587,359.9 578.9,365.9 570.8,372.1 562.8,378.5 554.8,385.3 547.3,392.4 540,399.6 532.9,406.9 525.9,414.5 519.1,422.2 512.6,430.1 506.2,438.3 500.1,446.5 494.3,454.9 488.6,463.5 483.1,472.1 477.8,480.8 472.7,489.7 467.8,498.7 463.1,507.8 458.6,516.9 454.3,526.2 450.1,535.5 446.6,545.1 444,555 441.6,565 439.5,575 437.7,585.1 436.1,595.1 434.8,605.2 434,615.4" fill="#48b8ea" fill-opacity="0.65"/>
</g>
<g filter="url(#b7)">
<polygon points="555,432.8 571,436 581.5,433.3 591,429.6 599.9,425.1 608.6,419.8 617.1,414 625.4,407.6 633.3,400.7 640.8,393.6 648.1,386.4 655.2,379.1 662.4,371.6 669.7,363.8 676.9,355.7 683.2,346 683.2,346 671.5,346.4 660.6,348.3 650,350.7 639.4,353.8 629,357.5 619,361.6 609.4,366.2 600.2,371 591.4,376.1 582.8,381.9 574.5,388.5 566.6,396.1 559.6,404.9 554.2,415.5 555,432.8" fill="#64c29a" fill-opacity="0.95"/>
<polygon points="491.5,580 498.1,571.8 504.3,563.7 510.4,555.9 516.6,548.3 522.8,540.8 529,533.4 535,525.8 540.8,518.2 546.4,510.3 551.7,502.2 556.8,493.8 561.7,485.1 566.2,476 570.3,466.4 573.2,455.5 573.2,455.5 562.7,459.5 553.5,464.9 545,470.9 537,477.5 529.5,484.7 522.7,492.4 516.4,500.7 510.8,509.5 505.9,518.7 501.5,528.3 497.9,538.3 495.1,548.6 493.1,559 491.9,569.4 491.5,580" fill="#64c29a" fill-opacity="0.9"/>
<polygon points="513.9,530.1 523,523.2 530.6,515.8 537.9,508.2 544.8,500.4 551.4,492.2 557.3,483.5 562.7,474.7 567.5,465.8 572,456.9 576.3,447.8 580.6,438.5 585,428.9 588.8,418.3 588.8,418.3 578.5,422.9 569.4,429.1 561.1,436.2 553.5,444.1 546.7,452.5 540.6,461.3 535.2,470.2 530.3,479.2 525.7,488.6 521.6,498.3 518,508.5 515.1,518.9 513.9,530.1" fill="#64c29a" fill-opacity="0.8"/>
</g>
<g filter="url(#b3)">
<polygon points="568.9,421.4 582.1,422.1 591.6,418.2 600.4,413.3 608.8,407.6 616.9,401.2 624.7,394.4 632.1,387.2 639.3,379.8 646.4,372.2 653,363.7 653,363.7 642.2,365.7 632.1,369 622.3,373 612.8,377.3 603.7,381.9 594.9,387 586.4,392.8 578.5,399.5 571.6,407.8 568.9,421.4" fill="#74c044"/>
<polygon points="506.3,545.1 514.7,537.2 522,528.9 528.7,520.4 534.9,511.5 540.6,502.3 545.8,492.5 550.1,481.8 550.1,481.8 540.4,488.2 532.1,495.7 524.6,504.1 518.2,513.2 512.8,523.1 508.7,533.7 506.3,545.1" fill="#74c044" fill-opacity="0.8"/>
<polygon points="580.1,413 587.3,412 593.3,409.6 598.6,406 603,401.2 606.5,394.8 606.5,394.8 599.3,395.6 593.2,398 587.9,401.6 583.4,406.5 580.1,413" fill="#b4d23c"/>
</g>
<use href="#edgeN"/>
<ellipse cx="537.3" cy="551.8" rx="36" ry="8.5" transform="rotate(-63 537.3 551.8)" fill="#fff" filter="url(#b4)"/>
</g>
<g transform="translate(0 1665) scale(1.0)" clip-path="url(#pc)">
<rect x="400" y="0" width="900" height="1400" fill="#40498c"/>
<g filter="url(#b25)"><use href="#o2"/><use href="#i3"/></g>
<g filter="url(#b10)">
<polygon points="429.4,640 443.5,632.4 456.1,625.2 468.3,618.7 480.4,612.5 492.3,606.7 504.1,601.2 515.8,596.1 527.4,591.4 531.7,584.3 534.8,576.7 538.1,569 541.5,561.4 545.2,553.9 548.9,546.4 552.8,539.2 556.8,532.1 560.9,525.1 565.2,518.2 569.7,511.2 574.3,504.4 578.9,498 583.5,492 588.2,486.1 593.2,480.3 598.4,474.5 604,468.6 609.8,462.7 615.3,457.4 620,453.2 625.2,448.9 631.8,443.8 639.1,438.3 646.5,432.9 653.6,427.7 660.3,423.1 667.1,418.6 674.3,414.1 681.9,409.5 690,404.7 699.4,399.1 710.1,392.4 719.7,386 724.9,376.2 728.2,364.5 731.6,352.5 735.2,340.2 738.7,327.5 742.2,314.4 745.4,300.7 748.2,286 748.8,268 748.8,268 739.4,271.8 730.2,275.9 721,280.2 711.9,284.5 702.9,289 693.8,293.5 684.8,298.2 675.9,303 667.2,308.1 659,313.5 650.8,318.6 642.3,323.7 633.6,328.8 624.9,334.1 616.3,339.5 607.8,345.1 599.3,351 591.1,356.9 583,362.9 574.9,369 566.8,375.2 558.8,381.8 551,388.8 543.6,396 536.4,403.2 529.4,410.7 522.5,418.3 515.8,426.1 509.4,434.2 503.1,442.4 497.2,450.7 491.4,459.2 485.9,467.8 480.5,476.4 475.3,485.3 470.3,494.2 465.5,503.2 460.9,512.3 456.4,521.5 452.2,530.8 448.1,540.2 444.3,549.7 440.8,559.3 438.4,569.3 436.2,579.3 434.3,589.4 432.6,599.4 431.2,609.5 430.2,619.7 429.5,629.8 429.4,640" fill="#4a96d6" fill-opacity="0.7"/>
<polygon points="429.4,640 442,632.1 453.3,624.6 464.4,617.7 475.2,611.1 486.1,604.8 496.8,598.8 507.5,593.2 515.6,587 518.7,579.1 521.9,571.2 525.3,563.4 528.9,555.5 532.6,547.7 536.5,540 540.5,532.5 544.6,525.1 548.9,517.9 553.4,510.7 558,503.5 562.8,496.4 567.6,489.7 572.4,483.4 577.4,477.2 582.6,471.1 588.1,465 593.9,458.9 600,452.7 605.7,447.2 610.9,442.5 616.5,437.9 623.3,432.6 630.7,427 638.2,421.5 645.5,416.3 652.5,411.5 659.5,406.8 666.9,402.2 674.7,397.5 682.9,392.6 691.6,386.2 698.1,373.9 703.4,361.8 707.4,350.1 711.1,338.4 714.8,326.3 718.4,313.6 721.7,300.2 723.3,283.8 723.3,283.8 713.8,287.5 704.6,291.7 695.4,296 686.4,300.5 677.3,305.1 668.4,309.9 659.6,314.5 650.9,318.8 642.3,323.7 633.6,328.8 624.9,334.1 616.3,339.5 607.8,345.1 599.3,351 591.1,356.9 583,362.9 574.9,369 566.8,375.2 558.8,381.8 551,388.8 543.6,396 536.4,403.2 529.4,410.7 522.5,418.3 515.8,426.1 509.4,434.2 503.1,442.4 497.2,450.7 491.4,459.2 485.9,467.8 480.5,476.4 475.3,485.3 470.3,494.2 465.5,503.2 460.9,512.3 456.4,521.5 452.2,530.8 448.1,540.2 444.3,549.7 440.6,559.2 437.9,569.1 435.8,579.2 434,589.3 432.3,599.4 431,609.5 430,619.6 429.4,629.8 429.4,640" fill="#48b8ea" fill-opacity="0.75"/>
</g>
<g filter="url(#b7)">
<polygon points="549,438.1 566.8,442.8 578,440.7 587.9,437.4 597,433.3 605.9,428.5 614.6,423.1 623.1,417 631.5,410.3 639.4,403.3 646.9,396.1 654,388.8 661.1,381.5 668.4,373.9 675.8,366 683.1,357.7 690.2,348.8 696.1,338.3 696.1,338.3 684,338.4 672.9,340.1 662.1,342.1 651.3,344.7 640.5,347.7 629.8,351.5 619.5,355.7 609.7,360.3 600.3,365.1 591.4,370.3 582.6,375.9 574,382.3 565.7,389.7 558.1,398.1 551.5,407.8 546.7,419.2 549,438.1" fill="#74c044" fill-opacity="0.95"/>
<polygon points="482.9,603.5 488.8,595 494.6,586.4 500.3,577.9 506.1,569.7 511.9,561.8 517.9,554.3 524,546.9 530.1,539.6 536.1,532.3 542,524.8 547.7,517.2 553.1,509.3 558.2,501.2 562.9,492.6 567.4,483.5 571.4,473.9 574.8,463.7 576.5,451.8 576.5,451.8 564.4,454.3 554.2,458.7 544.7,464 536,470 527.9,476.8 520.5,484.3 513.8,492.4 507.8,501.1 502.5,510.3 497.9,520 494,530.1 490.8,540.5 488.3,551.2 486.6,561.9 485.4,572.4 484.6,582.9 483.9,593.2 482.9,603.5" fill="#74c044" fill-opacity="0.9"/>
<polygon points="509.4,539 520.5,533.5 529.3,527 537.4,520.5 544.9,513.8 552.1,506.7 558.7,499 564.7,490.7 569.8,482.2 574.2,473.5 578,464.8 581.3,456 584.5,446.8 587.5,437.2 590.5,427 592.4,414.8 592.4,414.8 581.3,417.9 571.5,423 562.5,429.1 554.2,436.1 546.6,443.9 539.9,452 534.1,460.5 528.9,469.1 524.3,477.8 520,486.9 516.2,496.4 513,506.5 510.5,516.9 509,527.6 509.4,539" fill="#74c044" fill-opacity="0.9"/>
</g>
<g filter="url(#b3)">
<polygon points="562.7,426.4 576.6,428 586,424.5 594.6,419.7 602.7,414.1 610.5,407.9 618,401 625.2,393.7 632,386 638.6,378 644.5,368.9 644.5,368.9 633.6,370.6 623.5,373.6 613.7,377.2 604.4,381.1 595.3,385.4 586.5,390.4 578.1,396.1 570.4,403.1 564,411.7 562.7,426.4" fill="#b4d23c"/>
<polygon points="516.3,527.7 524.4,521.1 531.5,513.9 538.1,506.5 544,498.7 549.5,490.4 554.5,481.6 558.6,471.9 558.6,471.9 549.6,477.5 541.8,484.1 534.8,491.4 528.6,499.5 523.4,508.2 519.1,517.5 516.3,527.7" fill="#b4d23c" fill-opacity="0.9"/>
<polygon points="573.7,417.7 585.4,417.6 593.5,412.6 600.7,406.2 607.3,398.9 613.1,390.3 613.1,390.3 602.9,392.5 593.7,395.9 585,400.4 577.4,406.5 573.7,417.7" fill="#f6ea34"/>
<polygon points="583.4,410.6 587.2,410.4 590.3,409.3 592.9,407.5 595,405 596.5,401.5 596.5,401.5 592.8,401.7 589.6,402.8 587,404.6 584.8,407.1 583.4,410.6" fill="#f08a30"/>
</g>
<use href="#edgeN"/>
<ellipse cx="551.7" cy="529.6" rx="38" ry="8.5" transform="rotate(-60 551.7 529.6)" fill="#fff" filter="url(#b4)"/>
</g>
<g transform="translate(867.1 1664.9) scale(1.004)" clip-path="url(#pc)">
<rect x="400" y="0" width="900" height="1400" fill="#40498c"/>
<g filter="url(#b25)"><use href="#o3"/><use href="#i4"/></g>
<g filter="url(#b10)">
<polygon points="429.4,640 444.1,632.4 457.2,625.3 470,618.8 482.5,612.7 494.9,607 507.1,601.6 519.2,596.7 531.3,592.2 535.7,585.1 538.8,577.5 542.1,569.9 545.6,562.3 549.2,554.7 553,547.3 556.9,540.1 560.8,533 565,526.1 569.3,519.1 573.9,512.2 578.5,505.5 583.1,499.1 587.6,493.2 592.3,487.4 597.3,481.6 602.6,475.8 608.3,469.9 614.1,464 619.3,459.1 623.9,455.1 629.5,450.6 636.4,445.3 643.8,439.8 651.2,434.4 658.2,429.4 664.8,424.9 671.7,420.4 679,415.9 686.9,411.2 695.4,406.1 705.7,400 716.4,393.1 725.5,387 730.2,377.2 733.4,365.1 736.8,352.7 740.2,340 743.7,326.9 747.1,313.4 750.2,299.2 752.7,284 753.1,265.4 753.1,265.4 743.6,269.2 734.3,273.4 725,277.7 715.9,282.1 706.7,286.6 697.6,291.1 688.5,295.8 679.4,300.6 670.6,305.8 662.3,311.3 654.1,316.6 645.6,321.8 636.8,326.9 628.1,332.2 619.4,337.6 610.7,343.2 602.1,349 593.7,355 585.5,361 577.3,367.1 569.2,373.4 561,379.9 553.1,386.9 545.5,394.1 538.2,401.4 531.1,408.8 524.1,416.5 517.3,424.3 510.7,432.4 504.4,440.7 498.3,449.1 492.5,457.6 486.8,466.2 481.3,475 476.1,483.9 471,492.9 466.1,502 461.4,511.2 456.9,520.5 452.6,529.8 448.5,539.3 444.6,548.8 441.1,558.5 438.6,568.6 436.4,578.7 434.4,588.9 432.7,599 431.3,609.3 430.2,619.5 429.5,629.7 429.4,640" fill="#4a96d6" fill-opacity="0.8"/>
<polygon points="429.4,640 442.6,632.2 454.5,624.9 466,618.1 477.4,611.7 488.7,605.6 499.8,599.8 510.9,594.4 519.4,588.4 522.4,580.6 525.6,572.8 528.9,565 532.5,557.2 536.2,549.5 540.1,541.8 544,534.4 548.1,527.1 552.3,520 556.7,512.8 561.4,505.7 566.1,498.7 570.8,492.1 575.6,485.8 580.5,479.7 585.6,473.7 591.1,467.7 596.8,461.6 602.8,455.6 608.4,450.1 613.5,445.6 619,441 625.8,435.8 633.1,430.2 640.6,424.8 647.8,419.6 654.7,414.8 661.7,410.2 669,405.6 676.7,400.9 684.9,396.1 693.6,389.5 700.1,376.8 705.1,364.3 708.9,352.3 712.3,340.3 715.8,327.8 719.1,314.7 722.1,300.8 723.3,283.8 723.3,283.8 713.8,287.5 704.6,291.7 695.4,296 686.4,300.5 677.3,305.1 668.4,309.9 659.6,314.5 650.9,318.8 642.3,323.7 633.6,328.8 624.9,334.1 616.3,339.5 607.8,345.1 599.3,351 591.1,356.9 583,362.9 574.9,369 566.8,375.2 558.8,381.8 551,388.8 543.6,396 536.4,403.2 529.4,410.7 522.5,418.3 515.8,426.1 509.4,434.2 503.1,442.4 497.2,450.7 491.4,459.2 485.9,467.8 480.5,476.4 475.3,485.3 470.3,494.2 465.5,503.2 460.9,512.3 456.4,521.5 452.2,530.8 448.1,540.2 444.3,549.7 440.6,559.2 437.9,569.1 435.8,579.2 434,589.3 432.3,599.4 431,609.5 430,619.6 429.4,629.8 429.4,640" fill="#48b8ea" fill-opacity="0.85"/>
</g>
<g filter="url(#b7)">
<polygon points="546,440.7 565.6,447.6 577.2,446 587.1,443.1 596.3,439.5 605.1,435.3 613.9,430.4 622.5,425 631.1,418.9 639.4,412.4 647.2,405.8 654.6,399.1 661.7,392.5 668.9,385.7 676.4,378.7 684.1,371.5 691.8,363.9 699.4,355.9 706.7,347.6 713.6,338.9 720.1,329.8 725.5,319.2 725.5,319.2 713.7,320.1 702.9,322.5 692.5,325.1 682.3,327.7 672.2,330.4 662,333.2 651.8,336.3 641.5,339.9 631.1,344 621,348.6 611.3,353.5 602.1,358.7 593.4,364 584.9,369.5 576.5,375.7 568.2,382.5 560.2,390.3 552.8,399.1 546.6,409.1 542.3,420.6 546,440.7" fill="#74c044" fill-opacity="0.95"/>
<polygon points="477.4,617.5 483.8,608.8 490.1,600 496.3,591 502.4,582.1 508.3,573.5 514.3,565.3 520.2,557.6 526.3,550 532.4,542.4 538.5,534.7 544.4,526.9 550,518.9 555.4,510.6 560.5,501.9 565.3,492.8 569.7,483.3 573.7,473.1 577.1,462.3 578.6,449.6 578.6,449.6 565.6,451.9 554.8,456.3 544.7,461.6 535.4,467.7 526.7,474.6 518.8,482.3 511.5,490.6 505,499.6 499.3,509.1 494.2,519.2 489.9,529.9 486.4,540.9 483.8,552.2 482.1,563.4 480.9,574.4 480.2,585.2 479.4,595.9 478.5,606.7 477.4,617.5" fill="#74c044" fill-opacity="0.95"/>
<polygon points="507.2,543.5 519.5,538.1 529.2,531.7 537.9,525.2 545.9,518.5 553.4,511.4 560.3,503.6 566.7,495.1 572.1,486.2 576.5,477.2 580.1,468.1 583.2,458.9 586,449.2 588.6,439 591.1,428.1 592.4,414.8 592.4,414.8 580.2,417.3 569.5,422.1 559.7,428.3 550.8,435.4 542.7,443.3 535.6,451.8 529.4,460.4 524.1,469.2 519.4,478.3 515.2,487.8 511.5,498 508.6,508.8 506.6,519.8 505.8,531.2 507.2,543.5" fill="#74c044" fill-opacity="0.95"/>
</g>
<g filter="url(#b3)">
<polygon points="558.1,430.2 576.6,436.6 587.3,434.2 596.6,430 605.2,424.7 613.4,418.4 621.4,411.3 629,403.6 636.1,395.4 642.8,387 649.3,378.3 655.8,369.3 661.6,358.6 661.6,358.6 649.4,358.6 638,360.6 627,363.5 616.4,366.9 606.2,370.7 596.5,374.9 587.1,379.6 578,385.1 569.4,391.8 561.7,400.1 555.7,410.5 558.1,430.2" fill="#b4d23c"/>
<polygon points="509.7,538.9 518.6,531.7 526.4,524.1 533.7,516.3 540.5,508.2 547,499.8 552.9,491.1 558.5,481.9 563.7,472.2 567.8,461.4 567.8,461.4 557.6,466.9 548.7,473.5 540.5,480.8 533,488.8 526.3,497.6 520.5,507 515.6,516.9 511.7,527.5 509.7,538.9" fill="#b4d23c"/>
<polygon points="565.8,423.9 581.9,428.4 591.5,425 599.9,419.8 607.7,413.6 615.1,406.5 622.1,398.7 628.7,390.4 634.9,381.7 640.3,371.7 640.3,371.7 629.1,373.1 618.7,376 608.8,379.4 599.2,383.2 590,387.5 581.1,392.7 573,399.1 566.1,407.5 565.8,423.9" fill="#f6ea34"/>
<polygon points="522.9,517.6 531.6,510.4 539.2,502.4 545.9,493.8 551.8,484.5 556.6,474.2 556.6,474.2 547.1,480.7 539.1,488.4 532.3,497.2 526.7,506.9 522.9,517.6" fill="#f6ea34"/>
<polygon points="572.1,418.9 586.9,421.4 595.9,416.5 603.9,409.7 611.3,401.8 618.1,393.1 623.8,382.9 623.8,382.9 612.6,385.1 602.3,388.6 592.4,392.8 583.1,398 575,405 572.1,418.9" fill="#f08a30"/>
<polygon points="575.3,416.5 588.3,417.6 596.6,412.2 603.9,405.2 610.6,397.3 616.4,388 616.4,388 606.2,390.8 596.7,394.6 587.7,399.3 579.6,405.3 575.3,416.5" fill="#e63232"/>
</g>
<use href="#edgeN"/>
<ellipse cx="543.3" cy="535.5" rx="38" ry="8.5" transform="rotate(-60 543.3 535.5)" fill="#fff" filter="url(#b4)"/>
</g>
<g transform="translate(1721 1660.8) scale(1.01)" clip-path="url(#pc)">
<rect x="400" y="0" width="900" height="1400" fill="#40498c"/>
<g filter="url(#b25)"><use href="#o3"/><use href="#i2"/></g>
<g filter="url(#b10)">
<polygon points="429.4,640 444.4,632.5 457.9,625.6 470.9,619.3 483.6,613.4 496.2,607.8 508.7,602.6 521,597.9 533.3,593.6 539.1,587.2 542.2,579.8 545.4,572.3 548.8,564.8 552.4,557.4 556,550.1 559.8,543 563.7,536.1 567.7,529.3 571.9,522.5 576.4,515.7 580.9,509 585.4,502.8 589.8,496.9 594.3,491.2 599.2,485.6 604.3,479.9 609.7,474.2 615.5,468.3 620.7,463.3 625.2,459.2 630.2,455.1 636.7,450.1 643.9,444.7 651.2,439.3 658.2,434.2 664.8,429.7 671.4,425.4 678.5,420.9 686,416.4 694,411.6 703.6,405.9 714.5,399.1 724.2,392.7 732.2,387.2 735.9,376.3 739.1,364.1 742.3,351.5 745.7,338.6 749,325.3 752.2,311.5 755,297.1 757.3,281.7 757.3,262.8 757.3,262.8 747.9,266.6 738.7,270.7 729.6,275 720.5,279.3 711.4,283.7 702.4,288.2 693.4,292.8 684.4,297.5 675.5,302.5 667.2,308.1 659,313.5 650.8,318.6 642.3,323.7 633.6,328.8 624.9,334.1 616.3,339.5 607.8,345.1 599.3,351 591.1,356.9 583,362.9 574.9,369 566.8,375.2 558.8,381.8 551,388.8 543.6,396 536.4,403.2 529.4,410.7 522.5,418.3 515.8,426.1 509.4,434.2 503.1,442.4 497.2,450.7 491.4,459.2 485.9,467.8 480.5,476.4 475.3,485.3 470.3,494.2 465.5,503.2 460.9,512.3 456.4,521.5 452.2,530.8 448.1,540.2 444.3,549.7 440.9,559.4 438.5,569.3 436.3,579.3 434.4,589.4 432.7,599.5 431.3,609.6 430.2,619.7 429.5,629.8 429.4,640" fill="#4a96d6" fill-opacity="0.85"/>
<polygon points="429.4,640 443.3,632.2 455.7,625 467.8,618.2 479.6,611.9 491.4,605.9 503.1,600.3 514.6,595 523.4,589.2 526.4,581.3 529.6,573.5 533,565.7 536.6,557.9 540.3,550.2 544.2,542.6 548.1,535.2 552.2,527.9 556.5,520.8 561,513.6 565.6,506.5 570.4,499.6 575.1,493.1 579.8,486.9 584.8,480.9 590,474.9 595.4,468.9 601.3,462.8 607.2,456.8 612.6,451.6 617.6,447.4 623.4,442.6 630.5,437.2 638,431.6 645.4,426.2 652.6,421.1 659.4,416.5 666.5,411.9 674,407.2 681.9,402.5 690.6,397.4 700,390.3 706.1,377.1 710.6,364.5 713.9,352.2 717.3,339.8 720.6,326.8 723.8,313.3 726.6,298.9 727.5,281.2 727.5,281.2 718,284.9 708.6,289.1 699.4,293.5 690.2,298 681.1,302.6 672.1,307.4 663.1,312.2 654.3,316.7 645.8,321.6 637.1,326.8 628.3,332 619.5,337.5 610.9,343.1 602.3,348.9 593.9,354.8 585.7,360.9 577.5,367 569.3,373.2 561.2,379.8 553.2,386.7 545.6,393.9 538.3,401.3 531.2,408.7 524.2,416.4 517.4,424.2 510.8,432.3 504.5,440.6 498.4,449 492.5,457.5 486.9,466.1 481.4,474.9 476.1,483.8 471,492.8 466.1,501.9 461.5,511.1 457,520.4 452.7,529.8 448.5,539.2 444.6,548.8 440.9,558.4 438.2,568.4 436,578.6 434.1,588.7 432.5,598.9 431.1,609.2 430.1,619.4 429.4,629.7 429.4,640" fill="#48b8ea" fill-opacity="0.9"/>
</g>
<g filter="url(#b7)">
<polygon points="543.7,442.7 565.2,452 577.2,451.1 587.4,448.7 596.5,445.6 605.1,441.8 613.7,437.4 622.2,432.3 630.6,426.7 639,420.4 646.8,414 654.2,407.4 661.2,400.9 668.1,394.5 675.1,387.8 682.5,380.8 690,373.5 697.5,365.8 705,357.8 712.1,349.5 718.9,341 725.3,332.2 731.3,323 736.3,312.1 736.3,312.1 724.7,312.9 714.1,315.2 703.8,317.8 693.7,320.6 683.8,323.3 674,326.1 664.2,328.9 654.3,331.9 644.2,335.3 634.1,339.2 624,343.7 614.3,348.5 605,353.5 596.3,358.6 587.9,363.9 579.6,369.6 571.3,375.9 563.3,382.9 555.5,390.9 548.4,399.9 542.7,409.9 538.9,421.6 543.7,442.7" fill="#74c044" fill-opacity="0.95"/>
<polygon points="473.9,626.8 480,618.5 486.3,610.2 492.6,601.8 498.7,593.2 504.6,584.7 510.4,576.5 516,568.6 521.7,561.2 527.4,554 533.1,546.9 538.8,539.6 544.4,532.2 549.7,524.5 554.8,516.7 559.7,508.5 564.3,500 568.6,491 572.5,481.5 576,471.5 578.9,460.7 579.9,448.1 579.9,448.1 567,449.9 556.2,453.8 546.2,458.5 536.9,464 528.2,470.3 520.1,477.2 512.7,484.9 505.9,493.2 499.8,502 494.4,511.4 489.7,521.3 485.6,531.7 482.4,542.5 480,553.5 478.4,564.3 477.5,574.9 476.8,585.3 476.2,595.6 475.5,606 474.6,616.4 473.9,626.8" fill="#74c044" fill-opacity="0.95"/>
<polygon points="505,548 517.8,543.2 527.8,537.2 536.7,531 544.8,524.8 552.4,518.3 559.4,511.2 565.8,503.4 571.6,494.9 576.4,486.1 580.2,477.3 583.2,468.4 585.7,459.2 587.9,449.6 590,439.4 591.9,428.4 592.4,414.8 592.4,414.8 579.8,416.4 568.9,420.7 558.9,426.2 549.6,432.8 541.3,440.3 533.9,448.2 527.5,456.5 522,464.9 517.2,473.4 512.9,482.5 509.1,492.2 506,502.5 503.8,513.3 502.7,524.3 502.6,535.6 505,548" fill="#74c044" fill-opacity="0.95"/>
</g>
<g filter="url(#b3)">
<polygon points="553.5,434.1 573.8,442.7 585,441.4 594.4,438.4 603,434.2 611.3,429 619.3,423 627.1,416.2 634.5,408.9 641.5,401.2 648.1,393.4 654.4,385.4 660.7,377.2 667.2,368.6 673.5,359.5 678.9,348.5 678.9,348.5 667.1,348.3 656.2,349.8 645.4,351.9 634.7,354.7 624.4,358 614.3,361.8 604.7,365.8 595.6,370.1 586.7,374.9 578,380.3 569.6,386.6 561.7,394 554.8,403 549.9,413.9 553.5,434.1" fill="#b4d23c"/>
<polygon points="505,547.7 513.6,540.6 521.1,533.1 528.3,525.6 535.2,517.9 541.7,510.1 547.8,502 553.7,493.6 559.3,484.8 564.5,475.7 569.4,466.1 573.2,455.5 573.2,455.5 563,460.4 554,466.6 545.6,473.3 537.8,480.6 530.6,488.5 524.1,497 518.4,506.1 513.4,515.8 509.3,525.9 506.2,536.4 505,547.7" fill="#b4d23c"/>
<polygon points="561.2,427.7 580.9,436.4 591.4,434.4 600.3,430.3 608.4,424.7 616.1,418 623.4,410.5 630.2,402.2 636.5,393.6 642.5,384.5 648.2,375 653,363.7 653,363.7 641.1,364 630.2,366.2 619.7,369.2 609.6,372.5 599.9,376.2 590.5,380.4 581.5,385.3 572.9,391.3 565.2,398.8 559.1,408.5 561.2,427.7" fill="#f6ea34"/>
<polygon points="516.3,527.7 525.1,520.5 532.8,512.8 540,504.8 546.5,496.3 552.5,487.4 558,477.9 562.5,467.4 562.5,467.4 552.7,473.3 544.2,480.5 536.5,488.4 529.8,497.1 524,506.5 519.4,516.7 516.3,527.7" fill="#f6ea34"/>
<polygon points="565.8,423.9 585.1,431.8 595.3,428.5 604,423 612,416 619.5,408.1 626.6,399.3 633.2,390.1 639.3,380.3 644.5,368.9 644.5,368.9 632.7,370.5 621.8,373.6 611.3,377.2 601.2,381.2 591.4,385.7 582,391 573.2,397.5 565.8,406.1 565.8,423.9" fill="#f08a30"/>
<polygon points="568.9,421.4 587.1,428 597,424 605.6,417.9 613.5,410.5 620.9,402.1 627.8,393 634.1,383.4 639.5,372.2 639.5,372.2 628,374.5 617.4,378.1 607.1,382.1 597.2,386.5 587.6,391.6 578.6,397.7 570.7,405.6 568.9,421.4" fill="#e63232"/>
<polygon points="533.3,503 537.4,499.6 541,495.8 544.2,491.7 547.1,487.4 549.5,482.6 549.5,482.6 545.2,485.8 541.5,489.6 538.3,493.6 535.5,498.1 533.3,503" fill="#f08a30"/>
<polygon points="576.9,415.3 588.8,416.9 596.3,412.5 602.7,406.4 608.4,399.1 613.1,390.3 613.1,390.3 604,392.7 595.7,396 587.9,400.2 580.9,405.7 576.9,415.3" fill="#e8358a"/>
<polygon points="583.4,410.6 587.3,410.7 590.5,409.7 593.2,407.9 595.2,405.3 596.5,401.5 596.5,401.5 592.9,401.9 589.9,403.2 587.2,405 585,407.4 583.4,410.6" fill="#a060b0"/>
</g>
<use href="#edgeN"/>
<ellipse cx="530.5" cy="552" rx="36" ry="8.5" transform="rotate(-62 530.5 552)" fill="#fff" filter="url(#b4)"/>
</g>
<use href="#inset" x="636" y="693.3"/>
<use href="#inset" x="1507" y="693.1"/>
<use href="#inset" x="2368.7" y="693.1"/>
<use href="#inset" x="636" y="2387.9"/>
<use href="#inset" x="1507" y="2387.9"/>
<use href="#inset" x="2368.7" y="2387.9"/>
<use href="#sbar" x="522.1" y="1449"/>
<text x="522.1" y="1440.8" text-anchor="middle">0</text>
<text x="737.9" y="1440.8">200.00</text>
<text x="1006.3" y="1440.8">400.00 (mm)</text>
<text x="591.3" y="1520.7">100.00</text>
<text x="902.6" y="1520.7">300.00</text>
<text x="759.4" y="1583.2">(a) 60d</text>
<use href="#sbar" x="1386" y="1449"/>
<text x="1386" y="1440.8" text-anchor="middle">0</text>
<text x="1601.8" y="1440.8">200.00</text>
<text x="1870.2" y="1440.8">400.00 (mm)</text>
<text x="1455.2" y="1520.7">100.00</text>
<text x="1766.5" y="1520.7">300.00</text>
<text x="1622.9" y="1583.2">(b) 120d</text>
<use href="#sbar" x="2261.3" y="1449"/>
<text x="2261.3" y="1440.8" text-anchor="middle">0</text>
<text x="2477.1" y="1440.8">200.00</text>
<text x="2745.5" y="1440.8">400.00 (mm)</text>
<text x="2330.5" y="1520.7">100.00</text>
<text x="2641.8" y="1520.7">300.00</text>
<text x="2498.3" y="1583.2">(c) 180d</text>
<use href="#sbar" x="522.1" y="3118.4"/>
<text x="522.1" y="3110.2" text-anchor="middle">0</text>
<text x="737.9" y="3110.2">200.00</text>
<text x="1006.3" y="3110.2">400.00 (mm)</text>
<text x="591.3" y="3190.1">100.00</text>
<text x="902.6" y="3190.1">300.00</text>
<text x="758.9" y="3252.6">(d) 240d</text>
<use href="#sbar" x="1386" y="3118.4"/>
<text x="1386" y="3110.2" text-anchor="middle">0</text>
<text x="1601.8" y="3110.2">200.00</text>
<text x="1870.2" y="3110.2">400.00 (mm)</text>
<text x="1455.2" y="3190.1">100.00</text>
<text x="1766.5" y="3190.1">300.00</text>
<text x="1658.1" y="3252.6">(e) 300d</text>
<use href="#sbar" x="2261.3" y="3118.4"/>
<text x="2261.3" y="3110.2" text-anchor="middle">0</text>
<text x="2477.1" y="3110.2">200.00</text>
<text x="2745.5" y="3110.2">400.00 (mm)</text>
<text x="2330.5" y="3190.1">100.00</text>
<text x="2641.8" y="3190.1">300.00</text>
<text x="2498.3" y="3252.6">(f) 360d</text>
<text x="0" y="483">DPM <tspan style="font-size:62.5px" dy="5">减薄量</tspan><tspan dy="-5">/mm</tspan></text>
<rect x="22" y="546" width="117" height="1156" fill="url(#cb)"/>
<rect x="24" y="1697" width="113" height="3.4" fill="#fff"/>
<rect x="22" y="546" width="117" height="1156" fill="none" stroke="#1a1a1a" stroke-width="4"/>
<text x="165" y="569">3.70</text>
<text x="165" y="801.2">2.96</text>
<rect x="115" y="774.6" width="24" height="4" fill="#1a1a1a"/>
<text x="165" y="1033.4">2.22</text>
<rect x="115" y="1006.8" width="24" height="4" fill="#1a1a1a"/>
<text x="165" y="1265.6">1.48</text>
<rect x="115" y="1239" width="24" height="4" fill="#1a1a1a"/>
<text x="165" y="1497.8">0.74</text>
<rect x="115" y="1471.2" width="24" height="4" fill="#1a1a1a"/>
<text x="165" y="1730">0.00</text>
<g>
<line x1="125.3" y1="2739" x2="125.3" y2="2690" stroke="#4a8c3c" stroke-width="4.2"/>
<polygon points="125.3,2663.3 135.2,2700.8 125.3,2691 115.6,2700.8" fill="#4a8c3c"/>
<g transform="translate(125.3 2739.2) rotate(28.7)"><line x1="0" y1="0" x2="48" y2="0" stroke="#d9342b" stroke-width="4.2"/><polygon points="73,0 35.5,9.8 45.3,0 35.5,-9.8" fill="#d9342b"/></g>
<g transform="translate(125.3 2739.2) rotate(148.8)"><line x1="0" y1="0" x2="48" y2="0" stroke="#3f4a9a" stroke-width="4.2"/><polygon points="73,0 35.5,9.8 45.3,0 35.5,-9.8" fill="#3f4a9a"/></g>
<circle cx="125.3" cy="2739.2" r="10.4" fill="#6cc4cf"/>
<text x="106.5" y="2653.6" font-style="italic" style="fill:#4a8c3c;font-size:63px">Y</text>
<text x="192" y="2806.4" font-style="italic" style="fill:#d9342b;font-size:63px">X</text>
<text x="15" y="2808.4" font-style="italic" style="fill:#3f4a9a;font-size:63px">Z</text>
</g>
</svg></body></html>
